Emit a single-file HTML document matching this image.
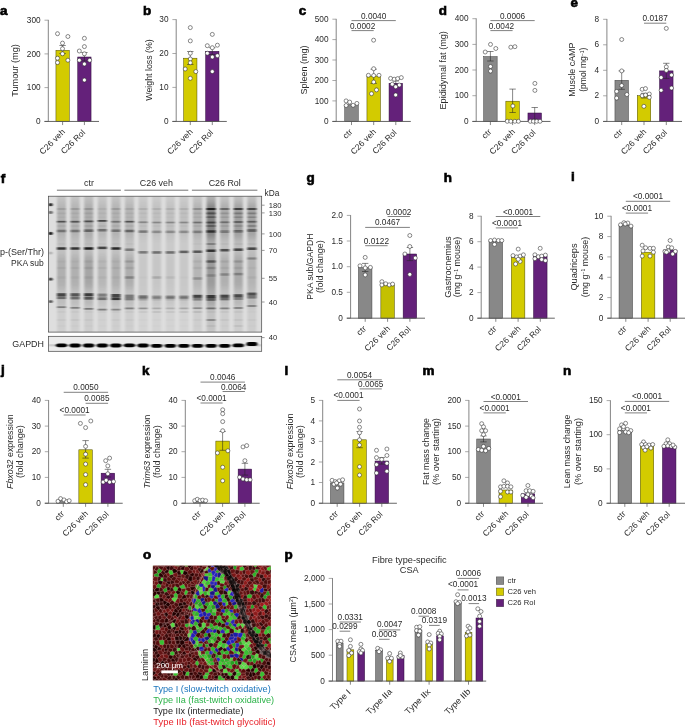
<!DOCTYPE html>
<html lang="en"><head><meta charset="utf-8"><title>Figure</title>
<style>html,body{margin:0;padding:0;background:#fff}svg{display:block}svg{font-family:"Liberation Sans",Arial,Helvetica,sans-serif;font-size:8.4px;fill:#2a2a2a}</style>
</head><body>
<svg width="685" height="728" viewBox="0 0 685 728">
<rect width="685" height="728" fill="#fff"/>
<text transform="translate(-0.10 14.60) scale(1.12 1)" font-weight="bold" fill="#000" font-size="12" stroke="#000" stroke-width="0.6">a</text>
<rect x="55.95" y="50.30" width="13.30" height="71.15" fill="#d3cb00" stroke="#4a4800" stroke-width="0.5"/>
<rect x="77.75" y="57.00" width="13.30" height="64.45" fill="#64217a" stroke="#2a0838" stroke-width="0.5"/>
<line x1="62.60" y1="45.50" x2="62.60" y2="53.50" stroke="#222" stroke-width="0.55"/>
<line x1="59.40" y1="45.50" x2="65.80" y2="45.50" stroke="#222" stroke-width="0.55"/>
<line x1="59.40" y1="53.50" x2="65.80" y2="53.50" stroke="#222" stroke-width="0.55"/>
<line x1="84.40" y1="52.50" x2="84.40" y2="60.90" stroke="#222" stroke-width="0.55"/>
<line x1="81.20" y1="52.50" x2="87.60" y2="52.50" stroke="#222" stroke-width="0.55"/>
<line x1="81.20" y1="60.90" x2="87.60" y2="60.90" stroke="#222" stroke-width="0.55"/>
<line x1="48.30" y1="19.85" x2="48.30" y2="121.45" stroke="#858585" stroke-width="1"/>
<line x1="44.50" y1="121.45" x2="99.00" y2="121.45" stroke="#555555" stroke-width="0.9"/>
<line x1="44.50" y1="20.20" x2="48.30" y2="20.20" stroke="#858585" stroke-width="0.7"/>
<text transform="translate(40.60 22.85) scale(0.985 1)" text-anchor="end">300</text>
<line x1="44.50" y1="53.90" x2="48.30" y2="53.90" stroke="#858585" stroke-width="0.7"/>
<text transform="translate(40.60 56.55) scale(0.985 1)" text-anchor="end">200</text>
<line x1="44.50" y1="87.60" x2="48.30" y2="87.60" stroke="#858585" stroke-width="0.7"/>
<text transform="translate(40.60 90.25) scale(0.985 1)" text-anchor="end">100</text>
<line x1="44.50" y1="121.45" x2="48.30" y2="121.45" stroke="#555555" stroke-width="0.7"/>
<text transform="translate(40.60 124.10) scale(0.985 1)" text-anchor="end">0</text>
<line x1="62.60" y1="121.45" x2="62.60" y2="125.05" stroke="#555555" stroke-width="0.7"/>
<text transform="translate(65.60 132.35) rotate(-45) scale(1.03 1)" text-anchor="end">C26 veh</text>
<line x1="84.40" y1="121.45" x2="84.40" y2="125.05" stroke="#555555" stroke-width="0.7"/>
<text transform="translate(85.70 133.15) rotate(-45)" text-anchor="end">C26 Rol</text>
<g fill="#fff" stroke="#2a2a2a" stroke-width="0.55">
<circle cx="57.5" cy="33.7" r="2"/>
<circle cx="67.9" cy="36.5" r="2"/>
<circle cx="62.5" cy="43.1" r="2"/>
<circle cx="62.5" cy="48.7" r="2"/>
<circle cx="62.5" cy="53.8" r="2"/>
<circle cx="57.5" cy="58.2" r="2"/>
<circle cx="67.9" cy="60.2" r="2"/>
<circle cx="57.5" cy="62.6" r="2"/>
<circle cx="84.4" cy="38.3" r="2"/>
<circle cx="84.4" cy="46.6" r="2"/>
<circle cx="79.3" cy="51.0" r="2"/>
<circle cx="84.4" cy="53.8" r="2"/>
<circle cx="79.3" cy="60.2" r="2"/>
<circle cx="89.7" cy="60.2" r="2"/>
<circle cx="84.4" cy="64.0" r="2"/>
<circle cx="84.4" cy="80.1" r="2"/>
</g>
<text transform="translate(17.50 70.50) rotate(-90)" text-anchor="middle" font-size="8.6" textLength="52.6" lengthAdjust="spacingAndGlyphs">Tumour (mg)</text>
<text transform="translate(142.90 14.80) scale(1.12 1)" font-weight="bold" fill="#000" font-size="12" stroke="#000" stroke-width="0.6">b</text>
<rect x="183.65" y="58.20" width="13.30" height="63.25" fill="#d3cb00" stroke="#4a4800" stroke-width="0.5"/>
<rect x="205.65" y="51.30" width="13.30" height="70.15" fill="#64217a" stroke="#2a0838" stroke-width="0.5"/>
<line x1="190.30" y1="51.50" x2="190.30" y2="64.50" stroke="#222" stroke-width="0.55"/>
<line x1="187.10" y1="51.50" x2="193.50" y2="51.50" stroke="#222" stroke-width="0.55"/>
<line x1="187.10" y1="64.50" x2="193.50" y2="64.50" stroke="#222" stroke-width="0.55"/>
<line x1="212.30" y1="47.70" x2="212.30" y2="54.50" stroke="#222" stroke-width="0.55"/>
<line x1="209.10" y1="47.70" x2="215.50" y2="47.70" stroke="#222" stroke-width="0.55"/>
<line x1="209.10" y1="54.50" x2="215.50" y2="54.50" stroke="#222" stroke-width="0.55"/>
<line x1="176.20" y1="19.25" x2="176.20" y2="121.45" stroke="#858585" stroke-width="1"/>
<line x1="172.40" y1="121.45" x2="226.80" y2="121.45" stroke="#555555" stroke-width="0.9"/>
<line x1="172.40" y1="19.60" x2="176.20" y2="19.60" stroke="#858585" stroke-width="0.7"/>
<text transform="translate(168.50 22.25) scale(0.985 1)" text-anchor="end">30</text>
<line x1="172.40" y1="53.50" x2="176.20" y2="53.50" stroke="#858585" stroke-width="0.7"/>
<text transform="translate(168.50 56.15) scale(0.985 1)" text-anchor="end">20</text>
<line x1="172.40" y1="87.40" x2="176.20" y2="87.40" stroke="#858585" stroke-width="0.7"/>
<text transform="translate(168.50 90.05) scale(0.985 1)" text-anchor="end">10</text>
<line x1="172.40" y1="121.45" x2="176.20" y2="121.45" stroke="#555555" stroke-width="0.7"/>
<text transform="translate(168.50 124.10) scale(0.985 1)" text-anchor="end">0</text>
<line x1="190.30" y1="121.45" x2="190.30" y2="125.05" stroke="#555555" stroke-width="0.7"/>
<text transform="translate(193.30 132.35) rotate(-45) scale(1.03 1)" text-anchor="end">C26 veh</text>
<line x1="212.30" y1="121.45" x2="212.30" y2="125.05" stroke="#555555" stroke-width="0.7"/>
<text transform="translate(213.60 133.15) rotate(-45)" text-anchor="end">C26 Rol</text>
<g fill="#fff" stroke="#2a2a2a" stroke-width="0.55">
<circle cx="190.3" cy="27.6" r="2"/>
<circle cx="190.3" cy="40.9" r="2"/>
<circle cx="190.3" cy="53.2" r="2"/>
<circle cx="190.3" cy="59.0" r="2"/>
<circle cx="190.3" cy="62.8" r="2"/>
<circle cx="185.2" cy="69.0" r="2"/>
<circle cx="195.8" cy="71.6" r="2"/>
<circle cx="190.3" cy="78.3" r="2"/>
<circle cx="212.3" cy="34.4" r="2"/>
<circle cx="207.3" cy="45.7" r="2"/>
<circle cx="217.4" cy="45.2" r="2"/>
<circle cx="212.3" cy="47.7" r="2"/>
<circle cx="207.3" cy="53.2" r="2"/>
<circle cx="217.4" cy="55.7" r="2"/>
<circle cx="212.3" cy="57.0" r="2"/>
<circle cx="212.3" cy="71.6" r="2"/>
</g>
<text transform="translate(152.40 70.00) rotate(-90)" text-anchor="middle" font-size="8.6" textLength="61.4" lengthAdjust="spacingAndGlyphs">Weight loss (%)</text>
<text transform="translate(298.70 14.60) scale(1.12 1)" font-weight="bold" fill="#000" font-size="12" stroke="#000" stroke-width="0.6">c</text>
<rect x="344.75" y="104.80" width="13.50" height="16.65" fill="#888888" stroke="#3c3c3c" stroke-width="0.5"/>
<rect x="366.95" y="76.00" width="13.50" height="45.45" fill="#d3cb00" stroke="#4a4800" stroke-width="0.5"/>
<rect x="389.05" y="83.30" width="13.50" height="38.15" fill="#64217a" stroke="#2a0838" stroke-width="0.5"/>
<line x1="373.70" y1="69.20" x2="373.70" y2="83.40" stroke="#222" stroke-width="0.55"/>
<line x1="370.50" y1="69.20" x2="376.90" y2="69.20" stroke="#222" stroke-width="0.55"/>
<line x1="370.50" y1="83.40" x2="376.90" y2="83.40" stroke="#222" stroke-width="0.55"/>
<line x1="395.80" y1="81.00" x2="395.80" y2="85.60" stroke="#222" stroke-width="0.55"/>
<line x1="392.60" y1="81.00" x2="399.00" y2="81.00" stroke="#222" stroke-width="0.55"/>
<line x1="392.60" y1="85.60" x2="399.00" y2="85.60" stroke="#222" stroke-width="0.55"/>
<line x1="336.20" y1="18.85" x2="336.20" y2="121.45" stroke="#858585" stroke-width="1"/>
<line x1="332.40" y1="121.45" x2="410.80" y2="121.45" stroke="#555555" stroke-width="0.9"/>
<line x1="332.40" y1="19.20" x2="336.20" y2="19.20" stroke="#858585" stroke-width="0.7"/>
<text transform="translate(328.50 21.85) scale(0.985 1)" text-anchor="end">500</text>
<line x1="332.40" y1="39.60" x2="336.20" y2="39.60" stroke="#858585" stroke-width="0.7"/>
<text transform="translate(328.50 42.25) scale(0.985 1)" text-anchor="end">400</text>
<line x1="332.40" y1="60.00" x2="336.20" y2="60.00" stroke="#858585" stroke-width="0.7"/>
<text transform="translate(328.50 62.65) scale(0.985 1)" text-anchor="end">300</text>
<line x1="332.40" y1="80.50" x2="336.20" y2="80.50" stroke="#858585" stroke-width="0.7"/>
<text transform="translate(328.50 83.15) scale(0.985 1)" text-anchor="end">200</text>
<line x1="332.40" y1="100.90" x2="336.20" y2="100.90" stroke="#858585" stroke-width="0.7"/>
<text transform="translate(328.50 103.55) scale(0.985 1)" text-anchor="end">100</text>
<line x1="332.40" y1="121.45" x2="336.20" y2="121.45" stroke="#555555" stroke-width="0.7"/>
<text transform="translate(328.50 124.10) scale(0.985 1)" text-anchor="end">0</text>
<line x1="351.50" y1="121.45" x2="351.50" y2="125.05" stroke="#555555" stroke-width="0.7"/>
<text transform="translate(353.10 132.35) rotate(-45) scale(1.06 1)" text-anchor="end">ctr</text>
<line x1="373.70" y1="121.45" x2="373.70" y2="125.05" stroke="#555555" stroke-width="0.7"/>
<text transform="translate(376.70 132.35) rotate(-45) scale(1.03 1)" text-anchor="end">C26 veh</text>
<line x1="395.80" y1="121.45" x2="395.80" y2="125.05" stroke="#555555" stroke-width="0.7"/>
<text transform="translate(397.10 133.15) rotate(-45)" text-anchor="end">C26 Rol</text>
<g fill="#fff" stroke="#2a2a2a" stroke-width="0.55">
<circle cx="346.1" cy="100.9" r="2"/>
<circle cx="349.7" cy="102.1" r="2"/>
<circle cx="356.9" cy="103.4" r="2"/>
<circle cx="346.1" cy="105.5" r="2"/>
<circle cx="353.1" cy="105.3" r="2"/>
<circle cx="373.6" cy="40.2" r="2"/>
<circle cx="373.7" cy="68.7" r="2"/>
<circle cx="368.4" cy="75.3" r="2"/>
<circle cx="373.7" cy="75.5" r="2"/>
<circle cx="379.0" cy="75.3" r="2"/>
<circle cx="373.7" cy="82.0" r="2"/>
<circle cx="376.5" cy="89.9" r="2"/>
<circle cx="371.5" cy="93.7" r="2"/>
<circle cx="390.6" cy="78.4" r="2"/>
<circle cx="394.2" cy="79.2" r="2"/>
<circle cx="397.7" cy="78.6" r="2"/>
<circle cx="401.3" cy="77.6" r="2"/>
<circle cx="392.3" cy="84.2" r="2"/>
<circle cx="399.3" cy="85.0" r="2"/>
<circle cx="395.7" cy="86.8" r="2"/>
<circle cx="395.7" cy="94.9" r="2"/>
</g>
<text transform="translate(306.50 70.00) rotate(-90)" text-anchor="middle" font-size="8.6" textLength="48.8" lengthAdjust="spacingAndGlyphs">Spleen (mg)</text>
<line x1="351.50" y1="20.60" x2="395.80" y2="20.60" stroke="#4a4a4a" stroke-width="0.7"/>
<text transform="translate(373.65 18.60) scale(0.985 1)" text-anchor="middle">0.0040</text>
<line x1="351.50" y1="30.60" x2="373.70" y2="30.60" stroke="#4a4a4a" stroke-width="0.7"/>
<text transform="translate(362.60 28.60) scale(0.985 1)" text-anchor="middle">0.0002</text>
<text transform="translate(438.70 14.80) scale(1.12 1)" font-weight="bold" fill="#000" font-size="12" stroke="#000" stroke-width="0.6">d</text>
<rect x="483.65" y="56.60" width="13.50" height="64.85" fill="#888888" stroke="#3c3c3c" stroke-width="0.5"/>
<rect x="505.85" y="101.20" width="13.50" height="20.25" fill="#d3cb00" stroke="#4a4800" stroke-width="0.5"/>
<rect x="527.95" y="113.00" width="13.50" height="8.45" fill="#64217a" stroke="#2a0838" stroke-width="0.5"/>
<line x1="490.40" y1="51.50" x2="490.40" y2="61.00" stroke="#222" stroke-width="0.55"/>
<line x1="487.20" y1="51.50" x2="493.60" y2="51.50" stroke="#222" stroke-width="0.55"/>
<line x1="487.20" y1="61.00" x2="493.60" y2="61.00" stroke="#222" stroke-width="0.55"/>
<line x1="512.60" y1="89.10" x2="512.60" y2="112.50" stroke="#222" stroke-width="0.55"/>
<line x1="509.40" y1="89.10" x2="515.80" y2="89.10" stroke="#222" stroke-width="0.55"/>
<line x1="509.40" y1="112.50" x2="515.80" y2="112.50" stroke="#222" stroke-width="0.55"/>
<line x1="534.70" y1="107.50" x2="534.70" y2="119.30" stroke="#222" stroke-width="0.55"/>
<line x1="531.50" y1="107.50" x2="537.90" y2="107.50" stroke="#222" stroke-width="0.55"/>
<line x1="531.50" y1="119.30" x2="537.90" y2="119.30" stroke="#222" stroke-width="0.55"/>
<line x1="476.20" y1="18.35" x2="476.20" y2="121.45" stroke="#858585" stroke-width="1"/>
<line x1="472.40" y1="121.45" x2="550.50" y2="121.45" stroke="#555555" stroke-width="0.9"/>
<line x1="472.40" y1="18.70" x2="476.20" y2="18.70" stroke="#858585" stroke-width="0.7"/>
<text transform="translate(468.50 21.35) scale(0.985 1)" text-anchor="end">400</text>
<line x1="472.40" y1="44.40" x2="476.20" y2="44.40" stroke="#858585" stroke-width="0.7"/>
<text transform="translate(468.50 47.05) scale(0.985 1)" text-anchor="end">300</text>
<line x1="472.40" y1="70.00" x2="476.20" y2="70.00" stroke="#858585" stroke-width="0.7"/>
<text transform="translate(468.50 72.65) scale(0.985 1)" text-anchor="end">200</text>
<line x1="472.40" y1="95.70" x2="476.20" y2="95.70" stroke="#858585" stroke-width="0.7"/>
<text transform="translate(468.50 98.35) scale(0.985 1)" text-anchor="end">100</text>
<line x1="472.40" y1="121.45" x2="476.20" y2="121.45" stroke="#555555" stroke-width="0.7"/>
<text transform="translate(468.50 124.10) scale(0.985 1)" text-anchor="end">0</text>
<line x1="490.40" y1="121.45" x2="490.40" y2="125.05" stroke="#555555" stroke-width="0.7"/>
<text transform="translate(492.00 132.35) rotate(-45) scale(1.06 1)" text-anchor="end">ctr</text>
<line x1="512.60" y1="121.45" x2="512.60" y2="125.05" stroke="#555555" stroke-width="0.7"/>
<text transform="translate(515.60 132.35) rotate(-45) scale(1.03 1)" text-anchor="end">C26 veh</text>
<line x1="534.70" y1="121.45" x2="534.70" y2="125.05" stroke="#555555" stroke-width="0.7"/>
<text transform="translate(536.00 133.15) rotate(-45)" text-anchor="end">C26 Rol</text>
<g fill="#fff" stroke="#2a2a2a" stroke-width="0.55">
<circle cx="490.5" cy="44.4" r="2"/>
<circle cx="495.8" cy="48.5" r="2"/>
<circle cx="485.2" cy="52.0" r="2"/>
<circle cx="490.5" cy="66.5" r="2"/>
<circle cx="490.5" cy="71.1" r="2"/>
<circle cx="510.8" cy="47.2" r="2"/>
<circle cx="514.9" cy="46.7" r="2"/>
<circle cx="512.9" cy="106.0" r="2"/>
<circle cx="507.3" cy="121.3" r="2"/>
<circle cx="510.8" cy="121.3" r="2"/>
<circle cx="514.9" cy="121.3" r="2"/>
<circle cx="518.4" cy="121.3" r="2"/>
<circle cx="534.9" cy="83.4" r="2"/>
<circle cx="534.9" cy="90.4" r="2"/>
<circle cx="530.4" cy="121.3" r="2"/>
<circle cx="533.4" cy="121.3" r="2"/>
<circle cx="536.7" cy="121.3" r="2"/>
<circle cx="540.0" cy="121.3" r="2"/>
</g>
<text transform="translate(446.40 70.30) rotate(-90)" text-anchor="middle" font-size="8.6" textLength="78.3" lengthAdjust="spacingAndGlyphs">Epididymal fat (mg)</text>
<line x1="490.40" y1="20.60" x2="534.70" y2="20.60" stroke="#4a4a4a" stroke-width="0.7"/>
<text transform="translate(512.55 18.60) scale(0.985 1)" text-anchor="middle">0.0006</text>
<line x1="490.40" y1="30.60" x2="512.60" y2="30.60" stroke="#4a4a4a" stroke-width="0.7"/>
<text transform="translate(501.50 28.60) scale(0.985 1)" text-anchor="middle">0.0042</text>
<text transform="translate(570.60 6.60) scale(1.12 1)" font-weight="bold" fill="#000" font-size="12" stroke="#000" stroke-width="0.6">e</text>
<rect x="614.95" y="80.30" width="13.50" height="41.15" fill="#888888" stroke="#3c3c3c" stroke-width="0.5"/>
<rect x="637.25" y="95.70" width="13.50" height="25.75" fill="#d3cb00" stroke="#4a4800" stroke-width="0.5"/>
<rect x="659.55" y="70.90" width="13.50" height="50.55" fill="#64217a" stroke="#2a0838" stroke-width="0.5"/>
<line x1="621.70" y1="70.90" x2="621.70" y2="89.30" stroke="#222" stroke-width="0.55"/>
<line x1="618.50" y1="70.90" x2="624.90" y2="70.90" stroke="#222" stroke-width="0.55"/>
<line x1="618.50" y1="89.30" x2="624.90" y2="89.30" stroke="#222" stroke-width="0.55"/>
<line x1="644.00" y1="93.30" x2="644.00" y2="98.00" stroke="#222" stroke-width="0.55"/>
<line x1="640.80" y1="93.30" x2="647.20" y2="93.30" stroke="#222" stroke-width="0.55"/>
<line x1="640.80" y1="98.00" x2="647.20" y2="98.00" stroke="#222" stroke-width="0.55"/>
<line x1="666.30" y1="63.30" x2="666.30" y2="78.40" stroke="#222" stroke-width="0.55"/>
<line x1="663.10" y1="63.30" x2="669.50" y2="63.30" stroke="#222" stroke-width="0.55"/>
<line x1="663.10" y1="78.40" x2="669.50" y2="78.40" stroke="#222" stroke-width="0.55"/>
<line x1="606.90" y1="18.95" x2="606.90" y2="121.45" stroke="#858585" stroke-width="1"/>
<line x1="603.10" y1="121.45" x2="682.00" y2="121.45" stroke="#555555" stroke-width="0.9"/>
<line x1="603.10" y1="19.30" x2="606.90" y2="19.30" stroke="#858585" stroke-width="0.7"/>
<text transform="translate(599.20 21.95) scale(0.985 1)" text-anchor="end">8</text>
<line x1="603.10" y1="44.80" x2="606.90" y2="44.80" stroke="#858585" stroke-width="0.7"/>
<text transform="translate(599.20 47.45) scale(0.985 1)" text-anchor="end">6</text>
<line x1="603.10" y1="70.30" x2="606.90" y2="70.30" stroke="#858585" stroke-width="0.7"/>
<text transform="translate(599.20 72.95) scale(0.985 1)" text-anchor="end">4</text>
<line x1="603.10" y1="95.80" x2="606.90" y2="95.80" stroke="#858585" stroke-width="0.7"/>
<text transform="translate(599.20 98.45) scale(0.985 1)" text-anchor="end">2</text>
<line x1="603.10" y1="121.45" x2="606.90" y2="121.45" stroke="#555555" stroke-width="0.7"/>
<text transform="translate(599.20 124.10) scale(0.985 1)" text-anchor="end">0</text>
<line x1="621.70" y1="121.45" x2="621.70" y2="125.05" stroke="#555555" stroke-width="0.7"/>
<text transform="translate(623.30 132.35) rotate(-45) scale(1.06 1)" text-anchor="end">ctr</text>
<line x1="644.00" y1="121.45" x2="644.00" y2="125.05" stroke="#555555" stroke-width="0.7"/>
<text transform="translate(647.00 132.35) rotate(-45) scale(1.03 1)" text-anchor="end">C26 veh</text>
<line x1="666.30" y1="121.45" x2="666.30" y2="125.05" stroke="#555555" stroke-width="0.7"/>
<text transform="translate(667.60 133.15) rotate(-45)" text-anchor="end">C26 Rol</text>
<g fill="#fff" stroke="#2a2a2a" stroke-width="0.55">
<circle cx="621.7" cy="39.5" r="2"/>
<circle cx="621.7" cy="70.9" r="2"/>
<circle cx="621.7" cy="85.5" r="2"/>
<circle cx="616.7" cy="91.4" r="2"/>
<circle cx="626.9" cy="94.5" r="2"/>
<circle cx="616.7" cy="98.1" r="2"/>
<circle cx="642.2" cy="89.3" r="2"/>
<circle cx="645.5" cy="88.6" r="2"/>
<circle cx="642.2" cy="95.7" r="2"/>
<circle cx="645.5" cy="95.0" r="2"/>
<circle cx="649.3" cy="94.0" r="2"/>
<circle cx="649.3" cy="97.4" r="2"/>
<circle cx="643.9" cy="106.3" r="2"/>
<circle cx="666.3" cy="28.4" r="2"/>
<circle cx="666.3" cy="66.9" r="2"/>
<circle cx="666.3" cy="70.4" r="2"/>
<circle cx="661.1" cy="77.5" r="2"/>
<circle cx="671.5" cy="75.1" r="2"/>
<circle cx="661.1" cy="90.3" r="2"/>
<circle cx="671.5" cy="88.1" r="2"/>
</g>
<text transform="translate(575.40 69.70) rotate(-90)" text-anchor="middle" font-size="8.6" textLength="54.2" lengthAdjust="spacingAndGlyphs">Muscle cAMP</text>
<text transform="translate(586.30 69.70) rotate(-90)" text-anchor="middle" font-size="8.6" textLength="44.3" lengthAdjust="spacingAndGlyphs">(pmol mg<tspan dy="-2.8" font-size="5">−1</tspan><tspan dy="2.8">)</tspan></text>
<line x1="644.00" y1="23.20" x2="666.30" y2="23.20" stroke="#4a4a4a" stroke-width="0.7"/>
<text transform="translate(655.15 21.20) scale(0.985 1)" text-anchor="middle">0.0187</text>
<text transform="translate(306.40 181.60) scale(1.12 1)" font-weight="bold" fill="#000" font-size="12" stroke="#000" stroke-width="0.6">g</text>
<rect x="358.45" y="267.60" width="13.50" height="50.60" fill="#888888" stroke="#3c3c3c" stroke-width="0.5"/>
<rect x="380.85" y="284.90" width="13.50" height="33.30" fill="#c4c000" stroke="#4a4800" stroke-width="0.5"/>
<rect x="403.15" y="254.00" width="13.50" height="64.20" fill="#64217a" stroke="#2a0838" stroke-width="0.5"/>
<line x1="365.20" y1="263.40" x2="365.20" y2="271.50" stroke="#222" stroke-width="0.55"/>
<line x1="362.00" y1="263.40" x2="368.40" y2="263.40" stroke="#222" stroke-width="0.55"/>
<line x1="362.00" y1="271.50" x2="368.40" y2="271.50" stroke="#222" stroke-width="0.55"/>
<line x1="409.90" y1="247.50" x2="409.90" y2="260.60" stroke="#222" stroke-width="0.55"/>
<line x1="406.70" y1="247.50" x2="413.10" y2="247.50" stroke="#222" stroke-width="0.55"/>
<line x1="406.70" y1="260.60" x2="413.10" y2="260.60" stroke="#222" stroke-width="0.55"/>
<line x1="350.60" y1="215.05" x2="350.60" y2="318.20" stroke="#858585" stroke-width="1"/>
<line x1="346.80" y1="318.20" x2="425.00" y2="318.20" stroke="#555555" stroke-width="0.9"/>
<line x1="346.80" y1="215.40" x2="350.60" y2="215.40" stroke="#858585" stroke-width="0.7"/>
<text transform="translate(342.90 218.05) scale(0.985 1)" text-anchor="end">2.0</text>
<line x1="346.80" y1="241.00" x2="350.60" y2="241.00" stroke="#858585" stroke-width="0.7"/>
<text transform="translate(342.90 243.65) scale(0.985 1)" text-anchor="end">1.5</text>
<line x1="346.80" y1="266.70" x2="350.60" y2="266.70" stroke="#858585" stroke-width="0.7"/>
<text transform="translate(342.90 269.35) scale(0.985 1)" text-anchor="end">1.0</text>
<line x1="346.80" y1="292.30" x2="350.60" y2="292.30" stroke="#858585" stroke-width="0.7"/>
<text transform="translate(342.90 294.95) scale(0.985 1)" text-anchor="end">0.5</text>
<line x1="346.80" y1="318.20" x2="350.60" y2="318.20" stroke="#555555" stroke-width="0.7"/>
<text transform="translate(342.90 320.85) scale(0.985 1)" text-anchor="end">0</text>
<line x1="365.20" y1="318.20" x2="365.20" y2="321.80" stroke="#555555" stroke-width="0.7"/>
<text transform="translate(366.80 329.10) rotate(-45) scale(1.06 1)" text-anchor="end">ctr</text>
<line x1="387.60" y1="318.20" x2="387.60" y2="321.80" stroke="#555555" stroke-width="0.7"/>
<text transform="translate(390.60 329.10) rotate(-45) scale(1.03 1)" text-anchor="end">C26 veh</text>
<line x1="409.90" y1="318.20" x2="409.90" y2="321.80" stroke="#555555" stroke-width="0.7"/>
<text transform="translate(411.20 329.90) rotate(-45)" text-anchor="end">C26 Rol</text>
<g fill="#fff" stroke="#2a2a2a" stroke-width="0.55">
<circle cx="365.2" cy="257.4" r="2"/>
<circle cx="360.0" cy="265.8" r="2"/>
<circle cx="365.2" cy="267.9" r="2"/>
<circle cx="370.4" cy="267.4" r="2"/>
<circle cx="365.2" cy="274.9" r="2"/>
<circle cx="381.9" cy="281.7" r="2"/>
<circle cx="381.9" cy="284.9" r="2"/>
<circle cx="385.8" cy="283.8" r="2"/>
<circle cx="389.2" cy="284.9" r="2"/>
<circle cx="392.6" cy="284.1" r="2"/>
<circle cx="409.8" cy="235.5" r="2"/>
<circle cx="409.8" cy="246.5" r="2"/>
<circle cx="404.9" cy="254.0" r="2"/>
<circle cx="415.3" cy="258.0" r="2"/>
<circle cx="409.8" cy="274.4" r="2"/>
</g>
<text transform="translate(313.10 266.60) rotate(-90)" text-anchor="middle" font-size="8.6" textLength="66.4" lengthAdjust="spacingAndGlyphs">PKA sub/GAPDH</text>
<text transform="translate(323.00 266.60) rotate(-90)" text-anchor="middle" font-size="8.6" textLength="52.8" lengthAdjust="spacingAndGlyphs">(fold change)</text>
<line x1="387.60" y1="216.50" x2="409.90" y2="216.50" stroke="#4a4a4a" stroke-width="0.7"/>
<text transform="translate(398.75 214.50) scale(0.985 1)" text-anchor="middle">0.0002</text>
<line x1="365.20" y1="227.40" x2="409.90" y2="227.40" stroke="#4a4a4a" stroke-width="0.7"/>
<text transform="translate(387.55 225.40) scale(0.985 1)" text-anchor="middle">0.0467</text>
<line x1="365.20" y1="245.70" x2="387.60" y2="245.70" stroke="#4a4a4a" stroke-width="0.7"/>
<text transform="translate(376.40 243.70) scale(0.985 1)" text-anchor="middle">0.0122</text>
<text transform="translate(443.70 181.60) scale(1.12 1)" font-weight="bold" fill="#000" font-size="12" stroke="#000" stroke-width="0.6">h</text>
<rect x="489.05" y="241.00" width="13.50" height="77.20" fill="#888888" stroke="#3c3c3c" stroke-width="0.5"/>
<rect x="511.35" y="257.70" width="13.50" height="60.50" fill="#d3cb00" stroke="#4a4800" stroke-width="0.5"/>
<rect x="533.55" y="256.70" width="13.50" height="61.50" fill="#64217a" stroke="#2a0838" stroke-width="0.5"/>
<line x1="481.20" y1="215.85" x2="481.20" y2="318.20" stroke="#858585" stroke-width="1"/>
<line x1="477.40" y1="318.20" x2="554.80" y2="318.20" stroke="#555555" stroke-width="0.9"/>
<line x1="477.40" y1="216.20" x2="481.20" y2="216.20" stroke="#858585" stroke-width="0.7"/>
<text transform="translate(473.50 218.85) scale(0.985 1)" text-anchor="end">8</text>
<line x1="477.40" y1="241.70" x2="481.20" y2="241.70" stroke="#858585" stroke-width="0.7"/>
<text transform="translate(473.50 244.35) scale(0.985 1)" text-anchor="end">6</text>
<line x1="477.40" y1="267.10" x2="481.20" y2="267.10" stroke="#858585" stroke-width="0.7"/>
<text transform="translate(473.50 269.75) scale(0.985 1)" text-anchor="end">4</text>
<line x1="477.40" y1="292.60" x2="481.20" y2="292.60" stroke="#858585" stroke-width="0.7"/>
<text transform="translate(473.50 295.25) scale(0.985 1)" text-anchor="end">2</text>
<line x1="477.40" y1="318.20" x2="481.20" y2="318.20" stroke="#555555" stroke-width="0.7"/>
<text transform="translate(473.50 320.85) scale(0.985 1)" text-anchor="end">0</text>
<line x1="495.80" y1="318.20" x2="495.80" y2="321.80" stroke="#555555" stroke-width="0.7"/>
<text transform="translate(497.40 329.10) rotate(-45) scale(1.06 1)" text-anchor="end">ctr</text>
<line x1="518.10" y1="318.20" x2="518.10" y2="321.80" stroke="#555555" stroke-width="0.7"/>
<text transform="translate(521.10 329.10) rotate(-45) scale(1.03 1)" text-anchor="end">C26 veh</text>
<line x1="540.30" y1="318.20" x2="540.30" y2="321.80" stroke="#555555" stroke-width="0.7"/>
<text transform="translate(541.60 329.90) rotate(-45)" text-anchor="end">C26 Rol</text>
<g fill="#fff" stroke="#2a2a2a" stroke-width="0.55">
<circle cx="490.6" cy="240.5" r="2"/>
<circle cx="494.5" cy="240.0" r="2"/>
<circle cx="498.4" cy="240.5" r="2"/>
<circle cx="501.8" cy="240.5" r="2"/>
<circle cx="494.5" cy="244.4" r="2"/>
<circle cx="518.2" cy="249.1" r="2"/>
<circle cx="513.0" cy="255.6" r="2"/>
<circle cx="516.7" cy="256.9" r="2"/>
<circle cx="520.1" cy="256.1" r="2"/>
<circle cx="523.4" cy="254.8" r="2"/>
<circle cx="515.6" cy="264.0" r="2"/>
<circle cx="520.1" cy="261.4" r="2"/>
<circle cx="518.2" cy="259.3" r="2"/>
<circle cx="540.2" cy="248.3" r="2"/>
<circle cx="534.9" cy="254.8" r="2"/>
<circle cx="538.3" cy="256.7" r="2"/>
<circle cx="541.7" cy="256.1" r="2"/>
<circle cx="545.4" cy="255.1" r="2"/>
<circle cx="534.9" cy="258.7" r="2"/>
<circle cx="541.7" cy="259.5" r="2"/>
<circle cx="545.4" cy="260.6" r="2"/>
</g>
<text transform="translate(450.50 267.10) rotate(-90)" text-anchor="middle" font-size="8.6" textLength="61.4" lengthAdjust="spacingAndGlyphs">Gastrocnemius</text>
<text transform="translate(460.40 267.10) rotate(-90)" text-anchor="middle" font-size="8.6" textLength="60.4" lengthAdjust="spacingAndGlyphs">(mg g<tspan dy="-2.8" font-size="5">−1</tspan><tspan dy="2.8"> mouse)</tspan></text>
<line x1="495.80" y1="216.50" x2="540.30" y2="216.50" stroke="#4a4a4a" stroke-width="0.7"/>
<text transform="translate(518.05 214.50) scale(0.985 1)" text-anchor="middle">&lt;0.0001</text>
<line x1="495.80" y1="227.90" x2="518.10" y2="227.90" stroke="#4a4a4a" stroke-width="0.7"/>
<text transform="translate(506.95 225.90) scale(0.985 1)" text-anchor="middle">&lt;0.0001</text>
<text transform="translate(571.00 181.20) scale(1.12 1)" font-weight="bold" fill="#000" font-size="12" stroke="#000" stroke-width="0.6">i</text>
<rect x="619.05" y="225.30" width="13.50" height="92.90" fill="#888888" stroke="#3c3c3c" stroke-width="0.5"/>
<rect x="641.35" y="252.20" width="13.50" height="66.00" fill="#d3cb00" stroke="#4a4800" stroke-width="0.5"/>
<rect x="663.45" y="250.10" width="13.50" height="68.10" fill="#64217a" stroke="#2a0838" stroke-width="0.5"/>
<line x1="611.10" y1="215.85" x2="611.10" y2="318.20" stroke="#858585" stroke-width="1"/>
<line x1="607.30" y1="318.20" x2="685.00" y2="318.20" stroke="#555555" stroke-width="0.9"/>
<line x1="607.30" y1="216.20" x2="611.10" y2="216.20" stroke="#858585" stroke-width="0.7"/>
<text transform="translate(603.40 218.85) scale(0.985 1)" text-anchor="end">10</text>
<line x1="607.30" y1="236.60" x2="611.10" y2="236.60" stroke="#858585" stroke-width="0.7"/>
<text transform="translate(603.40 239.25) scale(0.985 1)" text-anchor="end">8</text>
<line x1="607.30" y1="256.90" x2="611.10" y2="256.90" stroke="#858585" stroke-width="0.7"/>
<text transform="translate(603.40 259.55) scale(0.985 1)" text-anchor="end">6</text>
<line x1="607.30" y1="277.30" x2="611.10" y2="277.30" stroke="#858585" stroke-width="0.7"/>
<text transform="translate(603.40 279.95) scale(0.985 1)" text-anchor="end">4</text>
<line x1="607.30" y1="297.60" x2="611.10" y2="297.60" stroke="#858585" stroke-width="0.7"/>
<text transform="translate(603.40 300.25) scale(0.985 1)" text-anchor="end">2</text>
<line x1="607.30" y1="318.20" x2="611.10" y2="318.20" stroke="#555555" stroke-width="0.7"/>
<text transform="translate(603.40 320.85) scale(0.985 1)" text-anchor="end">0</text>
<line x1="625.80" y1="318.20" x2="625.80" y2="321.80" stroke="#555555" stroke-width="0.7"/>
<text transform="translate(627.40 329.10) rotate(-45) scale(1.06 1)" text-anchor="end">ctr</text>
<line x1="648.10" y1="318.20" x2="648.10" y2="321.80" stroke="#555555" stroke-width="0.7"/>
<text transform="translate(651.10 329.10) rotate(-45) scale(1.03 1)" text-anchor="end">C26 veh</text>
<line x1="670.20" y1="318.20" x2="670.20" y2="321.80" stroke="#555555" stroke-width="0.7"/>
<text transform="translate(671.50 329.90) rotate(-45)" text-anchor="end">C26 Rol</text>
<g fill="#fff" stroke="#2a2a2a" stroke-width="0.55">
<circle cx="620.5" cy="224.8" r="2"/>
<circle cx="623.9" cy="222.7" r="2"/>
<circle cx="627.8" cy="223.0" r="2"/>
<circle cx="631.0" cy="226.1" r="2"/>
<circle cx="625.2" cy="224.0" r="2"/>
<circle cx="642.2" cy="245.2" r="2"/>
<circle cx="645.6" cy="247.8" r="2"/>
<circle cx="650.0" cy="248.3" r="2"/>
<circle cx="653.4" cy="248.3" r="2"/>
<circle cx="643.0" cy="250.9" r="2"/>
<circle cx="653.4" cy="252.2" r="2"/>
<circle cx="642.2" cy="256.1" r="2"/>
<circle cx="650.0" cy="256.1" r="2"/>
<circle cx="670.1" cy="240.5" r="2"/>
<circle cx="668.3" cy="247.0" r="2"/>
<circle cx="671.7" cy="247.8" r="2"/>
<circle cx="664.9" cy="251.4" r="2"/>
<circle cx="668.3" cy="250.9" r="2"/>
<circle cx="675.3" cy="251.4" r="2"/>
<circle cx="672.7" cy="254.0" r="2"/>
<circle cx="666.5" cy="252.2" r="2"/>
</g>
<text transform="translate(576.80 267.00) rotate(-90)" text-anchor="middle" font-size="8.6" textLength="47.2" lengthAdjust="spacingAndGlyphs">Quadriceps</text>
<text transform="translate(587.80 267.00) rotate(-90)" text-anchor="middle" font-size="8.6" textLength="60.4" lengthAdjust="spacingAndGlyphs">(mg g<tspan dy="-2.8" font-size="5">−1</tspan><tspan dy="2.8"> mouse)</tspan></text>
<line x1="625.80" y1="201.30" x2="670.20" y2="201.30" stroke="#4a4a4a" stroke-width="0.7"/>
<text transform="translate(648.00 199.30) scale(0.985 1)" text-anchor="middle">&lt;0.0001</text>
<line x1="625.80" y1="213.10" x2="648.10" y2="213.10" stroke="#4a4a4a" stroke-width="0.7"/>
<text transform="translate(636.95 211.10) scale(0.985 1)" text-anchor="middle">&lt;0.0001</text>
<text transform="translate(1.00 374.40) scale(1.12 1)" font-weight="bold" fill="#000" font-size="12" stroke="#000" stroke-width="0.6">j</text>
<rect x="56.55" y="500.60" width="13.50" height="2.65" fill="#888888" stroke="#3c3c3c" stroke-width="0.15"/>
<rect x="78.85" y="449.80" width="13.50" height="53.45" fill="#d3cb00" stroke="#4a4800" stroke-width="0.5"/>
<rect x="101.15" y="473.20" width="13.50" height="30.05" fill="#64217a" stroke="#2a0838" stroke-width="0.5"/>
<line x1="85.60" y1="440.60" x2="85.60" y2="458.10" stroke="#222" stroke-width="0.55"/>
<line x1="82.40" y1="440.60" x2="88.80" y2="440.60" stroke="#222" stroke-width="0.55"/>
<line x1="82.40" y1="458.10" x2="88.80" y2="458.10" stroke="#222" stroke-width="0.55"/>
<line x1="107.90" y1="469.30" x2="107.90" y2="477.00" stroke="#222" stroke-width="0.55"/>
<line x1="104.70" y1="469.30" x2="111.10" y2="469.30" stroke="#222" stroke-width="0.55"/>
<line x1="104.70" y1="477.00" x2="111.10" y2="477.00" stroke="#222" stroke-width="0.55"/>
<line x1="48.60" y1="400.05" x2="48.60" y2="503.25" stroke="#858585" stroke-width="1"/>
<line x1="44.80" y1="503.25" x2="122.70" y2="503.25" stroke="#555555" stroke-width="0.9"/>
<line x1="44.80" y1="400.40" x2="48.60" y2="400.40" stroke="#858585" stroke-width="0.7"/>
<text transform="translate(40.90 403.05) scale(0.985 1)" text-anchor="end">40</text>
<line x1="44.80" y1="426.10" x2="48.60" y2="426.10" stroke="#858585" stroke-width="0.7"/>
<text transform="translate(40.90 428.75) scale(0.985 1)" text-anchor="end">30</text>
<line x1="44.80" y1="451.70" x2="48.60" y2="451.70" stroke="#858585" stroke-width="0.7"/>
<text transform="translate(40.90 454.35) scale(0.985 1)" text-anchor="end">20</text>
<line x1="44.80" y1="477.40" x2="48.60" y2="477.40" stroke="#858585" stroke-width="0.7"/>
<text transform="translate(40.90 480.05) scale(0.985 1)" text-anchor="end">10</text>
<line x1="44.80" y1="503.25" x2="48.60" y2="503.25" stroke="#555555" stroke-width="0.7"/>
<text transform="translate(40.90 505.90) scale(0.985 1)" text-anchor="end">0</text>
<line x1="63.30" y1="503.25" x2="63.30" y2="506.85" stroke="#555555" stroke-width="0.7"/>
<text transform="translate(64.90 514.15) rotate(-45) scale(1.06 1)" text-anchor="end">ctr</text>
<line x1="85.60" y1="503.25" x2="85.60" y2="506.85" stroke="#555555" stroke-width="0.7"/>
<text transform="translate(88.60 514.15) rotate(-45) scale(1.03 1)" text-anchor="end">C26 veh</text>
<line x1="107.90" y1="503.25" x2="107.90" y2="506.85" stroke="#555555" stroke-width="0.7"/>
<text transform="translate(109.20 514.95) rotate(-45)" text-anchor="end">C26 Rol</text>
<g fill="#fff" stroke="#2a2a2a" stroke-width="0.55">
<circle cx="58.0" cy="501.2" r="2"/>
<circle cx="60.6" cy="498.6" r="2"/>
<circle cx="64.0" cy="499.9" r="2"/>
<circle cx="66.6" cy="501.7" r="2"/>
<circle cx="69.2" cy="500.7" r="2"/>
<circle cx="80.4" cy="423.4" r="2"/>
<circle cx="90.8" cy="421.0" r="2"/>
<circle cx="85.6" cy="427.6" r="2"/>
<circle cx="85.6" cy="446.4" r="2"/>
<circle cx="85.6" cy="454.2" r="2"/>
<circle cx="85.6" cy="464.1" r="2"/>
<circle cx="85.6" cy="474.6" r="2"/>
<circle cx="85.6" cy="484.7" r="2"/>
<circle cx="109.6" cy="458.1" r="2"/>
<circle cx="105.7" cy="460.7" r="2"/>
<circle cx="107.8" cy="465.9" r="2"/>
<circle cx="107.8" cy="473.8" r="2"/>
<circle cx="103.1" cy="482.1" r="2"/>
<circle cx="106.2" cy="480.3" r="2"/>
<circle cx="109.6" cy="482.1" r="2"/>
<circle cx="113.5" cy="481.6" r="2"/>
</g>
<text transform="translate(12.70 451.60) rotate(-90)" text-anchor="middle" font-size="8.6" textLength="74.7" lengthAdjust="spacingAndGlyphs"><tspan font-style="italic">Fbxo32</tspan> expression</text>
<text transform="translate(23.10 451.60) rotate(-90)" text-anchor="middle" font-size="8.6" textLength="52.8" lengthAdjust="spacingAndGlyphs">(fold change)</text>
<line x1="63.70" y1="392.30" x2="108.10" y2="392.30" stroke="#4a4a4a" stroke-width="0.7"/>
<text transform="translate(85.90 390.30) scale(0.985 1)" text-anchor="middle">0.0050</text>
<line x1="85.60" y1="403.30" x2="108.10" y2="403.30" stroke="#4a4a4a" stroke-width="0.7"/>
<text transform="translate(96.85 401.30) scale(0.985 1)" text-anchor="middle">0.0085</text>
<line x1="63.70" y1="415.00" x2="85.60" y2="415.00" stroke="#4a4a4a" stroke-width="0.7"/>
<text transform="translate(74.65 413.00) scale(0.985 1)" text-anchor="middle">&lt;0.0001</text>
<text transform="translate(141.90 374.60) scale(1.12 1)" font-weight="bold" fill="#000" font-size="12" stroke="#000" stroke-width="0.6">k</text>
<rect x="193.25" y="500.60" width="13.50" height="2.65" fill="#888888" stroke="#3c3c3c" stroke-width="0.15"/>
<rect x="215.85" y="441.10" width="13.50" height="62.15" fill="#d3cb00" stroke="#4a4800" stroke-width="0.5"/>
<rect x="238.15" y="469.10" width="13.50" height="34.15" fill="#64217a" stroke="#2a0838" stroke-width="0.5"/>
<line x1="222.60" y1="431.50" x2="222.60" y2="450.30" stroke="#222" stroke-width="0.55"/>
<line x1="219.40" y1="431.50" x2="225.80" y2="431.50" stroke="#222" stroke-width="0.55"/>
<line x1="219.40" y1="450.30" x2="225.80" y2="450.30" stroke="#222" stroke-width="0.55"/>
<line x1="244.90" y1="463.30" x2="244.90" y2="475.10" stroke="#222" stroke-width="0.55"/>
<line x1="241.70" y1="463.30" x2="248.10" y2="463.30" stroke="#222" stroke-width="0.55"/>
<line x1="241.70" y1="475.10" x2="248.10" y2="475.10" stroke="#222" stroke-width="0.55"/>
<line x1="185.30" y1="400.05" x2="185.30" y2="503.25" stroke="#858585" stroke-width="1"/>
<line x1="181.50" y1="503.25" x2="259.70" y2="503.25" stroke="#555555" stroke-width="0.9"/>
<line x1="181.50" y1="400.40" x2="185.30" y2="400.40" stroke="#858585" stroke-width="0.7"/>
<text transform="translate(177.60 403.05) scale(0.985 1)" text-anchor="end">40</text>
<line x1="181.50" y1="426.10" x2="185.30" y2="426.10" stroke="#858585" stroke-width="0.7"/>
<text transform="translate(177.60 428.75) scale(0.985 1)" text-anchor="end">30</text>
<line x1="181.50" y1="451.70" x2="185.30" y2="451.70" stroke="#858585" stroke-width="0.7"/>
<text transform="translate(177.60 454.35) scale(0.985 1)" text-anchor="end">20</text>
<line x1="181.50" y1="477.40" x2="185.30" y2="477.40" stroke="#858585" stroke-width="0.7"/>
<text transform="translate(177.60 480.05) scale(0.985 1)" text-anchor="end">10</text>
<line x1="181.50" y1="503.25" x2="185.30" y2="503.25" stroke="#555555" stroke-width="0.7"/>
<text transform="translate(177.60 505.90) scale(0.985 1)" text-anchor="end">0</text>
<line x1="200.00" y1="503.25" x2="200.00" y2="506.85" stroke="#555555" stroke-width="0.7"/>
<text transform="translate(201.60 514.15) rotate(-45) scale(1.06 1)" text-anchor="end">ctr</text>
<line x1="222.60" y1="503.25" x2="222.60" y2="506.85" stroke="#555555" stroke-width="0.7"/>
<text transform="translate(225.60 514.15) rotate(-45) scale(1.03 1)" text-anchor="end">C26 veh</text>
<line x1="244.90" y1="503.25" x2="244.90" y2="506.85" stroke="#555555" stroke-width="0.7"/>
<text transform="translate(246.20 514.95) rotate(-45)" text-anchor="end">C26 Rol</text>
<g fill="#fff" stroke="#2a2a2a" stroke-width="0.55">
<circle cx="194.7" cy="500.7" r="2"/>
<circle cx="197.3" cy="499.3" r="2"/>
<circle cx="200.0" cy="500.7" r="2"/>
<circle cx="202.6" cy="500.1" r="2"/>
<circle cx="205.7" cy="500.7" r="2"/>
<circle cx="222.7" cy="409.8" r="2"/>
<circle cx="222.7" cy="413.7" r="2"/>
<circle cx="222.7" cy="421.6" r="2"/>
<circle cx="222.7" cy="430.7" r="2"/>
<circle cx="217.4" cy="452.9" r="2"/>
<circle cx="227.9" cy="450.8" r="2"/>
<circle cx="222.7" cy="467.2" r="2"/>
<circle cx="222.7" cy="480.8" r="2"/>
<circle cx="243.0" cy="446.9" r="2"/>
<circle cx="246.7" cy="445.6" r="2"/>
<circle cx="244.9" cy="460.7" r="2"/>
<circle cx="239.6" cy="477.2" r="2"/>
<circle cx="243.0" cy="479.0" r="2"/>
<circle cx="246.7" cy="479.8" r="2"/>
<circle cx="250.1" cy="479.8" r="2"/>
</g>
<text transform="translate(150.00 451.60) rotate(-90)" text-anchor="middle" font-size="8.6" textLength="73.7" lengthAdjust="spacingAndGlyphs"><tspan font-style="italic">Trim63</tspan> expression</text>
<text transform="translate(159.90 451.60) rotate(-90)" text-anchor="middle" font-size="8.6" textLength="52.8" lengthAdjust="spacingAndGlyphs">(fold change)</text>
<line x1="200.50" y1="382.10" x2="244.90" y2="382.10" stroke="#4a4a4a" stroke-width="0.7"/>
<text transform="translate(222.70 380.10) scale(0.985 1)" text-anchor="middle">0.0046</text>
<line x1="222.60" y1="391.50" x2="244.90" y2="391.50" stroke="#4a4a4a" stroke-width="0.7"/>
<text transform="translate(233.75 389.50) scale(0.985 1)" text-anchor="middle">0.0064</text>
<line x1="200.50" y1="403.00" x2="222.60" y2="403.00" stroke="#4a4a4a" stroke-width="0.7"/>
<text transform="translate(211.55 401.00) scale(0.985 1)" text-anchor="middle">&lt;0.0001</text>
<text transform="translate(284.50 374.60) scale(1.12 1)" font-weight="bold" fill="#000" font-size="12" stroke="#000" stroke-width="0.6">l</text>
<rect x="330.45" y="482.90" width="13.50" height="20.35" fill="#888888" stroke="#3c3c3c" stroke-width="0.5"/>
<rect x="352.85" y="439.80" width="13.50" height="63.45" fill="#d3cb00" stroke="#4a4800" stroke-width="0.5"/>
<rect x="375.05" y="461.00" width="13.50" height="42.25" fill="#64217a" stroke="#2a0838" stroke-width="0.5"/>
<line x1="359.60" y1="431.50" x2="359.60" y2="447.70" stroke="#222" stroke-width="0.55"/>
<line x1="356.40" y1="431.50" x2="362.80" y2="431.50" stroke="#222" stroke-width="0.55"/>
<line x1="356.40" y1="447.70" x2="362.80" y2="447.70" stroke="#222" stroke-width="0.55"/>
<line x1="381.80" y1="457.60" x2="381.80" y2="464.10" stroke="#222" stroke-width="0.55"/>
<line x1="378.60" y1="457.60" x2="385.00" y2="457.60" stroke="#222" stroke-width="0.55"/>
<line x1="378.60" y1="464.10" x2="385.00" y2="464.10" stroke="#222" stroke-width="0.55"/>
<line x1="322.70" y1="400.05" x2="322.70" y2="503.25" stroke="#858585" stroke-width="1"/>
<line x1="318.90" y1="503.25" x2="396.90" y2="503.25" stroke="#555555" stroke-width="0.9"/>
<line x1="318.90" y1="400.40" x2="322.70" y2="400.40" stroke="#858585" stroke-width="0.7"/>
<text transform="translate(315.00 403.05) scale(0.985 1)" text-anchor="end">5</text>
<line x1="318.90" y1="420.90" x2="322.70" y2="420.90" stroke="#858585" stroke-width="0.7"/>
<text transform="translate(315.00 423.55) scale(0.985 1)" text-anchor="end">4</text>
<line x1="318.90" y1="441.40" x2="322.70" y2="441.40" stroke="#858585" stroke-width="0.7"/>
<text transform="translate(315.00 444.05) scale(0.985 1)" text-anchor="end">3</text>
<line x1="318.90" y1="462.00" x2="322.70" y2="462.00" stroke="#858585" stroke-width="0.7"/>
<text transform="translate(315.00 464.65) scale(0.985 1)" text-anchor="end">2</text>
<line x1="318.90" y1="482.50" x2="322.70" y2="482.50" stroke="#858585" stroke-width="0.7"/>
<text transform="translate(315.00 485.15) scale(0.985 1)" text-anchor="end">1</text>
<line x1="318.90" y1="503.25" x2="322.70" y2="503.25" stroke="#555555" stroke-width="0.7"/>
<text transform="translate(315.00 505.90) scale(0.985 1)" text-anchor="end">0</text>
<line x1="337.20" y1="503.25" x2="337.20" y2="506.85" stroke="#555555" stroke-width="0.7"/>
<text transform="translate(338.80 514.15) rotate(-45) scale(1.06 1)" text-anchor="end">ctr</text>
<line x1="359.60" y1="503.25" x2="359.60" y2="506.85" stroke="#555555" stroke-width="0.7"/>
<text transform="translate(362.60 514.15) rotate(-45) scale(1.03 1)" text-anchor="end">C26 veh</text>
<line x1="381.80" y1="503.25" x2="381.80" y2="506.85" stroke="#555555" stroke-width="0.7"/>
<text transform="translate(383.10 514.95) rotate(-45)" text-anchor="end">C26 Rol</text>
<g fill="#fff" stroke="#2a2a2a" stroke-width="0.55">
<circle cx="332.1" cy="480.3" r="2"/>
<circle cx="335.3" cy="481.6" r="2"/>
<circle cx="339.2" cy="480.8" r="2"/>
<circle cx="342.6" cy="479.8" r="2"/>
<circle cx="334.0" cy="484.2" r="2"/>
<circle cx="340.5" cy="484.2" r="2"/>
<circle cx="337.3" cy="488.1" r="2"/>
<circle cx="336.6" cy="482.9" r="2"/>
<circle cx="359.5" cy="409.0" r="2"/>
<circle cx="359.5" cy="421.0" r="2"/>
<circle cx="359.5" cy="427.3" r="2"/>
<circle cx="359.5" cy="432.8" r="2"/>
<circle cx="359.5" cy="439.8" r="2"/>
<circle cx="359.5" cy="445.1" r="2"/>
<circle cx="359.5" cy="466.7" r="2"/>
<circle cx="359.5" cy="475.1" r="2"/>
<circle cx="376.5" cy="450.3" r="2"/>
<circle cx="386.9" cy="449.0" r="2"/>
<circle cx="376.5" cy="457.6" r="2"/>
<circle cx="386.9" cy="455.5" r="2"/>
<circle cx="381.7" cy="459.4" r="2"/>
<circle cx="376.5" cy="464.6" r="2"/>
<circle cx="386.9" cy="463.3" r="2"/>
<circle cx="376.5" cy="473.0" r="2"/>
<circle cx="386.9" cy="471.2" r="2"/>
</g>
<text transform="translate(292.60 451.60) rotate(-90)" text-anchor="middle" font-size="8.6" textLength="76.0" lengthAdjust="spacingAndGlyphs"><tspan font-style="italic">Fbxo30</tspan> expression</text>
<text transform="translate(303.00 451.60) rotate(-90)" text-anchor="middle" font-size="8.6" textLength="52.8" lengthAdjust="spacingAndGlyphs">(fold change)</text>
<line x1="337.30" y1="379.80" x2="381.80" y2="379.80" stroke="#4a4a4a" stroke-width="0.7"/>
<text transform="translate(359.55 377.80) scale(0.985 1)" text-anchor="middle">0.0054</text>
<line x1="359.60" y1="388.90" x2="381.80" y2="388.90" stroke="#4a4a4a" stroke-width="0.7"/>
<text transform="translate(370.70 386.90) scale(0.985 1)" text-anchor="middle">0.0065</text>
<line x1="337.30" y1="400.40" x2="359.60" y2="400.40" stroke="#4a4a4a" stroke-width="0.7"/>
<text transform="translate(348.45 398.40) scale(0.985 1)" text-anchor="middle">&lt;0.0001</text>
<text transform="translate(422.40 374.60) scale(1.12 1)" font-weight="bold" fill="#000" font-size="12" stroke="#000" stroke-width="0.6">m</text>
<rect x="476.75" y="439.00" width="13.50" height="64.25" fill="#888888" stroke="#3c3c3c" stroke-width="0.5"/>
<rect x="499.05" y="490.00" width="13.50" height="13.25" fill="#d3cb00" stroke="#4a4800" stroke-width="0.5"/>
<rect x="521.25" y="493.90" width="13.50" height="9.35" fill="#64217a" stroke="#2a0838" stroke-width="0.5"/>
<line x1="483.50" y1="435.90" x2="483.50" y2="441.90" stroke="#222" stroke-width="0.55"/>
<line x1="480.30" y1="435.90" x2="486.70" y2="435.90" stroke="#222" stroke-width="0.55"/>
<line x1="480.30" y1="441.90" x2="486.70" y2="441.90" stroke="#222" stroke-width="0.55"/>
<line x1="468.90" y1="400.05" x2="468.90" y2="503.25" stroke="#858585" stroke-width="1"/>
<line x1="465.10" y1="503.25" x2="543.00" y2="503.25" stroke="#555555" stroke-width="0.9"/>
<line x1="465.10" y1="400.40" x2="468.90" y2="400.40" stroke="#858585" stroke-width="0.7"/>
<text transform="translate(461.20 403.05) scale(0.985 1)" text-anchor="end">200</text>
<line x1="465.10" y1="426.10" x2="468.90" y2="426.10" stroke="#858585" stroke-width="0.7"/>
<text transform="translate(461.20 428.75) scale(0.985 1)" text-anchor="end">150</text>
<line x1="465.10" y1="451.70" x2="468.90" y2="451.70" stroke="#858585" stroke-width="0.7"/>
<text transform="translate(461.20 454.35) scale(0.985 1)" text-anchor="end">100</text>
<line x1="465.10" y1="477.40" x2="468.90" y2="477.40" stroke="#858585" stroke-width="0.7"/>
<text transform="translate(461.20 480.05) scale(0.985 1)" text-anchor="end">50</text>
<line x1="465.10" y1="503.25" x2="468.90" y2="503.25" stroke="#555555" stroke-width="0.7"/>
<text transform="translate(461.20 505.90) scale(0.985 1)" text-anchor="end">0</text>
<line x1="483.50" y1="503.25" x2="483.50" y2="506.85" stroke="#555555" stroke-width="0.7"/>
<text transform="translate(485.10 514.15) rotate(-45) scale(1.06 1)" text-anchor="end">ctr</text>
<line x1="505.80" y1="503.25" x2="505.80" y2="506.85" stroke="#555555" stroke-width="0.7"/>
<text transform="translate(508.80 514.15) rotate(-45) scale(1.03 1)" text-anchor="end">C26 veh</text>
<line x1="528.00" y1="503.25" x2="528.00" y2="506.85" stroke="#555555" stroke-width="0.7"/>
<text transform="translate(529.30 514.95) rotate(-45)" text-anchor="end">C26 Rol</text>
<g fill="#fff" stroke="#2a2a2a" stroke-width="0.55">
<circle cx="481.7" cy="423.7" r="2"/>
<circle cx="483.5" cy="426.8" r="2"/>
<circle cx="481.7" cy="430.7" r="2"/>
<circle cx="485.6" cy="430.7" r="2"/>
<circle cx="483.5" cy="434.6" r="2"/>
<circle cx="478.3" cy="449.5" r="2"/>
<circle cx="488.8" cy="448.4" r="2"/>
<circle cx="483.5" cy="446.4" r="2"/>
<circle cx="481.7" cy="450.3" r="2"/>
<circle cx="485.6" cy="450.8" r="2"/>
<circle cx="503.9" cy="480.8" r="2"/>
<circle cx="507.5" cy="482.9" r="2"/>
<circle cx="500.5" cy="486.8" r="2"/>
<circle cx="503.9" cy="486.3" r="2"/>
<circle cx="507.5" cy="486.3" r="2"/>
<circle cx="510.9" cy="486.8" r="2"/>
<circle cx="500.5" cy="491.3" r="2"/>
<circle cx="507.5" cy="492.0" r="2"/>
<circle cx="510.9" cy="492.0" r="2"/>
<circle cx="500.5" cy="496.7" r="2"/>
<circle cx="527.9" cy="485.5" r="2"/>
<circle cx="526.1" cy="490.7" r="2"/>
<circle cx="529.7" cy="490.7" r="2"/>
<circle cx="533.1" cy="491.3" r="2"/>
<circle cx="522.7" cy="495.4" r="2"/>
<circle cx="527.9" cy="494.6" r="2"/>
<circle cx="531.3" cy="496.0" r="2"/>
<circle cx="526.1" cy="497.3" r="2"/>
<circle cx="533.1" cy="497.8" r="2"/>
</g>
<text transform="translate(428.60 451.60) rotate(-90)" text-anchor="middle" font-size="8.6" textLength="66.9" lengthAdjust="spacingAndGlyphs">Fat mass change</text>
<text transform="translate(439.00 451.60) rotate(-90)" text-anchor="middle" font-size="8.6" textLength="66.9" lengthAdjust="spacingAndGlyphs">(% over starting)</text>
<line x1="483.50" y1="401.50" x2="528.00" y2="401.50" stroke="#4a4a4a" stroke-width="0.7"/>
<text transform="translate(505.75 399.50) scale(0.985 1)" text-anchor="middle">&lt;0.0001</text>
<line x1="483.50" y1="412.90" x2="505.80" y2="412.90" stroke="#4a4a4a" stroke-width="0.7"/>
<text transform="translate(494.65 410.90) scale(0.985 1)" text-anchor="middle">&lt;0.0001</text>
<text transform="translate(562.90 374.60) scale(1.12 1)" font-weight="bold" fill="#000" font-size="12" stroke="#000" stroke-width="0.6">n</text>
<rect x="618.05" y="430.60" width="13.50" height="72.65" fill="#888888" stroke="#3c3c3c" stroke-width="0.5"/>
<rect x="640.25" y="445.80" width="13.50" height="57.45" fill="#d3cb00" stroke="#4a4800" stroke-width="0.5"/>
<rect x="662.45" y="446.30" width="13.50" height="56.95" fill="#64217a" stroke="#2a0838" stroke-width="0.5"/>
<line x1="610.40" y1="400.25" x2="610.40" y2="503.25" stroke="#858585" stroke-width="1"/>
<line x1="606.60" y1="503.25" x2="685.00" y2="503.25" stroke="#555555" stroke-width="0.9"/>
<line x1="606.60" y1="400.60" x2="610.40" y2="400.60" stroke="#858585" stroke-width="0.7"/>
<text transform="translate(602.70 403.25) scale(0.985 1)" text-anchor="end">150</text>
<line x1="606.60" y1="434.70" x2="610.40" y2="434.70" stroke="#858585" stroke-width="0.7"/>
<text transform="translate(602.70 437.35) scale(0.985 1)" text-anchor="end">100</text>
<line x1="606.60" y1="468.90" x2="610.40" y2="468.90" stroke="#858585" stroke-width="0.7"/>
<text transform="translate(602.70 471.55) scale(0.985 1)" text-anchor="end">50</text>
<line x1="606.60" y1="503.25" x2="610.40" y2="503.25" stroke="#555555" stroke-width="0.7"/>
<text transform="translate(602.70 505.90) scale(0.985 1)" text-anchor="end">0</text>
<line x1="624.80" y1="503.25" x2="624.80" y2="506.85" stroke="#555555" stroke-width="0.7"/>
<text transform="translate(626.40 514.15) rotate(-45) scale(1.06 1)" text-anchor="end">ctr</text>
<line x1="647.00" y1="503.25" x2="647.00" y2="506.85" stroke="#555555" stroke-width="0.7"/>
<text transform="translate(650.00 514.15) rotate(-45) scale(1.03 1)" text-anchor="end">C26 veh</text>
<line x1="669.20" y1="503.25" x2="669.20" y2="506.85" stroke="#555555" stroke-width="0.7"/>
<text transform="translate(670.50 514.95) rotate(-45)" text-anchor="end">C26 Rol</text>
<g fill="#fff" stroke="#2a2a2a" stroke-width="0.55">
<circle cx="625.6" cy="423.3" r="2"/>
<circle cx="621.6" cy="424.9" r="2"/>
<circle cx="619.6" cy="428.8" r="2"/>
<circle cx="623.5" cy="428.8" r="2"/>
<circle cx="627.4" cy="429.3" r="2"/>
<circle cx="630.8" cy="430.6" r="2"/>
<circle cx="619.6" cy="432.5" r="2"/>
<circle cx="625.6" cy="431.9" r="2"/>
<circle cx="628.7" cy="432.7" r="2"/>
<circle cx="623.5" cy="426.7" r="2"/>
<circle cx="643.5" cy="441.9" r="2"/>
<circle cx="641.7" cy="444.5" r="2"/>
<circle cx="645.6" cy="444.5" r="2"/>
<circle cx="649.0" cy="445.0" r="2"/>
<circle cx="652.7" cy="444.5" r="2"/>
<circle cx="643.5" cy="447.6" r="2"/>
<circle cx="646.9" cy="446.8" r="2"/>
<circle cx="650.9" cy="448.1" r="2"/>
<circle cx="645.1" cy="450.2" r="2"/>
<circle cx="667.8" cy="439.8" r="2"/>
<circle cx="666.0" cy="443.7" r="2"/>
<circle cx="669.6" cy="443.7" r="2"/>
<circle cx="663.9" cy="446.3" r="2"/>
<circle cx="667.8" cy="445.8" r="2"/>
<circle cx="671.2" cy="446.3" r="2"/>
<circle cx="674.8" cy="447.1" r="2"/>
<circle cx="673.0" cy="445.0" r="2"/>
</g>
<text transform="translate(570.40 451.50) rotate(-90)" text-anchor="middle" font-size="8.6" textLength="73.6" lengthAdjust="spacingAndGlyphs">Lean mass change</text>
<text transform="translate(580.80 451.50) rotate(-90)" text-anchor="middle" font-size="8.6" textLength="66.9" lengthAdjust="spacingAndGlyphs">(% over starting)</text>
<line x1="624.80" y1="401.40" x2="669.20" y2="401.40" stroke="#4a4a4a" stroke-width="0.7"/>
<text transform="translate(647.00 399.40) scale(0.985 1)" text-anchor="middle">&lt;0.0001</text>
<line x1="624.80" y1="412.90" x2="647.00" y2="412.90" stroke="#4a4a4a" stroke-width="0.7"/>
<text transform="translate(635.90 410.90) scale(0.985 1)" text-anchor="middle">&lt;0.0001</text>
<text transform="translate(0.80 183.00) scale(1.12 1)" font-weight="bold" fill="#000" font-size="12" stroke="#000" stroke-width="0.6">f</text>
<defs>
<filter id="bl" x="-5%" y="-5%" width="110%" height="110%"><feGaussianBlur stdDeviation="1.25 0.78"/></filter>
<filter id="bl2" x="-5%" y="-5%" width="110%" height="110%"><feGaussianBlur stdDeviation="1.1 3"/></filter>
<clipPath id="cb"><rect x="48.50" y="196.20" width="213.20" height="135.90"/></clipPath>
<clipPath id="cg"><rect x="48.50" y="336.30" width="213.20" height="15.00"/></clipPath>
</defs>
<rect x="48.50" y="196.20" width="213.20" height="135.90" fill="#dedede"/>
<g clip-path="url(#cb)">
<g filter="url(#bl2)" fill="#000">
<rect x="57.0" y="193.2" width="9.0" height="112.0" opacity="0.13"/>
<rect x="57.0" y="301.2" width="9.0" height="34.0" opacity="0.07"/>
<rect x="57.0" y="256.0" width="9.0" height="32.0" opacity="0.09"/>
<rect x="57.0" y="204.0" width="9.0" height="34.0" opacity="0.08"/>
<rect x="70.6" y="193.2" width="9.0" height="112.0" opacity="0.13"/>
<rect x="70.6" y="301.2" width="9.0" height="34.0" opacity="0.07"/>
<rect x="70.6" y="256.0" width="9.0" height="32.0" opacity="0.09"/>
<rect x="70.6" y="204.0" width="9.0" height="34.0" opacity="0.08"/>
<rect x="84.2" y="193.2" width="9.0" height="112.0" opacity="0.15"/>
<rect x="84.2" y="301.2" width="9.0" height="34.0" opacity="0.08"/>
<rect x="84.2" y="256.0" width="9.0" height="32.0" opacity="0.12"/>
<rect x="84.2" y="204.0" width="9.0" height="34.0" opacity="0.09"/>
<rect x="97.8" y="193.2" width="9.0" height="112.0" opacity="0.11"/>
<rect x="97.8" y="301.2" width="9.0" height="34.0" opacity="0.06"/>
<rect x="97.8" y="256.0" width="9.0" height="32.0" opacity="0.08"/>
<rect x="97.8" y="204.0" width="9.0" height="34.0" opacity="0.07"/>
<rect x="111.4" y="193.2" width="9.0" height="112.0" opacity="0.13"/>
<rect x="111.4" y="301.2" width="9.0" height="34.0" opacity="0.07"/>
<rect x="111.4" y="256.0" width="9.0" height="32.0" opacity="0.09"/>
<rect x="111.4" y="204.0" width="9.0" height="34.0" opacity="0.08"/>
<rect x="125.0" y="193.2" width="9.0" height="112.0" opacity="0.12"/>
<rect x="125.0" y="301.2" width="9.0" height="34.0" opacity="0.07"/>
<rect x="125.0" y="256.0" width="9.0" height="32.0" opacity="0.11"/>
<rect x="125.0" y="204.0" width="9.0" height="34.0" opacity="0.08"/>
<rect x="138.6" y="193.2" width="9.0" height="112.0" opacity="0.09"/>
<rect x="138.6" y="301.2" width="9.0" height="34.0" opacity="0.05"/>
<rect x="138.6" y="256.0" width="9.0" height="32.0" opacity="0.01"/>
<rect x="138.6" y="204.0" width="9.0" height="34.0" opacity="0.05"/>
<rect x="152.2" y="193.2" width="9.0" height="112.0" opacity="0.09"/>
<rect x="152.2" y="301.2" width="9.0" height="34.0" opacity="0.05"/>
<rect x="152.2" y="256.0" width="9.0" height="32.0" opacity="0.02"/>
<rect x="152.2" y="204.0" width="9.0" height="34.0" opacity="0.05"/>
<rect x="165.8" y="193.2" width="9.0" height="112.0" opacity="0.09"/>
<rect x="165.8" y="301.2" width="9.0" height="34.0" opacity="0.05"/>
<rect x="165.8" y="256.0" width="9.0" height="32.0" opacity="0.02"/>
<rect x="165.8" y="204.0" width="9.0" height="34.0" opacity="0.05"/>
<rect x="179.4" y="193.2" width="9.0" height="112.0" opacity="0.09"/>
<rect x="179.4" y="301.2" width="9.0" height="34.0" opacity="0.05"/>
<rect x="179.4" y="256.0" width="9.0" height="32.0" opacity="0.01"/>
<rect x="179.4" y="204.0" width="9.0" height="34.0" opacity="0.05"/>
<rect x="193.0" y="193.2" width="9.0" height="112.0" opacity="0.12"/>
<rect x="193.0" y="301.2" width="9.0" height="34.0" opacity="0.07"/>
<rect x="193.0" y="256.0" width="9.0" height="32.0" opacity="0.07"/>
<rect x="193.0" y="204.0" width="9.0" height="34.0" opacity="0.09"/>
<rect x="206.6" y="193.2" width="9.0" height="112.0" opacity="0.22"/>
<rect x="206.6" y="301.2" width="9.0" height="34.0" opacity="0.12"/>
<rect x="206.6" y="256.0" width="9.0" height="32.0" opacity="0.11"/>
<rect x="206.6" y="204.0" width="9.0" height="34.0" opacity="0.25"/>
<rect x="220.2" y="193.2" width="9.0" height="112.0" opacity="0.13"/>
<rect x="220.2" y="301.2" width="9.0" height="34.0" opacity="0.07"/>
<rect x="220.2" y="256.0" width="9.0" height="32.0" opacity="0.09"/>
<rect x="220.2" y="204.0" width="9.0" height="34.0" opacity="0.12"/>
<rect x="233.8" y="193.2" width="9.0" height="112.0" opacity="0.15"/>
<rect x="233.8" y="301.2" width="9.0" height="34.0" opacity="0.08"/>
<rect x="233.8" y="256.0" width="9.0" height="32.0" opacity="0.10"/>
<rect x="233.8" y="204.0" width="9.0" height="34.0" opacity="0.16"/>
<rect x="247.4" y="193.2" width="9.0" height="112.0" opacity="0.14"/>
<rect x="247.4" y="301.2" width="9.0" height="34.0" opacity="0.08"/>
<rect x="247.4" y="256.0" width="9.0" height="32.0" opacity="0.06"/>
<rect x="247.4" y="204.0" width="9.0" height="34.0" opacity="0.15"/>
</g>
<g filter="url(#bl)" fill="#111">
<rect x="57.0" y="208.15" width="9.0" height="1.7" opacity="0.14"/>
<rect x="70.6" y="208.15" width="9.0" height="1.7" opacity="0.16"/>
<rect x="84.2" y="208.15" width="9.0" height="1.7" opacity="0.18"/>
<rect x="97.8" y="208.15" width="9.0" height="1.7" opacity="0.07"/>
<rect x="111.4" y="208.15" width="9.0" height="1.7" opacity="0.16"/>
<rect x="125.0" y="208.15" width="9.0" height="1.7" opacity="0.10"/>
<rect x="138.6" y="208.15" width="9.0" height="1.7" opacity="0.11"/>
<rect x="152.2" y="208.15" width="9.0" height="1.7" opacity="0.11"/>
<rect x="165.8" y="208.15" width="9.0" height="1.7" opacity="0.11"/>
<rect x="179.4" y="208.15" width="9.0" height="1.7" opacity="0.11"/>
<rect x="193.0" y="208.15" width="9.0" height="1.7" opacity="0.25"/>
<rect x="206.6" y="208.15" width="9.0" height="1.7" opacity="1.00"/>
<rect x="220.2" y="208.15" width="9.0" height="1.7" opacity="0.55"/>
<rect x="233.8" y="208.15" width="9.0" height="1.7" opacity="0.80"/>
<rect x="247.4" y="208.15" width="9.0" height="1.7" opacity="0.75"/>
<rect x="57.0" y="212.50" width="9.0" height="1.8" opacity="0.06"/>
<rect x="70.6" y="212.50" width="9.0" height="1.8" opacity="0.06"/>
<rect x="84.2" y="212.50" width="9.0" height="1.8" opacity="0.08"/>
<rect x="97.8" y="212.50" width="9.0" height="1.8" opacity="0.04"/>
<rect x="111.4" y="212.50" width="9.0" height="1.8" opacity="0.06"/>
<rect x="125.0" y="212.50" width="9.0" height="1.8" opacity="0.05"/>
<rect x="138.6" y="212.50" width="9.0" height="1.8" opacity="0.04"/>
<rect x="152.2" y="212.50" width="9.0" height="1.8" opacity="0.04"/>
<rect x="165.8" y="212.50" width="9.0" height="1.8" opacity="0.04"/>
<rect x="179.4" y="212.50" width="9.0" height="1.8" opacity="0.04"/>
<rect x="193.0" y="212.50" width="9.0" height="1.8" opacity="0.08"/>
<rect x="206.6" y="212.50" width="9.0" height="1.8" opacity="0.50"/>
<rect x="220.2" y="212.50" width="9.0" height="1.8" opacity="0.15"/>
<rect x="233.8" y="212.50" width="9.0" height="1.8" opacity="0.25"/>
<rect x="247.4" y="212.50" width="9.0" height="1.8" opacity="0.25"/>
<rect x="57.0" y="216.40" width="9.0" height="1.6" opacity="0.03"/>
<rect x="70.6" y="216.40" width="9.0" height="1.6" opacity="0.03"/>
<rect x="84.2" y="216.40" width="9.0" height="1.6" opacity="0.04"/>
<rect x="97.8" y="216.40" width="9.0" height="1.6" opacity="0.02"/>
<rect x="111.4" y="216.40" width="9.0" height="1.6" opacity="0.03"/>
<rect x="125.0" y="216.40" width="9.0" height="1.6" opacity="0.03"/>
<rect x="138.6" y="216.40" width="9.0" height="1.6" opacity="0.02"/>
<rect x="152.2" y="216.40" width="9.0" height="1.6" opacity="0.02"/>
<rect x="165.8" y="216.40" width="9.0" height="1.6" opacity="0.02"/>
<rect x="179.4" y="216.40" width="9.0" height="1.6" opacity="0.02"/>
<rect x="193.0" y="216.40" width="9.0" height="1.6" opacity="0.06"/>
<rect x="206.6" y="216.40" width="9.0" height="1.6" opacity="0.40"/>
<rect x="220.2" y="216.40" width="9.0" height="1.6" opacity="0.10"/>
<rect x="233.8" y="216.40" width="9.0" height="1.6" opacity="0.18"/>
<rect x="247.4" y="216.40" width="9.0" height="1.6" opacity="0.20"/>
<rect x="57.0" y="220.85" width="9.0" height="1.7" opacity="0.62"/>
<rect x="70.6" y="220.85" width="9.0" height="1.7" opacity="0.60"/>
<rect x="84.2" y="220.55" width="9.0" height="1.7" opacity="0.62"/>
<rect x="97.8" y="220.05" width="9.0" height="1.7" opacity="0.72"/>
<rect x="111.4" y="220.85" width="9.0" height="1.7" opacity="0.42"/>
<rect x="125.0" y="220.85" width="9.0" height="1.7" opacity="0.62"/>
<rect x="138.6" y="221.45" width="9.0" height="1.7" opacity="0.35"/>
<rect x="152.2" y="221.65" width="9.0" height="1.7" opacity="0.30"/>
<rect x="165.8" y="221.65" width="9.0" height="1.7" opacity="0.30"/>
<rect x="179.4" y="221.65" width="9.0" height="1.7" opacity="0.30"/>
<rect x="193.0" y="221.65" width="9.0" height="1.7" opacity="0.38"/>
<rect x="206.6" y="221.65" width="9.0" height="1.7" opacity="0.60"/>
<rect x="220.2" y="221.45" width="9.0" height="1.7" opacity="0.42"/>
<rect x="233.8" y="221.15" width="9.0" height="1.7" opacity="0.45"/>
<rect x="247.4" y="220.85" width="9.0" height="1.7" opacity="0.50"/>
<rect x="57.0" y="225.20" width="9.0" height="1.6" opacity="0.06"/>
<rect x="70.6" y="225.20" width="9.0" height="1.6" opacity="0.06"/>
<rect x="84.2" y="225.20" width="9.0" height="1.6" opacity="0.08"/>
<rect x="97.8" y="225.20" width="9.0" height="1.6" opacity="0.06"/>
<rect x="111.4" y="225.20" width="9.0" height="1.6" opacity="0.06"/>
<rect x="125.0" y="225.20" width="9.0" height="1.6" opacity="0.06"/>
<rect x="138.6" y="225.20" width="9.0" height="1.6" opacity="0.03"/>
<rect x="152.2" y="225.20" width="9.0" height="1.6" opacity="0.03"/>
<rect x="165.8" y="225.20" width="9.0" height="1.6" opacity="0.03"/>
<rect x="179.4" y="225.20" width="9.0" height="1.6" opacity="0.03"/>
<rect x="193.0" y="225.20" width="9.0" height="1.6" opacity="0.07"/>
<rect x="206.6" y="225.20" width="9.0" height="1.6" opacity="0.45"/>
<rect x="220.2" y="225.20" width="9.0" height="1.6" opacity="0.10"/>
<rect x="233.8" y="225.20" width="9.0" height="1.6" opacity="0.16"/>
<rect x="247.4" y="225.20" width="9.0" height="1.6" opacity="0.25"/>
<rect x="57.0" y="229.75" width="9.0" height="2.5" opacity="0.42"/>
<rect x="70.6" y="229.75" width="9.0" height="2.5" opacity="0.42"/>
<rect x="84.2" y="229.45" width="9.0" height="2.5" opacity="0.50"/>
<rect x="97.8" y="228.95" width="9.0" height="2.5" opacity="0.45"/>
<rect x="111.4" y="229.45" width="9.0" height="2.5" opacity="0.38"/>
<rect x="125.0" y="229.75" width="9.0" height="2.5" opacity="0.50"/>
<rect x="138.6" y="230.35" width="9.0" height="2.5" opacity="0.38"/>
<rect x="152.2" y="230.65" width="9.0" height="2.5" opacity="0.33"/>
<rect x="165.8" y="230.65" width="9.0" height="2.5" opacity="0.33"/>
<rect x="179.4" y="230.65" width="9.0" height="2.5" opacity="0.33"/>
<rect x="193.0" y="230.65" width="9.0" height="2.5" opacity="0.36"/>
<rect x="206.6" y="230.25" width="9.0" height="2.5" opacity="0.75"/>
<rect x="220.2" y="230.35" width="9.0" height="2.5" opacity="0.36"/>
<rect x="233.8" y="230.05" width="9.0" height="2.5" opacity="0.42"/>
<rect x="247.4" y="229.25" width="9.0" height="2.5" opacity="0.50"/>
<rect x="57.0" y="247.25" width="9.0" height="2.5" opacity="0.80"/>
<rect x="70.6" y="247.25" width="9.0" height="2.5" opacity="0.80"/>
<rect x="84.2" y="247.25" width="9.0" height="2.5" opacity="0.92"/>
<rect x="97.8" y="246.65" width="9.0" height="2.5" opacity="0.72"/>
<rect x="111.4" y="247.25" width="9.0" height="2.5" opacity="0.85"/>
<rect x="125.0" y="248.45" width="9.0" height="2.5" opacity="0.38"/>
<rect x="138.6" y="251.05" width="9.0" height="2.5" opacity="0.45"/>
<rect x="152.2" y="251.15" width="9.0" height="2.5" opacity="0.50"/>
<rect x="165.8" y="251.15" width="9.0" height="2.5" opacity="0.50"/>
<rect x="179.4" y="250.65" width="9.0" height="2.5" opacity="0.58"/>
<rect x="193.0" y="250.45" width="9.0" height="2.5" opacity="0.62"/>
<rect x="206.6" y="249.45" width="9.0" height="2.5" opacity="0.80"/>
<rect x="220.2" y="248.95" width="9.0" height="2.5" opacity="0.66"/>
<rect x="233.8" y="248.45" width="9.0" height="2.5" opacity="0.70"/>
<rect x="247.4" y="247.45" width="9.0" height="2.5" opacity="0.70"/>
<rect x="57.0" y="243.25" width="9.0" height="1.5" opacity="0.03"/>
<rect x="70.6" y="243.25" width="9.0" height="1.5" opacity="0.03"/>
<rect x="84.2" y="243.25" width="9.0" height="1.5" opacity="0.03"/>
<rect x="97.8" y="243.25" width="9.0" height="1.5" opacity="0.03"/>
<rect x="111.4" y="243.25" width="9.0" height="1.5" opacity="0.03"/>
<rect x="125.0" y="243.25" width="9.0" height="1.5" opacity="0.03"/>
<rect x="193.0" y="243.25" width="9.0" height="1.5" opacity="0.04"/>
<rect x="206.6" y="243.25" width="9.0" height="1.5" opacity="0.35"/>
<rect x="220.2" y="243.25" width="9.0" height="1.5" opacity="0.05"/>
<rect x="233.8" y="243.25" width="9.0" height="1.5" opacity="0.06"/>
<rect x="247.4" y="243.25" width="9.0" height="1.5" opacity="0.06"/>
<rect x="57.0" y="260.40" width="9.0" height="2.2" opacity="0.03"/>
<rect x="70.6" y="260.40" width="9.0" height="2.2" opacity="0.03"/>
<rect x="84.2" y="260.40" width="9.0" height="2.2" opacity="0.06"/>
<rect x="97.8" y="260.40" width="9.0" height="2.2" opacity="0.04"/>
<rect x="111.4" y="260.40" width="9.0" height="2.2" opacity="0.04"/>
<rect x="125.0" y="260.40" width="9.0" height="2.2" opacity="0.14"/>
<rect x="193.0" y="260.40" width="9.0" height="2.2" opacity="0.06"/>
<rect x="206.6" y="260.40" width="9.0" height="2.2" opacity="0.55"/>
<rect x="220.2" y="260.40" width="9.0" height="2.2" opacity="0.08"/>
<rect x="233.8" y="260.40" width="9.0" height="2.2" opacity="0.16"/>
<rect x="247.4" y="257.40" width="9.0" height="2.2" opacity="0.30"/>
<rect x="57.0" y="266.80" width="9.0" height="2.4" opacity="0.05"/>
<rect x="70.6" y="266.80" width="9.0" height="2.4" opacity="0.05"/>
<rect x="84.2" y="266.80" width="9.0" height="2.4" opacity="0.08"/>
<rect x="97.8" y="266.80" width="9.0" height="2.4" opacity="0.05"/>
<rect x="111.4" y="266.80" width="9.0" height="2.4" opacity="0.05"/>
<rect x="125.0" y="266.80" width="9.0" height="2.4" opacity="0.08"/>
<rect x="193.0" y="266.80" width="9.0" height="2.4" opacity="0.06"/>
<rect x="206.6" y="266.80" width="9.0" height="2.4" opacity="0.18"/>
<rect x="220.2" y="266.80" width="9.0" height="2.4" opacity="0.06"/>
<rect x="233.8" y="266.80" width="9.0" height="2.4" opacity="0.08"/>
<rect x="247.4" y="266.80" width="9.0" height="2.4" opacity="0.03"/>
<rect x="57.0" y="276.25" width="9.0" height="2.5" opacity="0.04"/>
<rect x="70.6" y="276.25" width="9.0" height="2.5" opacity="0.04"/>
<rect x="84.2" y="276.25" width="9.0" height="2.5" opacity="0.06"/>
<rect x="97.8" y="276.25" width="9.0" height="2.5" opacity="0.04"/>
<rect x="111.4" y="276.25" width="9.0" height="2.5" opacity="0.04"/>
<rect x="125.0" y="276.25" width="9.0" height="2.5" opacity="0.26"/>
<rect x="138.6" y="276.25" width="9.0" height="2.5" opacity="0.02"/>
<rect x="152.2" y="276.25" width="9.0" height="2.5" opacity="0.15"/>
<rect x="165.8" y="276.25" width="9.0" height="2.5" opacity="0.07"/>
<rect x="179.4" y="276.25" width="9.0" height="2.5" opacity="0.02"/>
<rect x="193.0" y="277.25" width="9.0" height="2.5" opacity="0.22"/>
<rect x="206.6" y="274.25" width="9.0" height="2.5" opacity="0.18"/>
<rect x="220.2" y="273.25" width="9.0" height="2.5" opacity="0.26"/>
<rect x="233.8" y="272.85" width="9.0" height="2.5" opacity="0.26"/>
<rect x="247.4" y="276.25" width="9.0" height="2.5" opacity="0.05"/>
<rect x="57.0" y="293.20" width="9.0" height="3.0" opacity="0.70"/>
<rect x="70.6" y="293.20" width="9.0" height="3.0" opacity="0.62"/>
<rect x="84.2" y="293.20" width="9.0" height="3.0" opacity="0.75"/>
<rect x="97.8" y="293.60" width="9.0" height="3.0" opacity="0.42"/>
<rect x="111.4" y="294.00" width="9.0" height="3.0" opacity="0.70"/>
<rect x="125.0" y="294.60" width="9.0" height="3.0" opacity="0.38"/>
<rect x="138.6" y="295.40" width="9.0" height="3.0" opacity="0.50"/>
<rect x="152.2" y="295.60" width="9.0" height="3.0" opacity="0.36"/>
<rect x="165.8" y="295.60" width="9.0" height="3.0" opacity="0.42"/>
<rect x="179.4" y="295.60" width="9.0" height="3.0" opacity="0.42"/>
<rect x="193.0" y="294.80" width="9.0" height="3.0" opacity="0.72"/>
<rect x="206.6" y="295.00" width="9.0" height="3.0" opacity="0.75"/>
<rect x="220.2" y="294.70" width="9.0" height="3.0" opacity="0.70"/>
<rect x="233.8" y="294.20" width="9.0" height="3.0" opacity="0.68"/>
<rect x="247.4" y="292.60" width="9.0" height="3.0" opacity="0.66"/>
<rect x="57.0" y="296.30" width="9.0" height="2.8" opacity="0.50"/>
<rect x="70.6" y="296.60" width="9.0" height="2.8" opacity="0.50"/>
<rect x="84.2" y="296.80" width="9.0" height="2.8" opacity="0.62"/>
<rect x="97.8" y="297.30" width="9.0" height="2.8" opacity="0.50"/>
<rect x="111.4" y="297.30" width="9.0" height="2.8" opacity="0.78"/>
<rect x="125.0" y="297.50" width="9.0" height="2.8" opacity="0.42"/>
<rect x="138.6" y="297.70" width="9.0" height="2.8" opacity="0.20"/>
<rect x="152.2" y="297.70" width="9.0" height="2.8" opacity="0.12"/>
<rect x="165.8" y="297.70" width="9.0" height="2.8" opacity="0.12"/>
<rect x="179.4" y="297.70" width="9.0" height="2.8" opacity="0.12"/>
<rect x="193.0" y="297.70" width="9.0" height="2.8" opacity="0.40"/>
<rect x="206.6" y="297.90" width="9.0" height="2.8" opacity="0.55"/>
<rect x="220.2" y="297.50" width="9.0" height="2.8" opacity="0.50"/>
<rect x="233.8" y="297.10" width="9.0" height="2.8" opacity="0.40"/>
<rect x="247.4" y="295.70" width="9.0" height="2.8" opacity="0.45"/>
<rect x="57.0" y="306.35" width="9.0" height="1.7" opacity="0.42"/>
<rect x="70.6" y="306.95" width="9.0" height="1.7" opacity="0.42"/>
<rect x="84.2" y="307.95" width="9.0" height="1.7" opacity="0.45"/>
<rect x="97.8" y="308.75" width="9.0" height="1.7" opacity="0.45"/>
<rect x="111.4" y="308.75" width="9.0" height="1.7" opacity="0.40"/>
<rect x="125.0" y="307.55" width="9.0" height="1.7" opacity="0.42"/>
<rect x="138.6" y="307.55" width="9.0" height="1.7" opacity="0.30"/>
<rect x="152.2" y="307.55" width="9.0" height="1.7" opacity="0.18"/>
<rect x="165.8" y="307.55" width="9.0" height="1.7" opacity="0.16"/>
<rect x="179.4" y="307.55" width="9.0" height="1.7" opacity="0.20"/>
<rect x="193.0" y="307.35" width="9.0" height="1.7" opacity="0.32"/>
<rect x="206.6" y="307.55" width="9.0" height="1.7" opacity="0.48"/>
<rect x="220.2" y="307.55" width="9.0" height="1.7" opacity="0.42"/>
<rect x="233.8" y="307.15" width="9.0" height="1.7" opacity="0.38"/>
<rect x="247.4" y="305.15" width="9.0" height="1.7" opacity="0.38"/>
<rect x="57.0" y="311.10" width="9.0" height="1.8" opacity="0.03"/>
<rect x="70.6" y="311.10" width="9.0" height="1.8" opacity="0.03"/>
<rect x="84.2" y="311.10" width="9.0" height="1.8" opacity="0.03"/>
<rect x="97.8" y="311.10" width="9.0" height="1.8" opacity="0.03"/>
<rect x="111.4" y="311.10" width="9.0" height="1.8" opacity="0.03"/>
<rect x="125.0" y="311.10" width="9.0" height="1.8" opacity="0.04"/>
<rect x="138.6" y="311.10" width="9.0" height="1.8" opacity="0.06"/>
<rect x="152.2" y="311.10" width="9.0" height="1.8" opacity="0.09"/>
<rect x="165.8" y="311.10" width="9.0" height="1.8" opacity="0.07"/>
<rect x="179.4" y="311.10" width="9.0" height="1.8" opacity="0.09"/>
<rect x="193.0" y="311.10" width="9.0" height="1.8" opacity="0.10"/>
<rect x="206.6" y="311.10" width="9.0" height="1.8" opacity="0.05"/>
<rect x="220.2" y="311.10" width="9.0" height="1.8" opacity="0.05"/>
<rect x="233.8" y="311.10" width="9.0" height="1.8" opacity="0.05"/>
<rect x="247.4" y="311.10" width="9.0" height="1.8" opacity="0.02"/>
<rect x="57.0" y="319.10" width="9.0" height="1.8" opacity="0.04"/>
<rect x="70.6" y="319.10" width="9.0" height="1.8" opacity="0.05"/>
<rect x="84.2" y="319.10" width="9.0" height="1.8" opacity="0.04"/>
<rect x="97.8" y="319.10" width="9.0" height="1.8" opacity="0.02"/>
<rect x="111.4" y="319.10" width="9.0" height="1.8" opacity="0.03"/>
<rect x="125.0" y="319.10" width="9.0" height="1.8" opacity="0.03"/>
<rect x="138.6" y="319.10" width="9.0" height="1.8" opacity="0.02"/>
<rect x="152.2" y="319.10" width="9.0" height="1.8" opacity="0.02"/>
<rect x="165.8" y="319.10" width="9.0" height="1.8" opacity="0.02"/>
<rect x="179.4" y="319.10" width="9.0" height="1.8" opacity="0.02"/>
<rect x="193.0" y="319.10" width="9.0" height="1.8" opacity="0.03"/>
<rect x="206.6" y="319.10" width="9.0" height="1.8" opacity="0.32"/>
<rect x="220.2" y="319.10" width="9.0" height="1.8" opacity="0.05"/>
<rect x="233.8" y="319.10" width="9.0" height="1.8" opacity="0.06"/>
<rect x="247.4" y="319.10" width="9.0" height="1.8" opacity="0.03"/>
<rect x="57.0" y="325.10" width="9.0" height="1.8" opacity="0.02"/>
<rect x="70.6" y="325.10" width="9.0" height="1.8" opacity="0.02"/>
<rect x="84.2" y="325.10" width="9.0" height="1.8" opacity="0.02"/>
<rect x="97.8" y="325.10" width="9.0" height="1.8" opacity="0.01"/>
<rect x="111.4" y="325.10" width="9.0" height="1.8" opacity="0.01"/>
<rect x="125.0" y="325.10" width="9.0" height="1.8" opacity="0.01"/>
<rect x="138.6" y="325.10" width="9.0" height="1.8" opacity="0.01"/>
<rect x="152.2" y="325.10" width="9.0" height="1.8" opacity="0.01"/>
<rect x="165.8" y="325.10" width="9.0" height="1.8" opacity="0.01"/>
<rect x="179.4" y="325.10" width="9.0" height="1.8" opacity="0.01"/>
<rect x="193.0" y="325.10" width="9.0" height="1.8" opacity="0.01"/>
<rect x="206.6" y="325.10" width="9.0" height="1.8" opacity="0.06"/>
<rect x="220.2" y="325.10" width="9.0" height="1.8" opacity="0.02"/>
<rect x="233.8" y="325.10" width="9.0" height="1.8" opacity="0.07"/>
<rect x="247.4" y="325.10" width="9.0" height="1.8" opacity="0.01"/>
<ellipse cx="50.6" cy="204.7" rx="2.0" ry="1.6" opacity="0.95"/>
<ellipse cx="50.6" cy="212.4" rx="2.0" ry="1.6" opacity="0.60"/>
<ellipse cx="50.6" cy="233.4" rx="2.0" ry="1.6" opacity="1.00"/>
<ellipse cx="50.6" cy="253.0" rx="2.0" ry="1.6" opacity="0.20"/>
<ellipse cx="50.6" cy="279.2" rx="2.0" ry="1.6" opacity="0.80"/>
<ellipse cx="50.6" cy="301.5" rx="2.0" ry="1.6" opacity="0.70"/>
</g>
</g>
<rect x="48.50" y="196.20" width="213.20" height="135.90" fill="none" stroke="#444" stroke-width="0.7"/>
<rect x="48.50" y="336.30" width="213.20" height="15.00" fill="#ececec"/>
<g clip-path="url(#cg)"><g filter="url(#bl)" fill="#000">
<rect x="48.5" y="344.2" width="213.2" height="2.2" opacity="0.14"/>
<rect x="55.9" y="343.40" width="11.2" height="3.8" rx="2.6" ry="1.9"/>
<rect x="69.5" y="343.60" width="11.2" height="3.8" rx="2.6" ry="1.9"/>
<rect x="83.1" y="343.60" width="11.2" height="3.8" rx="2.6" ry="1.9"/>
<rect x="96.7" y="343.60" width="11.2" height="3.8" rx="2.6" ry="1.9"/>
<rect x="110.3" y="343.60" width="11.2" height="3.8" rx="2.6" ry="1.9"/>
<rect x="123.9" y="343.40" width="11.2" height="3.8" rx="2.6" ry="1.9"/>
<rect x="137.5" y="343.60" width="11.2" height="3.8" rx="2.6" ry="1.9"/>
<rect x="151.1" y="343.90" width="11.2" height="3.8" rx="2.6" ry="1.9"/>
<rect x="164.7" y="343.90" width="11.2" height="3.8" rx="2.6" ry="1.9"/>
<rect x="178.3" y="343.90" width="11.2" height="3.8" rx="2.6" ry="1.9"/>
<rect x="191.9" y="343.90" width="11.2" height="3.8" rx="2.6" ry="1.9"/>
<rect x="205.5" y="343.90" width="11.2" height="3.8" rx="2.6" ry="1.9"/>
<rect x="219.1" y="343.90" width="11.2" height="3.8" rx="2.6" ry="1.9"/>
<rect x="232.7" y="343.50" width="11.2" height="3.8" rx="2.6" ry="1.9"/>
<rect x="246.3" y="342.10" width="11.2" height="3.8" rx="2.6" ry="1.9"/>
</g></g>
<rect x="48.50" y="336.30" width="213.20" height="15.00" fill="none" stroke="#444" stroke-width="0.7"/>
<text transform="translate(88.90 185.90) scale(1.06 1)" text-anchor="middle">ctr</text>
<line x1="56.90" y1="190.20" x2="120.90" y2="190.20" stroke="#444" stroke-width="0.75"/>
<text transform="translate(156.40 185.90) scale(1.06 1)" text-anchor="middle">C26 veh</text>
<line x1="124.40" y1="190.20" x2="188.30" y2="190.20" stroke="#444" stroke-width="0.75"/>
<text transform="translate(224.70 185.90) scale(1.06 1)" text-anchor="middle">C26 Rol</text>
<line x1="191.90" y1="190.20" x2="257.40" y2="190.20" stroke="#444" stroke-width="0.75"/>
<text transform="translate(43.90 254.60)" text-anchor="end" textLength="44.0" lengthAdjust="spacingAndGlyphs">p-(Ser/Thr)</text>
<text transform="translate(43.70 265.60)" text-anchor="end" textLength="32.6" lengthAdjust="spacingAndGlyphs">PKA sub</text>
<text transform="translate(43.90 346.60) scale(1.06 1)" text-anchor="end">GAPDH</text>
<text transform="translate(264.60 195.70)" font-size="8.3">kDa</text>
<line x1="262.00" y1="205.20" x2="264.60" y2="205.20" stroke="#555" stroke-width="0.6"/>
<text transform="translate(268.80 207.90)" font-size="7.6">180</text>
<line x1="262.00" y1="212.90" x2="264.60" y2="212.90" stroke="#555" stroke-width="0.6"/>
<text transform="translate(268.80 215.60)" font-size="7.6">130</text>
<line x1="262.00" y1="233.90" x2="264.60" y2="233.90" stroke="#555" stroke-width="0.6"/>
<text transform="translate(268.80 236.60)" font-size="7.6">100</text>
<line x1="262.00" y1="250.40" x2="264.60" y2="250.40" stroke="#555" stroke-width="0.6"/>
<text transform="translate(268.80 253.10)" font-size="7.6">70</text>
<line x1="262.00" y1="278.30" x2="264.60" y2="278.30" stroke="#555" stroke-width="0.6"/>
<text transform="translate(268.80 281.00)" font-size="7.6">55</text>
<line x1="262.00" y1="302.00" x2="264.60" y2="302.00" stroke="#555" stroke-width="0.6"/>
<text transform="translate(268.80 304.70)" font-size="7.6">40</text>
<line x1="262.00" y1="337.60" x2="264.60" y2="337.60" stroke="#555" stroke-width="0.6"/>
<text transform="translate(268.80 340.30)" font-size="7.6">40</text>
<text transform="translate(143.00 559.20) scale(1.12 1)" font-weight="bold" fill="#000" font-size="12" stroke="#000" stroke-width="0.6">o</text>
<defs><clipPath id="cm"><rect x="0" y="0" width="118.2" height="115.1"/></clipPath>
<filter id="mb" x="-2%" y="-2%" width="104%" height="104%"><feGaussianBlur stdDeviation="0.45"/></filter></defs>
<g transform="translate(152.7 565.4)"><g clip-path="url(#cm)">
<rect width="118.2" height="115.1" fill="#5a1212"/>
<g filter="url(#mb)" stroke="#f2caca" stroke-opacity="0.55" stroke-width="0.34" stroke-linejoin="round">
<path fill="#3fd032" d="M1.1 0.4L1.0 0.0L0.0 0.0L0.0 1.7ZM32.3 1.4L35.1 1.4L35.4 0.0L31.5 0.0L31.6 0.3ZM100.7 0.6L102.7 2.1L104.5 0.5L104.5 0.0L100.9 0.0ZM117.9 0.7L114.2 2.4L114.1 4.9L116.7 5.5L118.2 4.2L118.2 1.0ZM27.0 5.2L28.5 9.2L30.0 8.8L31.4 4.9L28.3 4.3ZM55.5 11.2L55.7 11.0L55.4 7.9L51.7 7.9L51.6 10.7ZM10.3 12.1L8.6 12.0L7.3 15.1L10.3 16.1L10.5 16.0L10.6 12.4ZM71.0 12.7L66.7 12.2L66.2 12.4L66.3 15.4L66.8 16.0L71.6 14.9ZM60.7 25.4L60.7 23.5L57.9 21.8L55.9 22.9L55.5 25.5L57.1 26.5ZM104.2 21.8L101.1 22.2L100.5 22.8L100.3 24.5L101.5 26.1L103.1 25.3L104.4 22.2ZM58.4 35.2L55.9 37.0L56.4 39.6L58.1 40.4L60.9 39.3L60.2 36.6ZM72.7 40.7L73.3 41.1L75.6 39.2L75.3 36.5L74.9 36.4L72.8 37.3ZM76.4 44.9L74.0 48.1L74.4 49.7L76.2 50.8L77.6 50.6L78.2 47.0ZM45.5 50.7L44.5 53.6L46.4 54.6L48.0 53.3L47.9 51.8L45.9 50.5ZM77.6 50.6L76.2 50.8L76.0 52.6L78.0 56.1L80.4 53.9L79.2 51.0ZM40.4 59.3L37.4 57.5L35.9 57.9L35.8 58.0L36.2 60.7L38.6 62.6L40.7 60.1ZM86.2 57.4L83.8 58.7L83.6 61.3L85.4 61.7L87.8 59.6L87.8 58.3ZM46.3 63.3L47.1 62.1L45.0 59.3L42.5 60.7L43.7 63.8ZM57.4 63.1L57.5 62.7L56.6 60.6L53.1 61.3L53.0 61.3L55.5 63.4L57.1 63.3ZM74.3 63.6L72.1 66.1L72.1 67.8L73.1 68.5L76.8 67.2L76.8 63.9ZM85.0 64.9L82.3 63.4L81.1 64.2L81.3 67.0L85.2 67.5ZM69.3 72.1L70.3 68.2L67.8 67.5L66.0 69.0L65.5 70.8L68.1 72.7ZM70.0 77.8L69.1 76.1L68.2 75.4L66.8 75.9L64.7 78.4L65.0 79.1L68.6 80.6ZM65.1 83.5L68.7 81.0L68.6 80.6L65.0 79.1L63.7 82.6ZM27.1 82.6L25.0 82.5L24.2 83.0L24.1 85.0L25.1 85.9L28.0 85.0ZM80.5 82.1L78.0 84.1L77.7 84.7L81.1 86.8L82.1 85.2L82.2 82.4ZM54.3 89.4L52.5 88.7L50.8 92.4L52.3 94.5L55.5 92.6ZM52.3 94.5L52.2 95.7L53.5 96.6L56.9 95.2L56.7 93.1L55.5 92.6ZM104.0 94.9L105.6 95.5L107.3 94.6L108.0 93.0L105.6 91.8L102.8 92.9ZM67.1 95.3L65.6 96.4L65.9 99.6L69.0 100.1L69.8 99.4L70.1 97.3ZM56.0 107.6L59.6 105.7L59.7 103.7L56.7 102.3L55.4 103.9L55.7 107.2Z"/>
<path fill="#701616" d="M1.1 0.4L3.1 1.7L5.3 1.2L5.0 0.0L1.0 0.0ZM18.8 0.2L21.2 2.1L22.6 0.5L22.7 0.0L18.8 0.0ZM39.5 0.4L40.6 1.4L43.6 1.4L43.9 0.0L39.4 0.0ZM43.6 1.4L44.6 3.2L46.7 2.3L46.5 0.0L43.9 0.0ZM21.2 2.1L21.3 2.8L24.1 4.5L25.8 0.8L22.6 0.5ZM41.7 8.5L42.9 7.8L43.1 4.4L40.9 4.2L39.4 5.2L40.0 7.1ZM46.8 6.8L44.5 3.3L43.1 4.4L42.9 7.8L46.0 8.0L46.8 7.4ZM15.1 11.7L16.2 11.4L17.5 9.5L15.9 7.0L13.0 8.2ZM20.3 8.9L21.3 10.9L23.6 12.4L24.0 12.1L25.3 9.6L24.2 6.9L20.6 8.2ZM51.7 7.9L51.1 7.0L47.6 7.7L49.6 11.8L50.4 12.0L51.6 10.7ZM30.8 15.3L31.1 12.8L28.7 12.3L28.4 12.6L27.7 15.7L28.5 16.0ZM35.4 14.7L35.3 14.3L32.1 12.3L31.1 12.8L30.8 15.3L33.0 16.9ZM5.1 16.0L4.7 15.7L1.9 15.8L1.4 18.8L3.7 20.1L5.9 18.1ZM13.9 17.2L13.8 16.8L10.5 16.0L10.3 16.1L8.8 19.4L12.5 20.0ZM44.1 19.1L44.9 15.2L43.5 14.0L39.5 15.6L43.4 19.6ZM18.9 22.0L19.0 18.9L17.9 18.4L16.2 19.0L15.7 21.4L17.7 22.4ZM32.9 22.8L32.9 22.8L28.9 23.3L28.7 25.8L31.6 27.4L33.1 24.4ZM14.7 25.4L14.1 26.3L17.2 29.5L18.0 28.7L18.7 26.3L17.1 24.8ZM23.1 26.1L21.3 25.1L18.7 26.3L18.0 28.7L21.1 29.0L23.2 27.2ZM14.9 36.6L16.5 37.5L19.5 34.7L19.1 32.9L17.8 32.1L15.8 33.7ZM26.6 33.3L24.9 32.6L22.2 36.8L25.9 38.3L27.2 37.2ZM34.7 34.7L36.7 37.2L39.2 36.2L39.5 33.6L36.7 32.6L34.9 32.9ZM0.0 36.6L0.0 39.5L2.6 39.4L2.8 37.6ZM8.6 48.1L11.2 48.2L13.7 46.9L12.7 44.0L11.8 43.7L10.6 44.0ZM17.5 44.4L15.3 42.3L12.7 44.0L13.7 46.9L14.8 47.6L17.5 45.3ZM21.6 43.7L19.4 42.9L17.5 44.4L17.5 45.3L19.9 46.9L20.8 46.3ZM29.1 46.2L31.7 46.7L32.6 45.4L32.5 43.5L31.2 42.6L29.3 43.4ZM7.9 49.5L8.3 48.2L5.8 45.6L3.1 47.4L4.0 50.2L5.3 50.9ZM14.8 47.6L15.5 49.2L19.3 50.0L19.9 46.9L17.5 45.3ZM25.5 53.5L25.3 52.4L22.9 49.9L20.4 50.6L21.5 53.5L23.9 53.9ZM27.1 54.6L27.2 54.7L31.5 54.7L32.8 53.3L31.8 50.1L29.8 50.1ZM24.8 58.0L27.1 55.6L27.2 54.7L27.1 54.6L25.5 53.5L23.9 53.9L22.3 57.7ZM35.9 57.9L37.4 57.5L38.7 54.8L36.2 52.9L34.6 53.7ZM11.7 65.1L12.1 62.3L10.4 61.1L7.4 63.1L7.1 64.3L9.0 65.5ZM26.7 61.8L25.9 61.4L23.6 61.8L22.4 65.2L22.4 65.3L25.8 65.4L27.0 63.9ZM34.8 64.3L34.3 62.2L32.3 60.8L31.2 62.0L31.2 64.9L32.6 65.8ZM89.9 62.9L91.3 64.4L94.5 63.0L94.5 62.0L92.3 59.6ZM6.5 64.5L3.0 64.5L2.7 64.7L1.9 67.7L3.7 69.3L6.1 68.7ZM36.7 64.6L34.8 64.3L32.6 65.8L32.7 66.8L34.8 68.7L36.7 67.1ZM91.2 67.5L92.4 68.0L94.8 67.9L96.3 64.3L96.2 64.1L94.5 63.0L91.3 64.4ZM18.4 71.7L17.9 72.0L18.5 75.1L19.0 75.6L22.5 74.7L22.1 72.1ZM31.8 76.2L31.9 78.0L35.7 78.5L35.9 75.2ZM10.4 82.5L10.2 79.6L7.3 79.0L5.8 80.4L5.8 80.6L9.0 83.5ZM104.2 78.1L100.9 77.0L99.6 78.2L100.8 81.5L103.0 80.9ZM35.6 88.8L37.0 87.1L37.4 85.9L35.8 85.0L31.8 85.2L31.6 85.4L33.9 88.5ZM7.8 89.5L6.5 91.7L9.6 94.0L11.2 91.9L10.3 88.9ZM10.3 88.9L11.2 91.9L14.4 93.4L15.5 92.7L15.9 90.3L13.9 88.6L10.4 88.8ZM39.6 92.9L38.8 92.7L36.9 96.1L38.3 97.8L38.7 97.9L41.1 95.2ZM18.6 96.0L15.7 98.1L18.4 100.2L19.7 99.0L19.2 96.4ZM23.2 99.4L24.3 100.2L28.1 99.1L28.2 97.6L25.5 95.8L23.5 96.8L23.1 99.1ZM49.9 99.1L50.5 96.9L49.4 96.4L45.8 96.5L46.2 98.5L49.3 99.5ZM52.2 100.5L55.0 99.5L53.5 96.6L52.2 95.7L50.5 96.9L49.9 99.1ZM102.1 98.4L103.6 99.3L105.7 98.4L105.6 95.5L104.0 94.9ZM24.3 100.2L23.2 99.4L20.8 103.0L24.4 104.8L25.8 103.7L26.0 102.9ZM56.7 99.9L56.5 100.2L56.7 102.3L59.7 103.7L61.1 103.1L61.1 99.7ZM25.8 103.7L29.1 106.1L29.6 106.2L30.8 105.2L30.9 104.3L29.5 101.4L29.0 101.2L26.0 102.9ZM5.5 109.9L5.3 108.7L3.3 107.6L0.6 110.2L0.7 110.4L3.9 111.5ZM0.7 110.4L0.6 110.2L0.0 109.6L0.0 112.1ZM88.2 109.3L85.3 111.3L85.7 113.0L88.8 113.5L89.3 113.0L89.0 110.7ZM89.3 113.0L91.4 113.1L93.4 112.1L93.9 110.9L93.0 109.7L89.0 110.7ZM112.1 109.3L109.3 111.6L111.7 114.5L114.2 112.5L114.2 109.9ZM37.2 113.6L36.7 113.3L32.1 114.1L32.3 115.1L36.7 115.1ZM47.7 115.1L51.6 115.1L51.7 113.7L50.8 112.9L47.9 114.0ZM75.2 114.3L73.1 112.1L71.8 113.0L71.7 115.1L74.9 115.1ZM91.9 115.1L94.7 115.1L94.6 114.4L93.4 112.1L91.4 113.1ZM103.2 114.2L101.9 114.3L100.8 115.1L103.3 115.1Z"/>
<path fill="#3a0909" d="M5.8 1.5L7.5 0.6L7.7 0.0L5.0 0.0L5.3 1.2ZM17.2 1.0L16.7 4.8L19.4 4.9L21.3 2.8L21.2 2.1L18.8 0.2ZM39.4 5.2L40.9 4.2L40.6 1.4L39.5 0.4L36.7 3.2L36.7 4.2ZM44.6 3.2L44.5 3.3L46.8 6.8L49.3 2.9L49.3 2.7L46.7 2.3ZM77.6 4.6L80.7 3.7L80.8 0.3L78.2 0.8L76.3 3.3L76.4 3.6ZM102.9 3.6L102.7 2.1L100.7 0.6L99.7 0.8L99.0 4.3L101.8 5.1ZM11.7 6.1L9.5 5.0L9.4 5.1L8.0 7.4L10.8 9.8L12.7 8.1ZM16.2 11.4L18.4 13.5L21.3 10.9L20.3 8.9L17.5 9.5ZM35.1 8.3L32.4 10.1L32.1 12.3L35.3 14.3L36.7 10.4L36.2 9.3ZM101.2 11.8L99.5 8.9L97.6 8.5L95.9 9.9L95.9 12.1L96.6 12.7L101.0 12.4ZM5.1 16.0L7.3 15.1L8.6 12.0L6.2 10.9L5.2 11.7L4.7 15.7ZM10.5 16.0L13.8 16.8L14.5 15.7L14.2 12.6L10.6 12.4ZM47.7 12.4L45.6 10.6L43.2 12.0L43.5 14.0L44.9 15.2L46.3 14.8ZM85.3 13.0L83.2 10.9L81.8 11.9L81.7 15.5L83.8 16.4L85.7 14.1ZM101.5 15.1L101.0 12.4L96.6 12.7L97.3 15.4L99.8 16.8L101.4 15.2ZM19.0 18.9L22.0 17.8L21.8 15.8L18.6 14.5L17.6 15.6L17.9 18.4ZM88.4 14.5L85.7 14.1L83.8 16.4L84.4 17.9L87.2 18.9ZM109.4 20.4L109.7 22.3L110.8 22.9L113.9 23.0L114.6 19.0L111.3 18.5ZM17.1 24.8L18.7 26.3L21.3 25.1L20.5 22.7L18.9 22.0L17.7 22.4ZM113.9 23.0L110.8 22.9L111.1 25.9L114.2 26.2L115.3 25.4L115.1 24.4ZM11.9 27.0L10.6 25.2L7.2 26.4L7.5 28.5L10.8 28.9L11.4 28.6ZM13.4 30.8L17.0 30.0L17.2 29.5L14.1 26.3L11.9 27.0L11.4 28.6ZM106.4 26.3L103.1 25.3L101.5 26.1L101.5 28.8L102.2 29.1L104.2 28.5ZM0.0 35.1L0.0 36.6L2.8 37.6L3.5 36.7L3.0 33.2L1.9 32.7ZM94.7 35.9L94.4 33.3L90.1 33.6L90.4 36.0L91.3 36.4ZM110.2 32.2L108.3 32.7L109.0 36.9L111.1 37.5L112.6 35.9L112.5 34.0ZM10.3 36.3L7.1 36.5L6.7 37.1L7.0 40.3L7.1 40.4L10.8 39.6ZM27.7 43.1L26.6 41.0L25.8 40.5L23.2 42.0L23.0 42.9L25.5 45.6ZM36.2 47.3L39.4 47.6L40.5 45.5L39.7 44.0L39.5 43.9L36.8 44.8L36.1 47.3ZM26.9 47.7L27.2 48.4L29.8 50.1L31.8 50.1L31.8 50.1L31.7 46.7L29.1 46.2ZM99.6 51.5L101.6 50.0L99.9 47.3L99.4 47.3L98.4 47.6L97.2 50.2ZM111.1 54.0L112.0 52.6L111.6 50.3L109.1 49.7L106.7 50.5L108.5 53.6L109.4 54.3ZM116.7 55.0L118.2 53.5L118.2 51.5L116.2 50.2L114.0 52.9ZM3.1 54.1L3.1 56.2L7.1 57.3L7.1 57.3L7.1 54.6L5.2 52.6ZM32.2 58.5L32.4 58.6L35.8 58.0L35.9 57.9L34.6 53.7L32.8 53.3L31.5 54.7ZM100.8 62.2L103.3 61.2L103.5 57.9L102.8 57.5L98.8 57.7L99.4 61.3ZM15.8 64.2L13.7 66.7L13.9 67.7L15.2 68.6L19.0 67.4L17.7 64.2ZM32.6 65.8L31.2 64.9L29.3 65.3L28.7 67.8L30.8 69.1L32.7 66.8ZM11.5 70.2L13.8 73.6L16.1 71.5L15.2 68.6L13.9 67.7L12.1 69.1ZM115.1 73.0L117.6 72.1L118.1 71.1L117.6 68.7L117.3 68.3L115.5 67.5L113.0 69.6L113.0 70.3ZM1.5 75.0L3.2 75.7L5.7 74.7L5.5 73.3L3.8 71.2L0.8 72.4ZM30.9 70.4L29.7 71.5L29.5 74.5L31.2 75.3L34.1 71.6ZM112.2 75.6L114.7 74.4L115.1 73.0L113.0 70.3L110.5 72.2L109.9 74.5L110.1 74.6ZM0.2 78.8L1.7 79.7L2.6 79.1L3.2 75.7L1.5 75.0L0.0 75.6L0.0 77.6ZM19.0 75.6L18.5 75.1L15.0 75.4L15.4 78.7L17.1 79.2L18.6 78.5ZM15.2 84.0L17.1 82.5L17.1 79.2L15.4 78.7L13.9 79.2L13.7 82.9ZM24.2 83.0L21.7 81.7L19.7 83.4L20.0 85.8L21.5 86.9L24.1 85.0ZM38.7 83.2L36.6 80.2L35.3 81.3L35.8 85.0L37.4 85.9L38.0 85.5ZM4.5 85.0L1.7 86.6L1.4 88.4L3.2 89.9L5.8 87.9L4.9 85.2ZM17.4 89.5L17.7 86.7L15.2 85.2L13.9 88.6L15.9 90.3ZM25.9 88.1L25.1 85.9L24.1 85.0L21.5 86.9L21.8 89.0L22.9 89.6ZM36.0 91.5L38.5 92.3L39.2 89.7L37.0 87.1L35.6 88.8ZM42.0 91.7L45.1 94.5L47.0 92.2L46.6 90.6L45.8 89.9L42.7 89.9ZM25.5 95.8L26.5 92.9L24.0 91.5L21.7 93.6L22.9 96.4L23.5 96.8ZM3.9 97.9L2.0 96.3L0.0 96.6L0.0 99.5L2.2 99.8L3.8 98.6ZM46.2 98.5L44.8 100.7L44.7 102.1L46.8 103.3L48.1 103.2L49.3 99.5ZM48.1 103.2L50.6 104.6L51.7 103.8L52.2 100.5L49.9 99.1L49.3 99.5ZM103.6 99.3L104.1 102.4L104.6 102.7L106.8 102.1L108.9 99.0L105.7 98.4ZM111.3 100.2L111.3 101.0L112.9 103.5L114.7 103.2L115.5 99.9L113.5 98.9ZM114.7 103.2L116.8 104.3L118.2 103.5L118.2 100.3L117.9 100.1L115.5 99.9ZM24.4 104.8L24.2 106.1L25.3 108.5L29.1 106.1L25.8 103.7ZM40.1 107.2L42.5 105.8L42.8 102.9L40.3 102.0L39.3 102.5L39.6 106.9ZM5.3 108.7L5.5 109.9L7.4 111.1L10.2 108.4L10.1 107.5L7.5 106.3ZM14.3 109.5L15.4 110.8L17.9 110.1L16.9 105.9L14.8 105.6L14.2 106.0ZM16.9 105.9L17.9 110.1L18.9 110.4L20.4 109.8L20.8 107.2L19.3 104.3ZM93.9 110.9L95.9 110.5L97.3 106.8L93.2 106.2L92.4 107.8L93.0 109.7ZM15.4 110.8L14.0 113.5L14.1 113.9L16.9 115.0L19.0 112.5L18.9 110.4L17.9 110.1ZM23.3 111.6L23.2 110.7L20.4 109.8L18.9 110.4L19.0 112.5L21.0 115.1L21.3 115.1ZM23.2 110.7L23.3 111.6L25.3 114.3L28.1 113.1L27.3 110.7L25.1 109.5ZM93.4 112.1L94.6 114.4L98.2 112.7L98.2 112.0L95.9 110.5L93.9 110.9ZM108.7 111.6L107.0 110.0L104.4 110.4L104.2 113.6L106.7 115.1L106.8 115.1ZM2.3 114.6L2.3 115.1L6.4 115.1L6.4 114.1L3.8 112.7ZM31.6 113.7L29.2 113.9L28.8 115.1L32.3 115.1L32.1 114.1ZM43.4 112.9L43.9 115.1L47.7 115.1L47.9 114.0L46.6 112.6ZM56.0 114.1L56.1 115.1L60.9 115.1L60.8 114.0L58.4 113.1Z"/>
<path fill="#4a0d0d" d="M7.5 0.6L11.3 1.3L11.7 1.0L11.8 0.0L7.7 0.0ZM11.7 1.0L13.3 1.8L15.6 0.6L15.5 0.0L11.8 0.0ZM15.6 0.6L17.2 1.0L18.8 0.2L18.8 0.0L15.5 0.0ZM46.7 2.3L49.3 2.7L50.0 0.9L49.8 0.0L46.5 0.0ZM1.1 4.8L1.6 4.6L3.1 1.7L1.1 0.4L0.0 1.7L0.0 4.3ZM1.6 4.6L4.3 5.8L6.2 2.9L5.8 1.5L5.3 1.2L3.1 1.7ZM6.2 2.9L9.4 5.1L9.5 5.0L11.3 1.3L7.5 0.6L5.8 1.5ZM26.7 0.4L25.8 0.8L24.1 4.5L24.8 5.5L27.0 5.2L28.3 4.3L28.0 2.1ZM1.1 4.8L0.4 8.6L1.0 9.2L4.9 7.5L4.3 5.8L1.6 4.6ZM12.7 8.1L10.8 9.8L10.3 12.1L10.6 12.4L14.2 12.6L15.1 11.7L13.0 8.2ZM25.3 9.6L24.0 12.1L28.4 12.6L28.7 12.3L28.4 9.4ZM42.9 7.8L41.7 8.5L41.4 10.4L43.2 12.0L45.6 10.6L46.0 8.0ZM21.8 15.8L23.6 13.4L23.6 12.4L21.3 10.9L18.4 13.5L18.6 14.5ZM33.0 16.9L30.8 15.3L28.5 16.0L30.3 19.0L31.3 19.1L32.9 17.2ZM34.9 19.2L37.8 17.4L37.9 16.0L35.4 14.7L33.0 16.9L32.9 17.2ZM46.3 14.8L44.9 15.2L44.1 19.1L45.8 19.4L49.2 17.8L48.9 16.7ZM16.2 19.0L13.9 17.2L12.5 20.0L13.4 21.8L13.9 22.0L15.7 21.4ZM25.9 18.2L22.1 17.8L22.4 20.9L25.4 22.5L26.9 21.7L27.1 20.8ZM43.3 19.8L38.1 18.6L37.9 21.4L42.8 21.3ZM6.5 25.8L7.2 26.4L10.6 25.2L10.4 23.8L8.2 21.7L6.8 22.6ZM43.1 27.6L45.3 25.0L45.2 24.7L43.0 22.3L40.0 25.2ZM55.5 25.5L55.9 22.9L55.2 22.1L52.7 21.9L52.2 25.9L54.0 26.0ZM70.4 21.4L67.3 21.2L66.9 21.9L67.4 24.6L70.8 24.9L71.2 24.6L71.2 24.4ZM77.8 21.2L75.5 22.8L75.7 24.9L78.9 25.5L79.5 22.6ZM1.9 32.6L1.3 31.3L0.0 30.0L0.0 32.9ZM7.5 28.5L6.3 29.9L6.5 32.4L6.5 32.5L9.3 32.4L10.8 28.9ZM21.1 29.0L18.0 28.7L17.2 29.5L17.0 30.0L17.8 32.1L19.1 32.9L21.4 31.8ZM3.5 36.7L6.7 37.1L7.1 36.5L6.5 32.5L6.5 32.4L3.0 33.2ZM30.3 33.9L28.7 32.8L26.6 33.3L27.2 37.2L29.8 37.8L30.9 36.3ZM54.1 32.6L52.5 32.3L51.9 32.8L51.5 35.2L53.2 36.8L55.7 36.8ZM19.5 34.7L16.5 37.5L17.5 39.4L18.5 39.7L21.1 38.9L22.2 36.8ZM21.1 38.9L23.2 42.0L25.8 40.5L25.9 38.3L22.2 36.8L22.2 36.8ZM36.7 37.2L35.8 39.5L36.2 40.3L38.2 40.8L41.5 38.8L41.4 38.5L39.2 36.2ZM75.6 39.2L77.6 40.8L79.5 39.7L79.1 37.5L77.2 35.7L75.3 36.5ZM10.6 44.0L11.8 43.7L11.1 39.7L10.8 39.6L7.1 40.4L7.5 42.9ZM19.4 42.9L18.5 39.7L17.5 39.4L15.5 41.5L15.3 42.3L17.5 44.4ZM32.5 43.5L34.9 42.6L36.2 40.3L35.8 39.5L34.1 39.0L30.9 40.2L31.2 42.6ZM42.2 39.3L41.5 38.8L38.2 40.8L39.5 43.9L39.7 44.0L42.1 42.2ZM5.8 45.6L8.3 48.2L8.6 48.1L10.6 44.0L7.5 42.9L5.8 45.1ZM32.6 45.4L36.1 47.3L36.8 44.8L34.9 42.6L32.5 43.5ZM51.4 43.1L47.6 43.2L49.7 47.1L52.2 45.9L53.0 44.0ZM0.9 51.4L4.0 50.2L3.1 47.4L2.6 47.2L0.0 48.0L0.0 50.9ZM31.8 50.1L35.6 48.9L36.2 47.3L36.1 47.3L32.6 45.4L31.7 46.7ZM37.0 51.0L40.8 50.6L39.4 47.6L36.2 47.3L35.6 48.9ZM67.5 47.1L66.9 49.8L68.4 50.9L69.9 50.0L70.8 47.4L68.3 46.4ZM1.6 53.2L0.9 51.4L0.0 50.9L0.0 54.7ZM4.0 50.2L0.9 51.4L1.6 53.2L3.1 54.1L5.2 52.6L5.3 50.9ZM5.2 52.6L7.1 54.6L9.5 52.8L8.9 50.9L7.9 49.5L5.3 50.9ZM21.5 53.5L20.4 50.6L19.5 50.3L17.3 54.0L19.4 56.2ZM25.3 52.4L25.5 53.5L27.1 54.6L29.8 50.1L27.2 48.4ZM57.9 54.6L60.6 54.1L60.8 50.4L58.7 49.2L56.2 51.7L56.5 52.9ZM63.5 50.1L60.8 50.4L60.6 54.1L62.1 54.9L64.5 53.3L64.5 50.7ZM0.0 54.7L0.0 56.6L1.6 57.4L3.1 56.2L3.1 54.1L1.6 53.2ZM7.1 57.3L10.3 57.9L11.6 57.2L12.1 53.9L9.5 52.8L7.1 54.6ZM17.3 54.0L16.0 53.9L15.0 57.3L17.6 59.1L17.6 59.1L19.6 57.2L19.4 56.2ZM28.8 58.6L32.2 58.5L31.5 54.7L27.2 54.7L27.1 55.6ZM0.0 56.6L0.0 60.2L1.7 59.2L1.6 57.4ZM1.7 59.2L3.1 60.4L6.1 59.5L7.1 57.3L3.1 56.2L1.6 57.4ZM38.5 63.7L38.6 62.6L36.2 60.7L34.3 62.2L34.8 64.3L36.7 64.6ZM55.5 63.4L53.0 61.3L51.0 62.8L51.0 63.5L52.9 66.5ZM19.0 67.4L19.6 67.8L21.5 67.7L22.4 65.3L22.4 65.2L19.1 62.7L17.7 64.2ZM19.0 67.4L15.2 68.6L16.1 71.5L17.9 72.0L18.4 71.7L19.6 67.8ZM26.0 67.7L22.4 68.7L22.8 70.8L26.1 71.2L26.9 70.3L27.0 68.6ZM28.7 67.8L27.0 68.6L26.9 70.3L29.7 71.5L30.9 70.4L30.8 69.1ZM32.7 66.8L30.8 69.1L30.9 70.4L34.1 71.6L35.2 71.4L34.8 68.7ZM73.1 68.5L73.6 71.2L76.0 72.9L77.0 71.6L78.0 68.1L76.8 67.2ZM95.8 72.4L96.8 70.4L96.9 69.4L94.8 67.9L92.4 68.0L93.5 72.4ZM9.7 74.5L11.3 75.2L13.7 73.9L13.8 73.6L11.5 70.2L9.7 70.9ZM65.5 70.8L63.8 71.6L64.0 74.2L66.8 75.9L68.2 75.4L68.1 72.7ZM96.4 75.0L96.7 74.1L95.8 72.4L93.5 72.4L93.0 72.7L91.7 74.8L93.4 77.4ZM36.1 75.0L35.9 75.2L35.7 78.5L36.7 79.9L39.4 78.6L39.1 76.5ZM61.9 77.0L61.9 77.4L64.7 78.4L66.8 75.9L64.0 74.2ZM13.7 82.9L13.9 79.2L11.4 78.5L10.2 79.6L10.4 82.5L11.7 83.0ZM23.0 78.2L21.3 79.8L21.7 81.7L24.2 83.0L25.0 82.5L25.3 79.0ZM36.7 79.9L35.7 78.5L31.9 78.0L31.8 78.2L33.3 81.6L35.3 81.3L36.6 80.2ZM17.7 86.7L20.0 85.8L19.7 83.4L17.1 82.5L15.2 84.0L15.2 85.1L15.2 85.2ZM35.3 81.3L33.3 81.6L31.7 83.5L31.8 85.2L35.8 85.0ZM42.2 83.2L40.6 82.3L38.7 83.2L38.0 85.5L41.6 86.5L42.5 85.8ZM55.1 81.9L52.8 81.7L51.3 82.5L51.1 85.2L52.2 86.6L54.5 85.2ZM1.4 88.4L1.7 86.6L0.0 85.5L0.0 89.3ZM13.9 88.6L15.2 85.2L15.2 85.1L11.6 86.0L10.3 87.7L10.4 88.8ZM29.9 86.5L28.0 85.0L25.1 85.9L25.9 88.1L27.8 88.8L29.4 87.8ZM38.0 85.5L37.4 85.9L37.0 87.1L39.2 89.7L41.6 88.4L41.6 86.5ZM86.9 86.7L87.4 88.6L90.5 88.8L91.2 88.6L91.4 86.7L88.9 84.8ZM2.9 93.0L3.7 92.4L3.2 89.9L1.4 88.4L0.0 89.3L0.0 92.3ZM22.9 89.6L21.8 89.0L20.2 90.2L20.0 92.8L21.7 93.6L24.0 91.5ZM27.8 88.8L25.9 88.1L22.9 89.6L24.0 91.5L26.5 92.9L27.1 92.6ZM32.0 92.3L31.8 90.9L29.4 87.8L27.8 88.8L27.1 92.6L29.7 93.2ZM111.7 94.3L113.0 92.1L112.5 90.1L109.7 89.3L108.2 92.9L111.5 94.4ZM14.0 95.0L14.4 93.4L11.2 91.9L9.6 94.0L9.4 95.4L11.3 96.1ZM18.6 96.0L18.3 94.0L15.5 92.7L14.4 93.4L14.0 95.0L15.6 98.1L15.7 98.1ZM113.9 96.6L115.1 95.9L116.3 92.9L113.0 92.1L111.7 94.3ZM117.1 92.5L116.3 92.9L115.1 95.9L117.7 96.7L118.2 96.2L118.2 92.9ZM8.6 99.2L7.8 96.6L6.6 96.4L3.9 97.9L3.8 98.6L5.1 100.5ZM15.6 98.1L14.0 95.0L11.3 96.1L12.2 100.0L13.4 100.4ZM19.7 99.0L23.1 99.1L23.5 96.8L22.9 96.4L19.2 96.4ZM28.2 97.6L28.1 99.1L29.0 101.2L29.5 101.4L31.9 99.8L31.3 97.2L30.0 96.8ZM36.9 96.1L34.5 96.0L34.5 99.7L37.0 99.3L38.3 97.8ZM109.0 97.9L109.0 99.0L111.3 100.2L113.5 98.9L113.9 96.6L111.7 94.3L111.5 94.4ZM2.0 102.3L2.2 99.8L0.0 99.5L0.0 103.0ZM5.1 100.5L3.8 98.6L2.2 99.8L2.0 102.3L5.0 103.3L5.2 103.3ZM11.5 104.4L13.5 100.7L13.4 100.4L12.2 100.0L9.6 100.4L8.7 102.7ZM34.4 102.0L34.0 100.5L31.9 99.8L29.5 101.4L30.9 104.3ZM12.0 105.8L14.2 106.0L14.8 105.6L14.8 102.2L13.5 100.7L11.5 104.4ZM20.8 103.0L19.6 103.4L19.3 104.3L20.8 107.2L24.2 106.1L24.4 104.8ZM36.6 107.1L39.6 106.9L39.3 102.5L37.5 102.6L36.1 103.2L35.7 106.2ZM65.9 105.4L69.4 107.3L70.2 107.0L70.8 103.8L69.9 103.1L66.4 104.1ZM105.6 105.5L108.1 106.5L109.0 106.1L109.0 104.1L106.8 102.1L104.6 102.7ZM40.6 108.9L42.7 110.6L45.1 108.4L45.0 107.4L42.5 105.8L40.1 107.2ZM64.3 106.4L64.0 106.3L60.7 107.3L60.1 109.6L61.6 110.7L64.9 109.8ZM65.7 110.4L67.7 110.2L69.4 107.3L65.9 105.4L64.3 106.4L64.9 109.8ZM103.3 109.7L104.4 110.4L107.0 110.0L108.1 106.5L105.6 105.5L102.8 107.7ZM115.9 107.1L115.8 106.7L112.6 105.3L110.9 106.6L112.1 109.3L114.2 109.9L115.5 109.1ZM115.9 107.1L115.5 109.1L117.5 110.1L118.2 109.9L118.2 107.1ZM6.4 114.1L7.8 112.1L7.4 111.1L5.5 109.9L3.9 111.5L3.8 112.7ZM7.8 112.1L9.5 112.8L11.1 112.2L11.1 109.3L10.2 108.4L7.4 111.1ZM11.1 109.3L11.1 112.2L14.0 113.5L15.4 110.8L14.3 109.5ZM30.1 109.0L27.3 110.7L28.1 113.1L29.2 113.9L31.6 113.7L32.0 110.4ZM32.0 110.4L31.6 113.7L32.1 114.1L36.7 113.3L35.9 110.3L32.6 110.0ZM36.7 113.3L37.2 113.6L38.6 113.7L39.2 110.0L36.3 109.6L35.9 110.3ZM42.7 112.3L42.7 110.6L40.6 108.9L39.2 110.0L38.6 113.7L39.4 114.0ZM101.9 114.3L100.8 111.1L99.7 111.1L98.2 112.0L98.2 112.7L98.9 115.1L100.8 115.1ZM9.5 112.8L7.8 112.1L6.4 114.1L6.4 115.1L9.6 115.1ZM16.9 115.0L14.1 113.9L13.5 115.1L16.9 115.1ZM29.2 113.9L28.1 113.1L25.3 114.3L25.1 115.1L28.8 115.1ZM39.4 114.0L38.6 113.7L37.2 113.6L36.7 115.1L39.7 115.1ZM43.4 112.9L42.7 112.3L39.4 114.0L39.7 115.1L43.9 115.1ZM56.0 114.1L55.0 113.0L51.7 113.7L51.6 115.1L56.1 115.1ZM84.7 113.9L81.6 113.3L80.0 114.9L80.1 115.1L84.8 115.1ZM85.7 113.0L84.7 113.9L84.8 115.1L88.7 115.1L88.8 113.5ZM117.9 113.2L115.9 113.7L115.8 115.1L118.2 115.1L118.2 113.3Z"/>
<path fill="#28a024" d="M22.6 0.5L25.8 0.8L26.7 0.4L26.8 0.0L22.7 0.0ZM80.8 0.3L80.7 3.7L82.7 4.7L83.3 4.3L84.4 0.8L82.5 0.0L81.0 0.0ZM4.3 5.8L4.9 7.5L6.1 8.4L8.0 7.4L9.4 5.1L6.2 2.9ZM66.9 6.3L64.8 4.2L62.6 6.1L63.0 7.1L65.0 7.8L66.9 6.8ZM102.1 6.6L104.0 7.8L105.4 7.7L106.3 4.2L102.9 3.6L101.8 5.1ZM6.2 10.9L6.1 8.4L4.9 7.5L1.0 9.2L1.4 11.2L5.2 11.7ZM8.2 21.7L8.5 19.6L5.9 18.1L3.7 20.1L3.8 22.3L6.8 22.6ZM70.4 21.4L71.2 24.4L74.3 22.3L73.2 20.2L71.7 19.5ZM14.1 26.3L14.7 25.4L13.9 22.0L13.4 21.8L10.4 23.8L10.6 25.2L11.9 27.0ZM117.6 29.8L116.4 26.2L115.3 25.4L114.2 26.2L112.5 29.3L114.6 30.7ZM75.5 29.5L75.3 31.0L77.6 34.6L80.1 33.0L80.2 30.8L76.9 29.3ZM114.6 30.7L112.5 29.3L111.3 29.4L110.2 32.2L112.5 34.0L114.0 32.8ZM65.5 37.0L65.0 33.6L62.1 33.4L62.2 35.7L65.0 37.4ZM41.4 38.5L41.5 38.8L42.2 39.3L45.0 39.4L46.0 37.5L43.4 35.0ZM48.0 36.2L46.0 37.5L45.0 39.4L46.9 41.9L50.0 39.4L48.7 36.6ZM55.9 37.0L55.7 36.8L53.2 36.8L51.5 39.3L54.6 41.3L56.4 39.6ZM36.8 44.8L39.5 43.9L38.2 40.8L36.2 40.3L34.9 42.6ZM60.9 39.3L58.1 40.4L58.9 43.4L60.0 44.2L63.1 43.1L62.5 39.8ZM99.1 43.6L101.8 42.4L101.2 40.1L99.4 38.8L98.5 39.5L97.4 43.0ZM55.9 44.5L56.7 47.1L58.6 48.3L59.7 46.9L60.0 44.2L58.9 43.4ZM74.0 48.1L76.4 44.9L76.5 44.0L76.5 44.0L74.1 42.8L71.9 44.2L72.2 47.2ZM81.7 48.4L80.7 47.2L78.2 47.0L77.6 50.6L79.2 51.0L81.3 49.2ZM64.5 53.3L62.1 54.9L62.3 56.4L65.0 58.3L67.0 56.2L67.2 55.1ZM75.5 60.2L77.9 62.3L79.5 59.5L79.5 59.0L77.8 56.8L76.6 57.0ZM61.9 63.6L60.9 61.1L60.9 61.1L57.5 62.7L57.4 63.1L60.4 65.3ZM72.4 61.1L70.0 62.4L69.9 63.4L72.1 66.1L74.3 63.6ZM102.8 66.6L104.7 62.8L104.4 62.2L103.3 61.2L100.8 62.2L100.3 64.3ZM117.9 60.8L116.9 63.9L118.2 64.3L118.2 60.5ZM47.5 67.4L47.7 66.3L46.3 63.3L43.7 63.8L43.2 64.7L44.6 67.5ZM55.2 70.8L54.9 67.9L53.0 67.1L51.0 68.8L51.3 72.2L51.4 72.2ZM62.3 71.4L60.3 74.2L61.9 77.0L64.0 74.2L63.8 71.6ZM116.8 76.9L118.2 75.0L118.2 73.2L117.6 72.1L115.1 73.0L114.7 74.4ZM88.3 75.0L86.1 76.9L85.9 77.3L86.9 79.8L90.3 79.5ZM52.8 81.7L55.1 81.9L56.1 81.4L55.8 78.6L52.2 78.6ZM83.0 77.8L81.9 77.1L78.7 78.4L78.6 78.6L80.5 82.1L82.2 82.4L82.9 82.1ZM111.5 81.1L112.4 81.6L114.5 81.0L115.0 78.9L112.6 77.8L111.5 79.0ZM60.5 87.9L63.1 88.8L64.1 88.5L64.6 87.2L62.0 84.6L60.1 86.1ZM96.2 89.0L97.5 89.4L98.6 88.9L100.2 86.3L98.3 84.5L95.9 85.6ZM56.7 93.1L58.8 92.0L58.9 89.3L56.3 88.5L54.3 89.4L55.5 92.6ZM63.1 88.8L62.5 92.4L63.4 92.9L66.1 92.0L66.1 89.9L64.1 88.5ZM102.0 90.2L98.6 88.9L97.5 89.4L98.5 93.0L99.9 93.9L102.2 92.7ZM56.9 95.2L58.1 96.7L60.7 96.2L60.8 93.1L58.8 92.0L56.7 93.1ZM99.9 93.9L98.5 93.0L95.0 94.2L95.0 95.9L97.5 96.9L99.8 96.1ZM102.2 92.7L99.9 93.9L99.8 96.1L101.2 98.3L102.1 98.4L104.0 94.9L102.8 92.9ZM107.3 94.6L109.0 97.9L111.5 94.4L108.2 92.9L108.0 93.0ZM81.7 98.7L81.9 96.0L79.8 95.1L77.2 95.5L77.5 99.4L79.1 100.1ZM85.7 99.7L85.0 95.7L84.0 94.4L81.9 96.0L81.7 98.7L84.4 100.0ZM76.4 99.8L73.5 98.4L72.1 99.6L73.6 103.1L74.5 102.3ZM111.7 114.5L109.3 111.6L108.7 111.6L106.8 115.1L111.7 115.1Z"/>
<path fill="#2c0606" d="M26.7 0.4L28.0 2.1L31.6 0.3L31.5 0.0L26.8 0.0ZM35.1 1.4L36.7 3.2L39.5 0.4L39.4 0.0L35.4 0.0ZM28.0 2.1L28.3 4.3L31.4 4.9L31.4 4.9L32.3 1.4L31.6 0.3ZM11.7 6.1L12.7 8.1L13.0 8.2L15.9 7.0L16.4 4.9L14.3 3.9ZM24.2 6.9L25.3 9.6L28.4 9.4L28.5 9.2L27.0 5.2L24.8 5.5ZM51.1 7.0L51.4 5.5L51.1 4.6L49.3 2.9L46.8 6.8L46.8 7.4L47.6 7.7ZM8.0 7.4L6.1 8.4L6.2 10.9L8.6 12.0L10.3 12.1L10.8 9.8ZM36.7 10.4L39.8 11.2L41.4 10.4L41.7 8.5L40.0 7.1L36.2 9.3ZM17.6 15.6L14.5 15.7L13.8 16.8L13.9 17.2L16.2 19.0L17.9 18.4ZM15.7 21.4L13.9 22.0L14.7 25.4L17.1 24.8L17.7 22.4ZM28.7 25.8L28.9 23.3L26.9 21.7L25.4 22.5L24.3 25.0L27.9 26.4ZM40.0 25.2L43.0 22.3L42.8 21.3L37.9 21.4L37.2 22.1L38.4 25.4ZM1.3 31.3L4.2 28.6L3.6 26.3L2.0 25.4L0.0 27.7L0.0 30.0ZM17.8 32.1L17.0 30.0L13.4 30.8L13.1 32.4L15.8 33.7ZM33.1 29.7L31.9 29.0L29.9 30.1L28.7 32.8L30.3 33.9L34.2 32.4ZM11.3 34.1L9.3 32.4L6.5 32.5L7.1 36.5L10.3 36.3L11.4 34.8ZM3.4 40.6L2.6 39.4L0.0 39.5L0.0 43.3L1.2 43.3L2.6 42.5ZM7.5 42.9L7.1 40.4L7.0 40.3L3.4 40.6L2.6 42.5L5.8 45.1ZM11.8 43.7L12.7 44.0L15.3 42.3L15.5 41.5L12.6 39.4L11.1 39.7ZM2.6 47.2L1.2 43.3L0.0 43.3L0.0 48.0ZM25.5 45.6L23.0 42.9L21.6 43.7L20.8 46.3L24.1 47.7L25.6 46.9ZM26.9 47.7L29.1 46.2L29.3 43.4L27.7 43.1L25.5 45.6L25.6 46.9ZM12.1 57.4L15.0 57.3L16.0 53.9L13.8 52.4L12.1 53.9L11.6 57.2ZM6.1 59.5L7.4 63.1L10.4 61.1L10.3 57.9L7.1 57.3L7.1 57.3ZM10.3 57.9L10.4 61.1L12.1 62.3L14.4 61.6L14.5 61.3L12.1 57.4L11.6 57.2ZM17.6 59.1L15.0 57.3L12.1 57.4L14.5 61.3ZM21.8 57.9L22.3 61.0L23.6 61.8L25.9 61.4L24.8 58.0L22.3 57.7ZM31.2 62.0L27.5 61.3L26.7 61.8L27.0 63.9L29.3 65.3L31.2 64.9ZM0.0 63.6L0.0 68.5L0.2 68.6L1.9 67.7L2.7 64.7ZM27.0 63.9L25.8 65.4L26.0 67.7L27.0 68.6L28.7 67.8L29.3 65.3ZM0.2 68.6L0.0 68.5L0.0 69.5ZM0.8 72.4L3.8 71.2L3.7 69.3L1.9 67.7L0.2 68.6L0.0 69.5L0.0 71.7ZM13.7 73.9L15.0 75.4L18.5 75.1L17.9 72.0L16.1 71.5L13.8 73.6ZM23.0 75.1L23.0 78.2L25.3 79.0L27.2 78.3L27.3 75.1L26.5 74.7ZM5.8 80.6L5.8 80.4L2.6 79.1L1.7 79.7L1.0 81.8L4.3 84.3ZM25.3 79.0L25.0 82.5L27.1 82.6L29.0 81.0L29.0 79.9L27.2 78.3ZM31.8 78.2L29.0 79.9L29.0 81.0L31.7 83.5L33.3 81.6ZM9.0 83.5L5.8 80.6L4.3 84.3L4.5 85.0L4.9 85.2L8.4 84.7ZM15.2 85.1L15.2 84.0L13.7 82.9L11.7 83.0L11.6 86.0ZM31.6 85.4L29.9 86.5L29.4 87.8L31.8 90.9L33.9 88.5ZM3.2 89.9L3.7 92.4L5.0 92.7L6.5 91.7L7.8 89.5L5.8 87.9ZM18.3 94.0L20.0 92.8L20.2 90.2L17.4 89.5L15.9 90.3L15.5 92.7ZM5.0 92.7L3.7 92.4L2.9 93.0L2.0 96.3L3.9 97.9L6.6 96.4ZM22.9 96.4L21.7 93.6L20.0 92.8L18.3 94.0L18.6 96.0L19.2 96.4ZM45.1 94.5L42.0 91.7L39.6 92.9L41.1 95.2L43.4 95.9L44.8 95.3ZM97.3 106.8L98.0 106.3L97.8 104.3L96.0 102.7L92.7 104.4L93.2 106.2ZM100.0 102.3L97.8 104.3L98.0 106.3L98.8 106.7L101.3 106.6L102.2 103.3ZM36.3 109.6L39.2 110.0L40.6 108.9L40.1 107.2L39.6 106.9L36.6 107.1ZM69.4 107.3L67.7 110.2L68.9 111.3L71.8 110.1L71.1 107.5L70.2 107.0ZM71.1 107.5L71.8 110.1L73.3 111.2L75.3 109.6L75.1 107.4ZM101.3 106.6L98.8 106.7L99.7 111.1L100.8 111.1L103.3 109.7L102.8 107.7ZM2.3 114.6L3.8 112.7L3.9 111.5L0.7 110.4L0.0 112.1L0.0 113.0ZM45.1 108.4L42.7 110.6L42.7 112.3L43.4 112.9L46.6 112.6L47.5 109.9ZM2.3 114.6L0.0 113.0L0.0 115.1L2.3 115.1ZM19.0 112.5L16.9 115.0L16.9 115.1L21.0 115.1ZM91.4 113.1L89.3 113.0L88.8 113.5L88.7 115.1L91.9 115.1ZM111.7 114.5L111.7 115.1L115.8 115.1L115.9 113.7L114.2 112.5Z"/>
<path fill="#581010" d="M54.6 1.1L54.7 0.0L49.8 0.0L50.0 0.9ZM11.7 1.0L11.3 1.3L9.5 5.0L11.7 6.1L14.3 3.9L13.3 1.8ZM49.3 2.9L51.1 4.6L54.7 1.4L54.6 1.1L50.0 0.9L49.3 2.7ZM0.4 8.6L1.1 4.8L0.0 4.3L0.0 8.6ZM40.0 7.1L39.4 5.2L36.7 4.2L34.7 6.3L35.1 8.3L36.2 9.3ZM47.6 7.7L46.8 7.4L46.0 8.0L45.6 10.6L47.7 12.4L49.6 11.8ZM14.2 12.6L14.5 15.7L17.6 15.6L18.6 14.5L18.4 13.5L16.2 11.4L15.1 11.7ZM39.5 15.6L43.5 14.0L43.2 12.0L41.4 10.4L39.8 11.2L39.3 15.5ZM27.1 16.0L23.6 13.4L21.8 15.8L22.0 17.8L22.1 17.8L25.9 18.2ZM27.7 15.7L27.1 16.0L25.9 18.2L27.1 20.8L30.3 19.0L28.5 16.0ZM38.1 18.6L43.3 19.8L43.4 19.6L39.5 15.6L39.3 15.5L37.9 16.0L37.8 17.4ZM20.5 22.7L22.4 20.9L22.1 17.8L22.0 17.8L19.0 18.9L18.9 22.0ZM38.4 25.4L37.2 22.1L35.1 21.9L32.9 22.8L33.1 24.4L35.5 26.2L38.0 26.0ZM36.7 32.6L37.9 28.7L33.9 29.2L33.1 29.7L34.2 32.4L34.9 32.9ZM23.0 42.9L23.2 42.0L21.1 38.9L18.5 39.7L19.4 42.9L21.6 43.7ZM2.6 42.5L1.2 43.3L2.6 47.2L3.1 47.4L5.8 45.6L5.8 45.1ZM8.9 50.9L12.0 50.6L11.2 48.2L8.6 48.1L8.3 48.2L7.9 49.5ZM13.8 52.3L13.8 52.4L16.0 53.9L17.3 54.0L19.5 50.3L19.3 50.0L15.5 49.2ZM26.7 61.8L27.5 61.3L28.8 58.6L27.1 55.6L24.8 58.0L25.9 61.4ZM32.3 60.8L32.4 58.6L32.2 58.5L28.8 58.6L27.5 61.3L31.2 62.0ZM12.1 62.3L11.7 65.1L13.7 66.7L15.8 64.2L14.4 61.6ZM9.2 67.2L9.0 65.5L7.1 64.3L6.5 64.5L6.1 68.7L7.8 69.8ZM22.4 68.7L21.5 67.7L19.6 67.8L18.4 71.7L22.1 72.1L22.8 70.8ZM1.5 75.0L0.8 72.4L0.0 71.7L0.0 75.6ZM5.5 73.3L5.7 74.7L6.5 75.2L9.7 74.5L9.7 70.9L7.9 70.1ZM96.7 74.1L99.3 74.0L100.1 72.2L96.8 70.4L95.8 72.4ZM7.3 79.0L6.5 75.2L5.7 74.7L3.2 75.7L2.6 79.1L5.8 80.4ZM11.4 78.5L13.9 79.2L15.4 78.7L15.0 75.4L13.7 73.9L11.3 75.2ZM22.5 74.7L19.0 75.6L18.6 78.5L21.3 79.8L23.0 78.2L23.0 75.1ZM17.1 79.2L17.1 82.5L19.7 83.4L21.7 81.7L21.3 79.8L18.6 78.5ZM40.8 79.2L39.4 78.6L36.7 79.9L36.6 80.2L38.7 83.2L40.6 82.3ZM10.3 87.7L11.6 86.0L11.7 83.0L10.4 82.5L9.0 83.5L8.4 84.7ZM100.2 86.3L102.6 86.0L102.8 85.5L100.7 81.8L98.6 82.8L98.3 84.5ZM103.5 88.0L102.6 86.0L100.2 86.3L98.6 88.9L102.0 90.2ZM39.2 89.7L38.5 92.3L38.8 92.7L39.6 92.9L42.0 91.7L42.7 89.9L41.6 88.4ZM105.6 91.8L108.0 93.0L108.2 92.9L109.7 89.3L109.6 89.1L107.3 88.1L105.6 88.7ZM34.5 96.0L36.9 96.1L38.8 92.7L38.5 92.3L36.0 91.5L33.4 93.0L34.0 95.7ZM50.5 96.9L52.2 95.7L52.3 94.5L50.8 92.4L47.4 92.4L49.4 96.4ZM97.0 100.0L97.5 96.9L95.0 95.9L93.7 97.8L93.9 99.2L95.9 100.4ZM105.7 98.4L108.9 99.0L109.0 99.0L109.0 97.9L107.3 94.6L105.6 95.5ZM9.6 100.4L8.6 99.2L5.1 100.5L5.2 103.3L6.9 103.9L8.7 102.7ZM14.8 102.2L18.8 102.4L18.4 100.2L15.7 98.1L15.6 98.1L13.4 100.4L13.5 100.7ZM29.0 101.2L28.1 99.1L24.3 100.2L26.0 102.9ZM52.2 100.5L51.7 103.8L55.4 103.9L56.7 102.3L56.5 100.2L55.0 99.5ZM6.9 103.9L7.5 106.3L10.1 107.5L12.0 105.8L11.5 104.4L8.7 102.7ZM14.8 105.6L16.9 105.9L19.3 104.3L19.6 103.4L18.8 102.4L14.8 102.2ZM92.4 107.8L93.2 106.2L92.7 104.4L91.1 103.1L89.0 104.2L87.6 106.9L88.2 107.8ZM109.0 106.1L110.9 106.6L112.6 105.3L112.9 103.5L111.3 101.0L109.0 104.1ZM10.1 107.5L10.2 108.4L11.1 109.3L14.3 109.5L14.2 106.0L12.0 105.8ZM50.7 105.4L49.4 107.4L49.1 109.5L50.5 110.4L52.0 109.7L52.7 107.3ZM56.4 109.1L58.9 109.8L60.1 109.6L60.7 107.3L59.6 105.7L56.0 107.6ZM61.6 110.7L60.1 109.6L58.9 109.8L58.4 113.1L60.8 114.0L61.4 113.1ZM104.2 113.6L104.4 110.4L103.3 109.7L100.8 111.1L101.9 114.3L103.2 114.2ZM114.2 109.9L114.2 112.5L115.9 113.7L117.9 113.2L117.5 110.1L115.5 109.1ZM117.5 110.1L117.9 113.2L118.2 113.3L118.2 109.9ZM14.1 113.9L14.0 113.5L11.1 112.2L9.5 112.8L9.6 115.1L13.5 115.1ZM65.4 114.2L65.2 113.6L61.4 113.1L60.8 114.0L60.9 115.1L64.9 115.1ZM75.2 114.3L74.9 115.1L80.1 115.1L80.0 114.9L77.6 113.1Z"/>
<path fill="#2a0808" d="M56.0 2.7L56.9 2.9L58.5 1.5L58.4 0.0L54.7 0.0L54.6 1.1L54.7 1.4ZM71.2 24.6L70.8 24.9L70.4 28.7L72.1 29.3L75.1 29.2L74.7 26.3ZM56.5 31.5L56.6 30.3L54.4 29.2L52.2 30.5L52.5 32.3L54.1 32.6ZM73.2 33.4L75.3 31.0L75.5 29.5L75.1 29.2L72.1 29.3L71.7 33.2ZM75.3 36.5L77.2 35.7L77.6 34.6L75.3 31.0L73.2 33.4L74.9 36.4ZM84.4 52.3L84.3 53.9L85.0 54.4L88.1 53.3L88.6 50.6L86.4 49.5ZM57.0 57.8L57.4 57.6L57.9 54.6L56.5 52.9L54.5 54.4L53.9 57.6ZM47.1 62.1L49.2 61.6L49.2 57.7L46.4 57.4L45.6 57.8L45.0 59.3ZM63.6 66.9L66.0 69.0L67.8 67.5L67.6 65.6L65.2 63.8L64.0 64.4ZM89.6 62.8L87.8 63.7L87.6 67.4L90.4 67.9L91.2 67.5L91.3 64.4L89.9 62.9ZM57.0 67.3L54.9 67.9L55.2 70.8L56.9 72.9L58.7 70.6L57.4 67.4ZM70.0 77.8L72.9 78.1L73.4 77.9L74.1 76.0L71.9 74.3L69.1 76.1ZM58.3 77.4L56.0 78.1L55.8 78.6L56.1 81.4L58.0 82.1L60.2 81.0L60.8 78.4ZM45.3 85.9L46.6 84.9L46.5 81.9L45.3 80.8L42.2 83.2L42.5 85.8ZM65.9 85.6L67.5 85.8L69.9 84.2L70.3 82.9L68.7 81.0L65.1 83.5ZM70.3 82.9L69.9 84.2L71.4 86.6L74.8 85.2L73.2 82.9L72.1 82.6ZM85.3 82.5L85.6 85.6L86.9 86.7L88.9 84.8L88.6 83.4L85.7 82.2ZM93.3 92.6L95.0 94.2L98.5 93.0L97.5 89.4L96.2 89.0L93.4 90.1ZM85.7 92.1L84.3 92.9L84.0 94.4L85.0 95.7L89.3 96.3L89.5 96.0L86.2 92.4ZM85.7 99.7L86.2 99.9L88.5 99.0L89.3 96.3L85.0 95.7ZM69.0 100.1L69.9 103.1L70.8 103.8L73.6 103.1L73.6 103.1L72.1 99.6L69.8 99.4Z"/>
<path fill="#2c2cb8" d="M58.5 1.5L61.8 1.5L61.5 0.0L58.4 0.0ZM62.6 6.1L64.8 4.2L64.9 1.7L61.9 1.6L60.9 5.0ZM55.6 7.6L58.6 6.8L59.1 5.6L56.9 2.9L56.0 2.7L54.7 5.1ZM59.0 15.5L57.3 16.1L57.3 18.5L58.1 19.8L61.5 19.4L61.6 16.4ZM49.8 25.5L50.9 26.4L52.2 25.9L52.7 21.9L51.0 19.9L49.6 21.6ZM56.6 30.3L56.5 31.5L58.7 33.7L60.9 32.5L61.5 29.9L57.3 29.3ZM63.9 30.4L65.6 32.8L68.1 31.8L68.5 29.6L67.1 28.5ZM65.6 32.8L65.0 33.6L65.5 37.0L69.5 36.5L69.8 33.9L68.1 31.8ZM79.1 37.5L82.6 35.9L82.3 34.6L80.1 33.0L77.6 34.6L77.2 35.7ZM44.9 44.4L42.1 42.2L39.7 44.0L40.5 45.5L43.6 46.2L44.4 45.9ZM53.9 48.0L53.7 50.7L56.2 51.7L58.7 49.2L58.6 48.3L56.7 47.1ZM80.4 53.9L78.0 56.1L77.8 56.8L79.5 59.0L81.8 58.0L82.3 54.4ZM72.2 57.8L72.7 60.3L75.5 60.2L76.6 57.0L73.7 56.3ZM60.4 65.3L57.4 63.1L57.1 63.3L57.0 67.3L57.4 67.4L60.1 66.7ZM69.9 63.4L67.6 65.6L67.8 67.5L70.3 68.2L72.1 67.8L72.1 66.1ZM40.6 72.6L37.8 71.6L36.2 72.0L36.1 75.0L39.1 76.5L40.9 74.1ZM46.2 76.4L48.6 75.6L48.6 73.0L46.6 72.1L45.7 72.4L45.1 75.0ZM86.9 79.8L85.9 77.3L83.0 77.8L82.9 82.1L85.3 82.5L85.7 82.2ZM56.3 88.5L58.9 89.3L60.5 87.9L60.1 86.1L58.5 84.8L56.6 86.0ZM67.8 93.8L66.1 92.0L63.4 92.9L64.8 96.1L65.6 96.4L67.1 95.3Z"/>
<path fill="#0e0808" d="M61.8 1.5L61.9 1.6L64.9 1.7L66.1 0.8L66.1 0.0L61.5 0.0ZM82.7 20.3L79.5 18.4L77.6 19.5L77.8 21.2L79.5 22.6L82.5 22.2ZM80.1 33.0L82.3 34.6L84.4 32.5L84.4 30.3L81.3 30.0L80.2 30.8ZM86.5 34.1L84.4 32.5L82.3 34.6L82.6 35.9L84.0 37.2L85.9 36.0ZM90.4 36.0L88.9 37.3L88.6 39.8L89.2 40.5L92.8 40.5L91.3 36.4ZM88.8 50.6L88.6 50.6L88.1 53.3L90.1 54.9L92.5 53.5L91.9 51.1ZM93.9 57.5L96.1 59.0L98.8 57.7L97.9 55.0L96.0 54.1L94.4 54.5ZM103.1 73.7L103.0 72.5L101.5 71.2L100.1 72.2L99.3 74.0L100.9 75.8Z"/>
<path fill="#171010" d="M66.1 0.8L66.2 0.9L70.5 1.0L70.7 0.0L66.1 0.0ZM77.9 8.6L78.2 8.2L77.6 4.6L76.4 3.6L74.1 4.6L74.4 8.3ZM82.8 22.4L86.1 21.8L87.3 19.0L87.2 18.9L84.4 17.9L82.7 20.3L82.5 22.2ZM90.1 33.6L90.0 33.4L88.5 33.0L86.5 34.1L85.9 36.0L88.9 37.3L90.4 36.0ZM94.5 63.0L96.2 64.1L98.3 61.6L95.9 60.1L94.5 62.0ZM105.3 77.8L104.2 78.1L103.0 80.9L105.3 83.0L107.5 80.8L107.3 79.5Z"/>
<path fill="#0a0505" d="M70.5 1.0L71.2 2.2L74.6 0.2L74.7 0.0L70.7 0.0ZM72.3 10.3L74.2 11.4L75.4 11.4L77.9 8.7L77.9 8.6L74.4 8.3L72.3 9.7ZM77.6 13.7L79.0 11.4L77.9 8.7L75.4 11.4ZM79.5 22.6L78.9 25.5L79.1 25.9L81.2 26.8L83.6 25.3L82.8 22.4L82.5 22.2ZM103.0 72.5L106.0 71.0L105.9 68.4L103.0 67.7L101.5 68.9L101.5 71.2ZM105.9 75.5L103.1 73.7L100.9 75.8L100.9 77.0L104.2 78.1L105.3 77.8Z"/>
<path fill="#641212" d="M76.3 3.3L78.2 0.8L77.9 0.0L74.7 0.0L74.6 0.2ZM109.7 0.6L112.8 0.6L113.2 0.0L109.4 0.0ZM112.8 0.6L114.2 2.4L117.9 0.7L117.7 0.0L113.2 0.0ZM91.4 4.3L92.9 5.4L96.1 4.5L95.8 1.2L94.4 0.9L91.3 2.8ZM114.1 4.9L114.2 2.4L112.8 0.6L109.7 0.6L109.5 0.9L112.8 5.8ZM82.7 4.7L80.7 3.7L77.6 4.6L78.2 8.2L82.4 7.7ZM99.5 8.9L102.1 6.6L101.8 5.1L99.0 4.3L97.0 5.0L97.6 8.5ZM92.3 8.8L90.1 8.7L88.1 9.9L88.1 10.1L89.4 12.4L91.8 11.5ZM118.0 8.5L118.2 9.6L118.2 8.5ZM105.2 14.6L106.3 12.3L102.8 11.1L101.2 11.8L101.0 12.4L101.5 15.1ZM118.2 12.9L118.2 12.6L114.5 11.5L113.2 13.1L113.4 13.9L114.7 15.2L117.9 14.5ZM99.8 16.8L99.7 17.7L100.5 18.8L105.0 19.6L105.3 19.2L101.4 15.2ZM109.1 15.5L106.6 17.2L106.2 18.8L109.4 20.4L111.3 18.5L110.7 16.3ZM92.5 21.1L95.7 22.8L97.0 21.4L97.0 19.8L94.8 18.2L92.1 19.8ZM85.7 26.5L85.6 29.4L87.0 30.1L90.6 28.9L90.1 26.2L87.5 25.4ZM90.1 26.2L90.6 28.9L91.5 29.8L94.1 29.9L93.2 25.4L91.5 25.2ZM112.5 29.3L114.2 26.2L111.1 25.9L109.5 27.6L111.3 29.4ZM116.4 39.4L116.2 39.3L114.0 40.5L113.8 43.5L115.2 44.1L117.4 42.7ZM93.0 48.2L96.8 46.4L95.7 43.7L93.9 43.0L93.6 43.4L92.2 46.8ZM117.4 42.7L115.2 44.1L116.0 45.7L117.8 46.8L118.2 46.7L118.2 42.9ZM96.9 50.4L96.0 54.1L97.9 55.0L100.1 53.6L99.6 51.5L97.2 50.2ZM106.7 50.5L105.4 50.1L104.3 51.0L104.1 51.6L105.1 54.7L108.5 53.6ZM112.9 57.5L114.3 57.4L116.4 56.3L116.7 55.0L114.0 52.9L112.0 52.6L111.1 54.0ZM103.3 61.2L104.4 62.2L107.6 60.2L106.0 57.4L104.9 57.1L103.5 57.9Z"/>
<path fill="#8c1a1a" d="M78.2 0.8L80.8 0.3L81.0 0.0L77.9 0.0ZM100.7 0.6L100.9 0.0L98.1 0.0L99.7 0.8ZM104.5 0.5L107.7 2.8L109.5 0.9L109.7 0.6L109.4 0.0L104.5 0.0ZM87.2 1.9L85.4 0.4L84.4 0.8L83.3 4.3L87.0 5.0ZM112.8 5.8L109.5 0.9L107.7 2.8L107.6 3.4L109.2 5.5L112.7 5.9ZM97.6 8.5L97.0 5.0L96.1 4.5L92.9 5.4L92.7 8.5L95.9 9.9ZM107.8 8.8L109.2 5.5L107.6 3.4L106.3 4.2L105.4 7.7L107.3 9.0ZM118.0 8.5L117.8 8.4L114.6 9.9L114.5 11.5L118.2 12.6L118.2 9.6ZM89.4 12.4L88.1 10.1L85.3 13.0L85.7 14.1L88.4 14.5L89.1 14.2ZM108.7 13.2L106.7 12.1L106.3 12.3L105.2 14.6L106.6 17.2L109.1 15.5ZM117.9 14.5L118.2 14.9L118.2 12.9ZM91.2 15.5L90.7 19.0L92.1 19.8L94.8 18.2L94.8 16.7L93.0 14.9ZM91.5 29.8L90.6 28.9L87.0 30.1L88.5 33.0L90.0 33.4ZM116.6 34.1L118.2 32.7L118.2 30.9L117.9 30.0L117.6 29.8L114.6 30.7L114.0 32.8ZM101.3 35.0L101.4 34.7L99.0 31.8L97.6 32.8L97.7 36.4L99.1 37.3ZM98.5 39.5L94.1 40.2L93.5 40.8L93.9 43.0L95.7 43.7L97.4 43.0ZM103.2 43.6L105.3 42.7L105.9 41.5L103.6 38.8L101.2 40.1L101.8 42.4ZM99.9 47.3L103.1 45.5L103.2 43.6L101.8 42.4L99.1 43.6L99.4 47.3ZM108.1 45.6L109.2 46.3L111.6 46.1L112.5 44.1L109.9 42.3L107.9 44.6ZM104.3 51.0L105.4 50.1L105.3 47.8L103.1 45.5L99.9 47.3L101.6 50.0ZM100.1 53.6L101.4 53.8L104.1 51.6L104.3 51.0L101.6 50.0L99.6 51.5ZM108.5 53.6L105.1 54.7L104.9 57.1L106.0 57.4L108.1 56.7L109.4 54.3ZM116.4 56.3L118.2 58.0L118.2 53.5L116.7 55.0ZM107.6 60.2L104.4 62.2L104.7 62.8L107.8 64.5L107.9 64.4L109.2 60.9ZM108.5 67.9L107.5 67.4L105.9 68.4L106.0 71.0L106.2 71.2L109.5 71.3Z"/>
<path fill="#9a1c1c" d="M84.4 0.8L85.4 0.4L85.5 0.0L82.5 0.0ZM85.4 0.4L87.2 1.9L90.1 1.0L90.2 0.0L85.5 0.0ZM114.6 9.9L112.5 7.9L110.6 9.4L111.0 12.1L113.2 13.1L114.5 11.5ZM94.8 16.7L97.3 15.4L96.6 12.7L95.9 12.1L93.8 13.2L93.0 14.9ZM89.0 19.4L89.1 22.1L91.4 23.0L92.5 21.1L92.1 19.8L90.7 19.0ZM106.2 18.8L105.3 19.2L105.0 19.6L104.2 21.8L104.4 22.2L107.1 24.6L109.7 22.3L109.4 20.4ZM116.1 19.0L118.2 21.7L118.2 17.7ZM95.6 24.4L96.8 25.7L100.3 24.5L100.5 22.8L97.0 21.4L95.7 22.8ZM104.4 22.2L103.1 25.3L106.4 26.3L107.0 26.0L107.1 24.6ZM95.1 36.2L97.7 36.4L97.6 32.8L94.7 32.7L94.4 33.3L94.7 35.9ZM116.6 34.1L116.4 35.5L118.2 36.2L118.2 32.7ZM109.7 41.5L111.5 39.0L111.1 37.5L109.0 36.9L107.0 37.7L107.1 40.5ZM112.6 35.9L111.1 37.5L111.5 39.0L114.0 40.5L116.2 39.3L115.3 36.6ZM103.2 43.6L103.1 45.5L105.3 47.8L108.1 45.6L107.9 44.6L105.3 42.7ZM112.8 48.7L111.6 46.1L109.2 46.3L109.1 49.7L111.6 50.3ZM118.1 71.1L117.6 72.1L118.2 73.2L118.2 71.1ZM111.5 79.0L112.6 77.8L112.2 75.6L110.1 74.6L109.1 78.3ZM116.6 83.3L118.2 81.3L118.2 78.4L117.0 77.8L115.0 78.9L114.5 81.0Z"/>
<path fill="#300808" d="M90.1 1.0L91.3 2.8L94.4 0.9L93.7 0.0L90.2 0.0ZM95.8 1.2L96.1 4.5L97.0 5.0L99.0 4.3L99.7 0.8L98.1 0.0L96.9 0.0ZM116.7 5.5L117.8 8.4L118.0 8.5L118.2 8.5L118.2 4.2ZM108.7 13.2L111.0 12.1L110.6 9.4L107.8 8.8L107.3 9.0L106.7 12.1ZM113.4 13.9L113.2 13.1L111.0 12.1L108.7 13.2L109.1 15.5L110.7 16.3ZM91.5 25.2L93.2 25.4L95.6 24.4L95.7 22.8L92.5 21.1L91.4 23.0ZM101.5 26.1L100.3 24.5L96.8 25.7L97.1 28.5L99.3 29.7L101.5 28.8ZM94.4 33.3L94.7 32.7L94.2 29.9L94.1 29.9L91.5 29.8L90.0 33.4L90.1 33.6ZM111.3 29.4L109.5 27.6L108.4 27.4L107.0 30.6L107.1 32.3L108.3 32.7L110.2 32.2ZM117.9 30.0L118.2 30.9L118.2 29.8ZM92.8 40.5L93.5 40.8L94.1 40.2L95.1 36.2L94.7 35.9L91.3 36.4ZM101.2 40.1L103.6 38.8L104.3 37.7L101.3 35.0L99.1 37.3L99.4 38.8ZM113.4 48.7L116.0 45.7L115.2 44.1L113.8 43.5L112.5 44.1L111.6 46.1L112.8 48.7ZM114.0 52.9L116.2 50.2L116.0 49.8L113.4 48.7L112.8 48.7L111.6 50.3L112.0 52.6ZM98.8 57.7L98.8 57.7L102.8 57.5L101.4 53.8L100.1 53.6L97.9 55.0ZM111.2 59.5L108.1 56.7L106.0 57.4L107.6 60.2L109.2 60.9L111.1 59.9ZM109.2 60.9L107.9 64.4L112.2 64.4L113.3 63.8L113.2 62.7L111.1 59.9ZM117.3 68.3L117.6 68.7L118.2 68.7L118.2 67.3ZM117.6 68.7L118.1 71.1L118.2 71.1L118.2 68.7Z"/>
<path fill="#4a0e0e" d="M95.8 1.2L96.9 0.0L93.7 0.0L94.4 0.9ZM117.9 0.7L118.2 1.0L118.2 0.0L117.7 0.0ZM102.7 2.1L102.9 3.6L106.3 4.2L107.6 3.4L107.7 2.8L104.5 0.5ZM87.0 5.0L83.3 4.3L82.7 4.7L82.4 7.7L83.6 9.2L86.3 8.5L87.2 5.3ZM92.7 8.5L92.9 5.4L91.4 4.3L89.2 5.3L90.1 8.7L92.3 8.8ZM95.9 12.1L95.9 9.9L92.7 8.5L92.3 8.8L91.8 11.5L93.8 13.2ZM89.1 14.2L88.4 14.5L87.2 18.9L87.3 19.0L89.0 19.4L90.7 19.0L91.2 15.5ZM106.6 17.2L105.2 14.6L101.5 15.1L101.4 15.2L105.3 19.2L106.2 18.8ZM111.3 18.5L114.6 19.0L114.8 18.9L114.7 15.2L113.4 13.9L110.7 16.3ZM115.1 24.4L115.3 25.4L116.4 26.2L118.2 25.5L118.2 21.7ZM108.4 27.4L107.0 26.0L106.4 26.3L104.2 28.5L107.0 30.6ZM108.3 32.7L107.1 32.3L105.2 33.1L105.8 37.2L107.0 37.7L109.0 36.9ZM117.8 46.8L116.0 49.8L116.2 50.2L118.2 51.5L118.2 46.7ZM109.9 74.5L110.5 72.2L109.5 71.3L106.2 71.2L107.2 74.5ZM116.6 83.3L116.5 83.8L117.8 84.9L118.2 84.8L118.2 81.3Z"/>
<path fill="#200505" d="M13.3 1.8L14.3 3.9L16.4 4.9L16.7 4.8L17.2 1.0L15.6 0.6ZM19.4 4.9L20.6 8.2L24.2 6.9L24.8 5.5L24.1 4.5L21.3 2.8ZM34.7 6.3L31.4 4.9L31.4 4.9L30.0 8.8L32.4 10.1L35.1 8.3ZM0.0 13.6L0.0 14.2L0.0 13.6ZM39.3 15.5L39.8 11.2L36.7 10.4L35.3 14.3L35.4 14.7L37.9 16.0ZM8.8 19.4L10.3 16.1L7.3 15.1L5.1 16.0L5.9 18.1L8.5 19.6ZM0.0 21.8L0.0 22.9L0.1 22.9ZM2.0 25.4L1.8 24.1L0.1 22.9L0.0 22.9L0.0 27.7ZM3.8 22.3L1.8 24.1L2.0 25.4L3.6 26.3L6.5 25.8L6.8 22.6ZM6.5 25.8L3.6 26.3L4.2 28.6L6.3 29.9L7.5 28.5L7.2 26.4ZM24.3 25.0L23.1 26.1L23.2 27.2L25.0 29.4L27.4 28.4L27.9 26.4ZM38.3 28.4L40.6 29.6L42.9 28.4L43.1 27.6L40.0 25.2L38.4 25.4L38.0 26.0ZM6.7 37.1L3.5 36.7L2.8 37.6L2.6 39.4L3.4 40.6L7.0 40.3ZM12.6 39.4L14.9 36.6L11.4 34.8L10.3 36.3L10.8 39.6L11.1 39.7ZM15.5 41.5L17.5 39.4L16.5 37.5L14.9 36.6L14.9 36.6L12.6 39.4ZM27.2 37.2L25.9 38.3L25.8 40.5L26.6 41.0L30.5 39.8L29.8 37.8ZM29.8 37.8L30.5 39.8L30.9 40.2L34.1 39.0L32.8 36.4L30.9 36.3ZM31.2 42.6L30.9 40.2L30.5 39.8L26.6 41.0L27.7 43.1L29.3 43.4ZM14.8 47.6L13.7 46.9L11.2 48.2L12.0 50.6L13.8 52.3L15.5 49.2ZM20.8 46.3L19.9 46.9L19.3 50.0L19.5 50.3L20.4 50.6L22.9 49.9L24.1 47.7ZM24.1 47.7L22.9 49.9L25.3 52.4L27.2 48.4L26.9 47.7L25.6 46.9ZM31.8 50.1L32.8 53.3L34.6 53.7L36.2 52.9L37.0 51.0L35.6 48.9L31.8 50.1ZM23.9 53.9L21.5 53.5L19.4 56.2L19.6 57.2L21.8 57.9L22.3 57.7ZM0.0 60.2L0.0 63.6L2.7 64.7L3.0 64.5L3.1 60.4L1.7 59.2ZM14.4 61.6L15.8 64.2L17.7 64.2L19.1 62.7L19.2 62.4L17.6 59.1L17.6 59.1L14.5 61.3ZM22.3 61.0L19.2 62.4L19.1 62.7L22.4 65.2L23.6 61.8ZM22.4 65.3L21.5 67.7L22.4 68.7L26.0 67.7L25.8 65.4ZM6.1 68.7L3.7 69.3L3.8 71.2L5.5 73.3L7.9 70.1L7.8 69.8ZM26.1 71.2L22.8 70.8L22.1 72.1L22.5 74.7L23.0 75.1L26.5 74.7ZM26.9 70.3L26.1 71.2L26.5 74.7L27.3 75.1L29.5 74.5L29.7 71.5ZM36.2 72.0L35.2 71.4L34.1 71.6L31.2 75.3L31.8 76.2L35.9 75.2L36.1 75.0ZM29.5 74.5L27.3 75.1L27.2 78.3L29.0 79.9L31.8 78.2L31.9 78.0L31.8 76.2L31.2 75.3ZM0.5 82.1L1.0 81.8L1.7 79.7L0.2 78.8L0.0 78.8L0.0 81.9ZM0.5 82.1L0.0 81.9L0.0 83.0ZM1.7 86.6L4.5 85.0L4.3 84.3L1.0 81.8L0.5 82.1L0.0 83.0L0.0 85.5ZM100.8 81.5L100.7 81.8L102.8 85.5L105.1 83.9L105.3 83.0L103.0 80.9ZM107.3 88.1L107.2 85.4L105.1 83.9L102.8 85.5L102.6 86.0L103.5 88.0L105.6 88.7ZM2.0 96.3L2.9 93.0L0.0 92.3L0.0 96.6ZM11.3 96.1L9.4 95.4L7.8 96.6L8.6 99.2L9.6 100.4L12.2 100.0ZM113.5 98.9L115.5 99.9L117.9 100.1L117.7 96.7L115.1 95.9L113.9 96.6ZM117.7 96.7L117.9 100.1L118.2 100.3L118.2 96.2ZM37.0 99.3L34.5 99.7L34.0 100.5L34.4 102.0L36.1 103.2L37.5 102.6ZM101.2 98.3L99.6 100.1L100.0 102.3L102.2 103.3L104.1 102.4L103.6 99.3L102.1 98.4ZM109.0 99.0L108.9 99.0L106.8 102.1L109.0 104.1L111.3 101.0L111.3 100.2ZM59.6 105.7L60.7 107.3L64.0 106.3L62.0 103.3L61.1 103.1L59.7 103.7ZM0.0 105.6L0.0 109.6L0.6 110.2L3.3 107.6L2.7 106.2L0.1 105.5ZM33.7 106.6L30.8 105.2L29.6 106.2L30.1 109.0L32.0 110.4L32.6 110.0ZM45.9 106.3L45.0 107.4L45.1 108.4L47.5 109.9L49.1 109.5L49.4 107.4ZM81.9 105.3L79.5 107.7L79.5 109.6L81.8 110.7L83.3 109.8L84.0 107.3ZM95.9 110.5L98.2 112.0L99.7 111.1L98.8 106.7L98.0 106.3L97.3 106.8ZM47.5 109.9L46.6 112.6L47.9 114.0L50.8 112.9L50.5 110.4L49.1 109.5ZM61.6 110.7L61.4 113.1L65.2 113.6L65.7 110.4L64.9 109.8ZM69.4 112.5L71.8 113.0L73.1 112.1L73.3 111.2L71.8 110.1L68.9 111.3ZM77.4 110.8L75.3 109.6L73.3 111.2L73.1 112.1L75.2 114.3L77.6 113.1ZM79.5 109.6L77.4 110.8L77.6 113.1L80.0 114.9L81.6 113.3L81.8 110.7ZM25.3 114.3L23.3 111.6L21.3 115.1L25.1 115.1ZM94.6 114.4L94.7 115.1L98.9 115.1L98.2 112.7Z"/>
<path fill="#641313" d="M36.7 4.2L36.7 3.2L35.1 1.4L32.3 1.4L31.4 4.9L34.7 6.3ZM43.6 1.4L40.6 1.4L40.9 4.2L43.1 4.4L44.5 3.3L44.6 3.2ZM0.0 13.6L1.4 11.2L1.0 9.2L0.4 8.6L0.0 8.6L0.0 13.6ZM28.7 12.3L31.1 12.8L32.1 12.3L32.4 10.1L30.0 8.8L28.5 9.2L28.4 9.4ZM5.2 11.7L1.4 11.2L0.0 13.6L0.0 14.2L0.0 14.4L1.9 15.8L4.7 15.7ZM28.4 12.6L24.0 12.1L23.6 12.4L23.6 13.4L27.1 16.0L27.7 15.7ZM74.2 11.4L72.3 10.3L71.0 12.7L71.6 14.9L72.4 15.8L74.7 15.6ZM0.0 14.4L0.0 19.9L1.4 18.8L1.9 15.8ZM1.4 18.8L0.0 19.9L0.0 21.8L0.1 22.9L1.8 24.1L3.8 22.3L3.7 20.1ZM10.4 23.8L13.4 21.8L12.5 20.0L8.8 19.4L8.5 19.6L8.2 21.7ZM35.1 21.9L34.9 19.2L32.9 17.2L31.3 19.1L32.9 22.8L32.9 22.8ZM37.9 21.4L38.1 18.6L37.8 17.4L34.9 19.2L35.1 21.9L37.2 22.1ZM27.4 28.4L29.9 30.1L31.9 29.0L31.6 27.4L28.7 25.8L27.9 26.4ZM35.5 26.2L33.9 29.2L37.9 28.7L38.3 28.4L38.0 26.0ZM10.8 28.9L9.3 32.4L11.3 34.1L13.1 32.4L13.4 30.8L11.4 28.6ZM28.7 32.8L29.9 30.1L27.4 28.4L25.0 29.4L24.8 32.5L24.9 32.6L26.6 33.3ZM37.9 28.7L36.7 32.6L39.5 33.6L40.6 32.9L40.6 29.6L38.3 28.4ZM0.0 32.9L0.0 35.1L1.9 32.7L1.9 32.6ZM14.9 36.6L15.8 33.7L13.1 32.4L11.3 34.1L11.4 34.8L14.9 36.6ZM34.2 32.4L30.3 33.9L30.9 36.3L32.8 36.4L34.7 34.7L34.9 32.9ZM32.8 36.4L34.1 39.0L35.8 39.5L36.7 37.2L34.7 34.7ZM9.5 52.8L12.1 53.9L13.8 52.4L13.8 52.3L12.0 50.6L8.9 50.9ZM12.1 69.1L13.9 67.7L13.7 66.7L11.7 65.1L9.0 65.5L9.2 67.2ZM7.9 70.1L9.7 70.9L11.5 70.2L12.1 69.1L9.2 67.2L7.8 69.8ZM0.2 78.8L0.0 77.6L0.0 78.8ZM100.9 75.8L99.3 74.0L96.7 74.1L96.4 75.0L98.7 78.2L99.6 78.2L100.9 77.0ZM99.6 78.2L98.7 78.2L96.4 79.7L96.4 81.0L98.6 82.8L100.7 81.8L100.8 81.5ZM31.8 85.2L31.7 83.5L29.0 81.0L27.1 82.6L28.0 85.0L29.9 86.5L31.6 85.4ZM10.3 87.7L8.4 84.7L4.9 85.2L5.8 87.9L7.8 89.5L10.3 88.9L10.4 88.8ZM41.6 86.5L41.6 88.4L42.7 89.9L45.8 89.9L45.3 85.9L42.5 85.8ZM33.4 93.0L36.0 91.5L35.6 88.8L33.9 88.5L31.8 90.9L32.0 92.3ZM9.4 95.4L9.6 94.0L6.5 91.7L5.0 92.7L6.6 96.4L7.8 96.6ZM29.7 93.2L27.1 92.6L26.5 92.9L25.5 95.8L28.2 97.6L30.0 96.8ZM31.3 97.2L34.0 95.7L33.4 93.0L32.0 92.3L29.7 93.2L30.0 96.8ZM45.8 96.5L49.4 96.4L47.4 92.4L47.0 92.2L45.1 94.5L44.8 95.3ZM31.9 99.8L34.0 100.5L34.5 99.7L34.5 96.0L34.0 95.7L31.3 97.2ZM41.1 95.2L38.7 97.9L40.3 99.4L42.4 98.4L43.4 95.9ZM99.8 96.1L97.5 96.9L97.0 100.0L99.6 100.1L101.2 98.3ZM18.4 100.2L18.8 102.4L19.6 103.4L20.8 103.0L23.2 99.4L23.1 99.1L19.7 99.0ZM38.3 97.8L37.0 99.3L37.5 102.6L39.3 102.5L40.3 102.0L40.3 99.4L38.7 97.9ZM42.4 98.4L40.3 99.4L40.3 102.0L42.8 102.9L44.7 102.1L44.8 100.7ZM0.1 105.5L0.0 104.3L0.0 105.6ZM2.7 106.2L5.0 103.3L2.0 102.3L0.0 103.0L0.0 104.3L0.1 105.5ZM5.2 103.3L5.0 103.3L2.7 106.2L3.3 107.6L5.3 108.7L7.5 106.3L6.9 103.9ZM35.7 106.2L36.1 103.2L34.4 102.0L30.9 104.3L30.8 105.2L33.7 106.6ZM44.7 102.1L42.8 102.9L42.5 105.8L45.0 107.4L45.9 106.3L46.8 103.3ZM45.9 106.3L49.4 107.4L50.7 105.4L50.6 104.6L48.1 103.2L46.8 103.3ZM55.7 107.2L55.4 103.9L51.7 103.8L50.6 104.6L50.7 105.4L52.7 107.3ZM86.8 106.8L87.6 106.9L89.0 104.2L86.7 102.1L85.5 103.6ZM115.8 106.7L116.8 104.3L114.7 103.2L112.9 103.5L112.6 105.3ZM116.8 104.3L115.8 106.7L115.9 107.1L118.2 107.1L118.2 103.5ZM29.6 106.2L29.1 106.1L25.3 108.5L25.1 109.5L27.3 110.7L30.1 109.0ZM93.0 109.7L92.4 107.8L88.2 107.8L88.2 109.3L89.0 110.7ZM55.2 110.7L55.0 113.0L56.0 114.1L58.4 113.1L58.9 109.8L56.4 109.1ZM68.4 115.0L65.4 114.2L64.9 115.1L68.4 115.1Z"/>
<path fill="#55d845" d="M54.7 5.1L56.0 2.7L54.7 1.4L51.1 4.6L51.4 5.5ZM48.9 16.7L49.2 17.8L51.1 19.3L52.3 18.6L54.0 15.5L51.1 13.7ZM72.4 15.8L71.6 14.9L66.8 16.0L67.5 17.9L71.4 18.5ZM51.0 19.9L52.7 21.9L55.2 22.1L54.9 19.8L52.3 18.6L51.1 19.3ZM105.0 19.6L100.5 18.8L101.1 22.2L104.2 21.8ZM46.2 25.4L49.8 25.5L49.6 21.6L47.6 21.5L45.2 24.7L45.3 25.0ZM46.9 29.8L48.1 30.0L50.6 27.9L50.9 26.4L49.8 25.5L46.2 25.4ZM57.1 26.5L55.5 25.5L54.0 26.0L54.4 29.2L56.6 30.3L57.3 29.3ZM74.7 26.3L75.1 29.2L75.5 29.5L76.9 29.3L79.1 25.9L78.9 25.5L75.7 24.9ZM4.2 28.6L1.3 31.3L1.9 32.6L1.9 32.7L3.0 33.2L6.5 32.4L6.3 29.9ZM22.2 36.8L24.9 32.6L24.8 32.5L21.4 31.8L19.1 32.9L19.5 34.7L22.2 36.8ZM46.9 42.7L46.9 41.9L45.0 39.4L42.2 39.3L42.1 42.2L44.9 44.4ZM63.1 43.1L60.0 44.2L59.7 46.9L63.3 47.1L64.1 45.8L63.6 43.3ZM41.3 50.4L40.8 50.6L41.1 54.0L42.1 54.8L44.5 53.6L45.5 50.7ZM19.6 57.2L17.6 59.1L19.2 62.4L22.3 61.0L21.8 57.9ZM50.6 56.7L49.2 57.7L49.2 61.6L51.0 62.8L53.0 61.3L53.1 61.3L53.2 57.8ZM87.8 58.3L87.8 59.6L89.6 62.8L89.9 62.9L92.3 59.6L92.2 58.6L89.4 57.5ZM87.8 63.7L86.1 63.7L85.0 64.9L85.2 67.5L85.5 67.8L87.6 67.4ZM37.8 71.6L38.8 68.4L36.7 67.1L34.8 68.7L35.2 71.4L36.2 72.0ZM46.0 78.2L46.2 76.4L45.1 75.0L42.8 75.6L42.4 78.8L45.0 79.9ZM60.3 74.2L58.2 74.1L58.3 77.4L60.8 78.4L61.9 77.4L61.9 77.0ZM91.2 79.9L93.4 77.6L93.4 77.4L91.7 74.8L88.5 74.5L88.3 75.0L90.3 79.5ZM96.4 79.7L98.7 78.2L96.4 75.0L93.4 77.4L93.4 77.6ZM116.8 76.9L117.0 77.8L118.2 78.4L118.2 75.0ZM73.2 82.9L75.7 80.7L75.9 79.8L73.4 77.9L72.9 78.1L72.1 82.6ZM91.5 81.7L93.4 83.6L96.4 81.0L96.4 79.7L93.4 77.6L91.2 79.9ZM88.9 84.8L91.4 86.7L93.5 83.9L93.4 83.6L91.5 81.7L88.6 83.4ZM46.6 90.6L48.6 88.8L48.0 85.6L46.6 84.9L45.3 85.9L45.8 89.9ZM84.3 86.3L83.6 88.0L86.5 89.5L87.4 88.6L86.9 86.7L85.6 85.6ZM105.6 91.8L105.6 88.7L103.5 88.0L102.0 90.2L102.2 92.7L102.8 92.9ZM76.9 95.2L77.2 95.5L79.8 95.1L80.6 92.0L77.5 92.2L76.6 94.0ZM93.7 97.8L90.0 95.8L89.5 96.0L89.3 96.3L88.5 99.0L91.2 101.1L93.9 99.2ZM89.0 104.2L91.1 103.1L91.2 101.1L88.5 99.0L86.2 99.9L86.7 102.1ZM93.9 99.2L91.2 101.1L91.1 103.1L92.7 104.4L96.0 102.7L95.9 100.4ZM73.6 103.1L70.8 103.8L70.2 107.0L71.1 107.5L75.1 107.4L75.5 106.5ZM81.6 113.3L84.7 113.9L85.7 113.0L85.3 111.3L83.3 109.8L81.8 110.7ZM104.2 113.6L103.2 114.2L103.3 115.1L106.7 115.1Z"/>
<path fill="#5c1111" d="M56.9 2.9L59.1 5.6L60.9 5.0L61.9 1.6L61.8 1.5L58.5 1.5ZM55.9 22.9L57.9 21.8L58.1 19.8L57.3 18.5L54.9 19.8L55.2 22.1ZM71.4 18.5L67.5 17.9L66.9 19.6L67.3 21.2L70.4 21.4L71.7 19.5ZM64.0 22.3L65.0 26.2L65.8 26.3L67.4 24.6L66.9 21.9ZM48.8 32.4L48.1 30.0L46.9 29.8L44.9 30.4L44.3 33.1L47.4 34.2ZM51.9 32.8L52.5 32.3L52.2 30.5L50.6 27.9L48.1 30.0L48.8 32.4ZM61.8 29.7L61.5 29.9L60.9 32.5L62.1 33.4L65.0 33.6L65.6 32.8L63.9 30.4ZM62.2 35.7L62.1 33.4L60.9 32.5L58.7 33.7L58.4 35.2L60.2 36.6ZM87.9 45.4L87.8 44.7L84.9 42.7L83.1 43.8L83.8 47.4L85.8 47.8ZM48.0 53.3L50.6 55.7L51.7 53.8L52.1 51.2L50.7 50.6L47.9 51.8ZM60.9 61.1L65.0 59.7L65.0 58.3L62.3 56.4L59.9 58.7L60.9 61.1ZM77.9 62.8L77.9 62.3L75.5 60.2L72.7 60.3L72.4 61.1L74.3 63.6L76.8 63.9ZM71.9 74.3L74.1 76.0L76.3 74.2L76.0 72.9L73.6 71.2L71.9 72.4ZM46.0 78.2L50.0 78.3L50.9 77.3L50.9 77.2L48.6 75.6L46.2 76.4ZM52.2 78.6L55.8 78.6L56.0 78.1L54.7 75.0L52.9 74.8L50.9 77.2L50.9 77.3ZM86.1 76.9L84.2 74.6L81.9 76.2L81.9 77.1L83.0 77.8L85.9 77.3ZM51.3 82.5L52.8 81.7L52.2 78.6L50.9 77.3L50.0 78.3L49.3 81.2ZM58.5 84.8L58.0 82.1L56.1 81.4L55.1 81.9L54.5 85.2L56.6 86.0ZM77.7 84.7L76.2 86.0L76.2 88.4L76.8 88.9L81.2 89.0L81.4 88.7L81.1 86.8ZM76.6 94.0L77.5 92.2L76.8 88.9L76.2 88.4L74.1 89.5L73.7 92.6ZM81.7 104.4L82.8 103.5L84.4 100.0L81.7 98.7L79.1 100.1L79.8 103.1ZM62.0 103.3L64.0 106.3L64.3 106.4L65.9 105.4L66.4 104.1L65.1 101.1Z"/>
<path fill="#221a1a" d="M66.2 0.9L66.1 0.8L64.9 1.7L64.8 4.2L66.9 6.3L68.3 4.1ZM71.4 4.1L71.2 2.2L70.5 1.0L66.2 0.9L68.3 4.1ZM74.4 8.3L74.1 4.6L71.6 4.3L70.5 8.2L72.3 9.7ZM75.5 15.7L77.5 14.2L77.6 13.7L75.4 11.4L74.2 11.4L74.7 15.6ZM92.2 58.6L93.9 57.5L94.4 54.5L92.5 53.5L90.1 54.9L89.4 57.5ZM98.4 65.3L100.3 64.3L100.8 62.2L99.4 61.3L98.3 61.6L96.2 64.1L96.3 64.3ZM98.7 68.3L98.4 65.3L96.3 64.3L94.8 67.9L96.9 69.4ZM101.5 68.9L103.0 67.7L102.8 66.6L100.3 64.3L98.4 65.3L98.7 68.3ZM107.2 74.5L106.2 71.2L106.0 71.0L103.0 72.5L103.1 73.7L105.9 75.5ZM110.1 74.6L109.9 74.5L107.2 74.5L105.9 75.5L105.3 77.8L107.3 79.5L109.1 78.3ZM107.3 79.5L107.5 80.8L109.3 81.9L111.5 81.1L111.5 79.0L109.1 78.3ZM118.0 88.0L116.6 89.0L117.1 92.5L118.2 92.9L118.2 88.1Z"/>
<path fill="#2c2424" d="M71.6 4.3L74.1 4.6L76.4 3.6L76.3 3.3L74.6 0.2L71.2 2.2L71.4 4.1ZM77.5 14.2L80.6 15.9L81.7 15.5L81.8 11.9L79.0 11.4L77.6 13.7ZM79.5 18.4L80.6 15.9L77.5 14.2L75.5 15.7L76.5 18.5L77.6 19.5ZM83.6 25.3L85.7 26.5L87.5 25.4L87.6 23.9L86.1 21.8L82.8 22.4ZM81.3 30.0L84.4 30.3L85.6 29.4L85.7 26.5L83.6 25.3L81.2 26.8ZM87.0 30.1L85.6 29.4L84.4 30.3L84.4 32.5L86.5 34.1L88.5 33.0ZM88.6 39.8L88.9 37.3L85.9 36.0L84.0 37.2L84.0 38.9L85.0 40.1ZM93.6 43.4L93.9 43.0L93.5 40.8L92.8 40.5L89.2 40.5L88.7 43.5ZM92.2 46.8L93.6 43.4L88.7 43.5L87.8 44.7L87.9 45.4L90.3 46.7ZM87.9 45.4L85.8 47.8L86.4 49.5L88.6 50.6L88.8 50.6L90.3 46.7ZM96.8 70.4L100.1 72.2L101.5 71.2L101.5 68.9L98.7 68.3L96.9 69.4ZM109.6 89.1L109.7 89.3L112.5 90.1L114.3 88.5L113.6 85.4L112.8 85.1L111.1 85.4Z"/>
<path fill="#38c030" d="M87.2 1.9L87.0 5.0L87.2 5.3L89.2 5.3L91.4 4.3L91.3 2.8L90.1 1.0ZM16.4 4.9L15.9 7.0L17.5 9.5L20.3 8.9L20.6 8.2L19.4 4.9L16.7 4.8ZM55.7 11.0L59.8 10.9L60.1 10.6L58.6 6.8L55.6 7.6L55.4 7.9ZM70.5 8.2L68.8 8.3L66.7 12.2L71.0 12.7L72.3 10.3L72.3 9.7ZM55.1 15.1L57.3 16.1L59.0 15.5L59.8 10.9L55.7 11.0L55.5 11.2ZM66.2 12.4L64.9 11.7L63.0 11.7L61.7 16.3L64.2 16.3L66.3 15.4ZM52.3 18.6L54.9 19.8L57.3 18.5L57.3 16.1L55.1 15.1L54.0 15.5ZM27.1 20.8L26.9 21.7L28.9 23.3L32.9 22.8L31.3 19.1L30.3 19.0ZM67.3 21.2L66.9 19.6L64.4 19.4L62.4 20.6L62.4 21.6L64.0 22.3L66.9 21.9ZM25.4 22.5L22.4 20.9L20.5 22.7L21.3 25.1L23.1 26.1L24.3 25.0ZM33.1 24.4L31.6 27.4L31.9 29.0L33.1 29.7L33.9 29.2L35.5 26.2ZM65.8 26.3L65.0 26.2L62.1 26.9L61.8 29.7L63.9 30.4L67.1 28.5ZM23.2 27.2L21.1 29.0L21.4 31.8L24.8 32.5L25.0 29.4ZM50.0 39.4L46.9 41.9L46.9 42.7L47.6 43.2L51.4 43.1L50.3 39.5ZM54.6 41.3L54.0 43.4L55.9 44.5L58.9 43.4L58.1 40.4L56.4 39.6ZM109.9 42.3L112.5 44.1L113.8 43.5L114.0 40.5L111.5 39.0L109.7 41.5ZM40.5 45.5L39.4 47.6L40.8 50.6L40.8 50.6L41.3 50.4L43.6 46.2ZM70.8 47.4L69.9 50.0L72.9 50.9L74.4 49.7L74.0 48.1L72.2 47.2ZM68.4 50.9L66.9 49.8L64.5 50.7L64.5 53.3L67.2 55.1L68.7 54.1L69.2 53.4ZM79.2 51.0L80.4 53.9L82.3 54.4L84.3 53.9L84.4 52.3L81.3 49.2ZM51.0 63.5L51.0 62.8L49.2 61.6L47.1 62.1L46.3 63.3L47.7 66.3ZM64.0 64.4L65.2 63.8L66.1 61.1L65.0 59.7L60.9 61.1L61.9 63.6ZM70.0 62.4L68.0 61.0L66.1 61.1L65.2 63.8L67.6 65.6L69.9 63.4ZM82.9 61.8L79.5 59.5L77.9 62.3L77.9 62.8L81.1 64.2L82.3 63.4ZM38.8 68.4L40.1 67.5L40.3 65.4L38.5 63.7L36.7 64.6L36.7 67.1ZM115.5 67.5L115.0 65.0L113.3 63.8L112.2 64.4L110.8 67.9L113.0 69.6ZM116.9 63.9L115.0 65.0L115.5 67.5L117.3 68.3L118.2 67.3L118.2 64.3ZM65.5 70.8L66.0 69.0L63.6 66.9L61.4 67.7L61.5 70.6L62.3 71.4L63.8 71.6ZM9.7 74.5L6.5 75.2L7.3 79.0L10.2 79.6L11.4 78.5L11.3 75.2ZM68.7 81.0L70.3 82.9L72.1 82.6L72.9 78.1L70.0 77.8L68.6 80.6ZM95.9 85.6L98.3 84.5L98.6 82.8L96.4 81.0L93.4 83.6L93.5 83.9ZM20.2 90.2L21.8 89.0L21.5 86.9L20.0 85.8L17.7 86.7L17.4 89.5ZM91.4 86.7L91.2 88.6L93.4 90.1L96.2 89.0L95.9 85.6L93.5 83.9ZM69.9 89.5L69.1 89.2L66.1 89.9L66.1 92.0L67.8 93.8L70.0 92.8ZM43.4 95.9L42.4 98.4L44.8 100.7L46.2 98.5L45.8 96.5L44.8 95.3ZM53.5 96.6L55.0 99.5L56.5 100.2L56.7 99.9L58.1 96.7L56.9 95.2ZM69.8 99.4L72.1 99.6L73.5 98.4L73.1 96.5L71.9 95.7L70.1 97.3ZM77.2 95.5L76.9 95.2L73.1 96.5L73.5 98.4L76.4 99.8L77.5 99.4ZM65.4 100.2L65.1 101.1L66.4 104.1L69.9 103.1L69.0 100.1L65.9 99.6ZM79.8 103.1L79.1 100.1L77.5 99.4L76.4 99.8L74.5 102.3L78.4 103.9ZM82.8 103.5L81.7 104.4L81.9 105.3L84.0 107.3L86.8 106.8L85.5 103.6ZM20.8 107.2L20.4 109.8L23.2 110.7L25.1 109.5L25.3 108.5L24.2 106.1ZM35.9 110.3L36.3 109.6L36.6 107.1L35.7 106.2L33.7 106.6L32.6 110.0ZM52.0 109.7L55.2 110.7L56.4 109.1L56.0 107.6L55.7 107.2L52.7 107.3ZM75.1 107.4L75.3 109.6L77.4 110.8L79.5 109.6L79.5 107.7L76.5 106.2L75.5 106.5ZM88.2 107.8L87.6 106.9L86.8 106.8L84.0 107.3L83.3 109.8L85.3 111.3L88.2 109.3ZM108.1 106.5L107.0 110.0L108.7 111.6L109.3 111.6L112.1 109.3L110.9 106.6L109.0 106.1ZM50.5 110.4L50.8 112.9L51.7 113.7L55.0 113.0L55.2 110.7L52.0 109.7ZM71.8 113.0L69.4 112.5L68.4 115.0L68.4 115.1L71.7 115.1Z"/>
<path fill="#3a0a0a" d="M55.4 7.9L55.6 7.6L54.7 5.1L51.4 5.5L51.1 7.0L51.7 7.9ZM66.3 15.4L64.2 16.3L64.4 19.4L66.9 19.6L67.5 17.9L66.8 16.0ZM76.5 18.5L73.2 20.2L74.3 22.3L75.5 22.8L77.8 21.2L77.6 19.5ZM68.5 29.6L70.4 28.7L70.8 24.9L67.4 24.6L65.8 26.3L67.1 28.5ZM69.5 36.5L65.5 37.0L65.0 37.4L64.9 37.7L67.3 41.3L69.5 39.6L69.5 36.5ZM51.5 39.3L50.3 39.5L51.4 43.1L53.0 44.0L54.0 43.4L54.6 41.3ZM71.0 40.8L70.1 43.5L71.9 44.2L74.1 42.8L73.3 41.1L72.7 40.7ZM67.0 42.5L63.6 43.3L64.1 45.8L67.5 47.1L68.3 46.4L68.5 44.0ZM46.4 54.6L46.4 57.4L49.2 57.7L50.6 56.7L50.6 55.7L48.0 53.3ZM62.3 56.4L62.1 54.9L60.6 54.1L57.9 54.6L57.4 57.6L59.9 58.7ZM73.5 55.3L71.8 53.1L69.2 53.4L68.7 54.1L72.1 57.8L72.2 57.8L73.7 56.3ZM68.0 61.0L69.2 58.3L67.0 56.2L65.0 58.3L65.0 59.7L66.1 61.1ZM72.1 57.8L69.2 58.3L68.0 61.0L70.0 62.4L72.4 61.1L72.7 60.3L72.2 57.8ZM40.3 65.4L43.2 64.7L43.7 63.8L42.5 60.7L40.7 60.1L38.6 62.6L38.5 63.7ZM53.0 67.1L52.9 66.5L51.0 63.5L47.7 66.3L47.5 67.4L48.2 68.2L51.0 68.8ZM76.8 67.2L78.0 68.1L80.1 68.3L81.3 67.0L81.1 64.2L77.9 62.8L76.8 63.9ZM45.7 72.4L46.6 72.1L48.2 68.2L47.5 67.4L44.6 67.5L43.0 69.7L43.0 70.8ZM71.9 72.4L73.6 71.2L73.1 68.5L72.1 67.8L70.3 68.2L69.3 72.1ZM66.1 89.9L69.1 89.2L67.5 85.8L65.9 85.6L64.6 87.2L64.1 88.5ZM58.9 89.3L58.8 92.0L60.8 93.1L62.5 92.4L63.1 88.8L60.5 87.9ZM65.6 96.4L64.8 96.1L61.2 96.6L61.5 99.2L65.4 100.2L65.9 99.6Z"/>
<path fill="#2424c0" d="M58.6 6.8L60.1 10.6L60.8 10.6L63.0 7.1L62.6 6.1L60.9 5.0L59.1 5.6ZM65.0 7.8L63.0 7.1L60.8 10.6L63.0 11.7L64.9 11.7ZM59.8 10.9L59.0 15.5L61.6 16.4L61.7 16.3L63.0 11.7L60.8 10.6L60.1 10.6ZM61.7 16.3L61.6 16.4L61.5 19.4L62.4 20.6L64.4 19.4L64.2 16.3ZM74.3 22.3L71.2 24.4L71.2 24.6L74.7 26.3L75.7 24.9L75.5 22.8ZM79.1 25.9L76.9 29.3L80.2 30.8L81.3 30.0L81.2 26.8ZM69.5 39.6L71.0 40.8L72.7 40.7L72.8 37.3L69.5 36.5ZM46.3 48.2L49.7 47.2L49.7 47.1L47.6 43.2L46.9 42.7L44.9 44.4L44.4 45.9ZM68.5 44.0L68.3 46.4L70.8 47.4L72.2 47.2L71.9 44.2L70.1 43.5ZM80.7 47.2L80.3 44.1L76.5 44.0L76.4 44.9L78.2 47.0ZM47.9 51.8L50.7 50.6L49.7 47.2L46.3 48.2L45.9 50.5ZM55.5 63.4L52.9 66.5L53.0 67.1L54.9 67.9L57.0 67.3L57.1 63.3ZM43.0 70.8L43.0 69.7L40.1 67.5L38.8 68.4L37.8 71.6L40.6 72.6ZM90.4 67.9L87.6 67.4L85.5 67.8L84.9 71.4L87.9 72.8L89.6 70.6ZM73.4 77.9L75.9 79.8L78.6 78.6L78.7 78.4L77.2 74.7L76.3 74.2L74.1 76.0ZM77.2 74.7L78.7 78.4L81.9 77.1L81.9 76.2L80.9 73.7ZM74.8 85.2L76.2 86.0L77.7 84.7L78.0 84.1L75.7 80.7L73.2 82.9Z"/>
<path fill="#6a5a5a" d="M66.9 6.3L66.9 6.8L68.8 8.3L70.5 8.2L71.6 4.3L71.4 4.1L68.3 4.1ZM84.4 17.9L83.8 16.4L81.7 15.5L80.6 15.9L79.5 18.4L82.7 20.3ZM88.7 43.5L89.2 40.5L88.6 39.8L85.0 40.1L84.9 42.7L87.8 44.7ZM88.8 50.6L91.9 51.1L93.2 49.1L93.0 48.2L92.2 46.8L90.3 46.7ZM92.5 53.5L94.4 54.5L96.0 54.1L96.9 50.4L93.2 49.1L91.9 51.1ZM92.3 59.6L94.5 62.0L95.9 60.1L96.1 59.0L93.9 57.5L92.2 58.6ZM95.9 60.1L98.3 61.6L99.4 61.3L98.8 57.7L98.8 57.7L96.1 59.0ZM105.1 83.9L107.2 85.4L109.6 84.3L109.3 81.9L107.5 80.8L105.3 83.0ZM111.1 85.4L112.8 85.1L112.4 81.6L111.5 81.1L109.3 81.9L109.6 84.3ZM107.3 88.1L109.6 89.1L111.1 85.4L109.6 84.3L107.2 85.4ZM114.3 88.5L116.6 89.0L118.0 88.0L117.8 84.9L116.5 83.8L113.6 85.4ZM117.8 84.9L118.0 88.0L118.2 88.1L118.2 84.8ZM113.0 92.1L116.3 92.9L117.1 92.5L116.6 89.0L114.3 88.5L112.5 90.1Z"/>
<path fill="#7c1818" d="M90.1 8.7L89.2 5.3L87.2 5.3L86.3 8.5L88.1 9.9ZM110.6 9.4L112.5 7.9L112.7 5.9L109.2 5.5L107.8 8.8ZM79.0 11.4L81.8 11.9L83.2 10.9L83.6 9.2L82.4 7.7L78.2 8.2L77.9 8.6L77.9 8.7ZM88.1 10.1L88.1 9.9L86.3 8.5L83.6 9.2L83.2 10.9L85.3 13.0ZM99.7 17.7L97.0 19.8L97.0 21.4L100.5 22.8L101.1 22.2L100.5 18.8ZM116.1 19.0L114.8 18.9L114.6 19.0L113.9 23.0L115.1 24.4L118.2 21.7L118.2 21.7ZM104.2 28.5L102.2 29.1L104.1 32.9L105.2 33.1L107.1 32.3L107.0 30.6ZM116.4 35.5L116.6 34.1L114.0 32.8L112.5 34.0L112.6 35.9L115.3 36.6ZM116.4 35.5L115.3 36.6L116.2 39.3L116.4 39.4L118.2 39.0L118.2 36.2ZM93.2 49.1L96.9 50.4L97.2 50.2L98.4 47.6L96.8 46.4L93.0 48.2ZM103.5 57.9L104.9 57.1L105.1 54.7L104.1 51.6L101.4 53.8L102.8 57.5ZM116.4 56.3L114.3 57.4L115.6 60.7L117.9 60.8L118.2 60.5L118.2 58.0ZM110.8 67.9L112.2 64.4L107.9 64.4L107.8 64.5L107.5 67.4L108.5 67.9Z"/>
<path fill="#581111" d="M116.7 5.5L114.1 4.9L112.8 5.8L112.7 5.9L112.5 7.9L114.6 9.9L117.8 8.4ZM107.3 9.0L105.4 7.7L104.0 7.8L102.8 11.1L106.3 12.3L106.7 12.1ZM93.8 13.2L91.8 11.5L89.4 12.4L89.1 14.2L91.2 15.5L93.0 14.9ZM97.0 19.8L99.7 17.7L99.8 16.8L97.3 15.4L94.8 16.7L94.8 18.2ZM117.9 14.5L114.7 15.2L114.8 18.9L116.1 19.0L118.2 17.7L118.2 14.9ZM86.1 21.8L87.6 23.9L89.1 22.1L89.0 19.4L87.3 19.0ZM89.1 22.1L87.6 23.9L87.5 25.4L90.1 26.2L91.5 25.2L91.4 23.0ZM93.2 25.4L94.1 29.9L94.2 29.9L97.1 28.5L96.8 25.7L95.6 24.4ZM116.4 26.2L117.6 29.8L117.9 30.0L118.2 29.8L118.2 25.5ZM99.3 29.7L99.0 31.8L101.4 34.7L104.1 32.9L102.2 29.1L101.5 28.8ZM101.3 35.0L104.3 37.7L105.8 37.2L105.2 33.1L104.1 32.9L101.4 34.7ZM99.4 38.8L99.1 37.3L97.7 36.4L95.1 36.2L94.1 40.2L98.5 39.5ZM107.1 40.5L107.0 37.7L105.8 37.2L104.3 37.7L103.6 38.8L105.9 41.5ZM105.3 42.7L107.9 44.6L109.9 42.3L109.7 41.5L107.1 40.5L105.9 41.5ZM116.4 39.4L117.4 42.7L118.2 42.9L118.2 39.0ZM99.1 43.6L97.4 43.0L95.7 43.7L96.8 46.4L98.4 47.6L99.4 47.3ZM109.2 46.3L108.1 45.6L105.3 47.8L105.4 50.1L106.7 50.5L109.1 49.7ZM116.0 49.8L117.8 46.8L116.0 45.7L113.4 48.7ZM108.1 56.7L111.2 59.5L112.9 57.5L111.1 54.0L109.4 54.3ZM113.2 62.7L115.6 60.7L114.3 57.4L112.9 57.5L111.2 59.5L111.1 59.9ZM110.5 72.2L113.0 70.3L113.0 69.6L110.8 67.9L108.5 67.9L109.5 71.3ZM115.0 78.9L117.0 77.8L116.8 76.9L114.7 74.4L112.2 75.6L112.6 77.8ZM112.8 85.1L113.6 85.4L116.5 83.8L116.6 83.3L114.5 81.0L112.4 81.6Z"/>
<path fill="#161688" d="M65.0 7.8L64.9 11.7L66.2 12.4L66.7 12.2L68.8 8.3L66.9 6.8ZM50.4 12.0L51.1 13.7L54.0 15.5L55.1 15.1L55.5 11.2L51.6 10.7ZM62.4 20.6L61.5 19.4L58.1 19.8L57.9 21.8L60.7 23.5L62.4 21.6ZM62.1 26.9L65.0 26.2L64.0 22.3L62.4 21.6L60.7 23.5L60.7 25.4ZM61.5 29.9L61.8 29.7L62.1 26.9L60.7 25.4L57.1 26.5L57.3 29.3ZM51.5 35.2L51.9 32.8L48.8 32.4L47.4 34.2L48.0 36.2L48.7 36.6ZM53.2 36.8L51.5 35.2L48.7 36.6L50.0 39.4L50.3 39.5L51.5 39.3ZM65.0 37.4L62.2 35.7L60.2 36.6L60.9 39.3L62.5 39.8L64.9 37.7ZM79.5 39.7L80.8 40.3L84.0 38.9L84.0 37.2L82.6 35.9L79.1 37.5ZM62.5 39.8L63.1 43.1L63.6 43.3L67.0 42.5L67.3 41.3L64.9 37.7ZM46.4 57.4L46.4 54.6L44.5 53.6L42.1 54.8L42.3 55.4L45.6 57.8ZM80.1 68.3L78.0 68.1L77.0 71.6L81.5 71.5ZM52.9 74.8L54.7 75.0L56.9 73.2L56.9 72.9L55.2 70.8L51.4 72.2ZM39.1 76.5L39.4 78.6L40.8 79.2L42.4 78.8L42.8 75.6L40.9 74.1ZM82.9 82.1L82.2 82.4L82.1 85.2L84.3 86.3L85.6 85.6L85.3 82.5ZM77.5 92.2L80.6 92.0L81.7 91.2L81.2 89.0L76.8 88.9ZM89.3 92.1L86.2 92.4L89.5 96.0L90.0 95.8L90.9 94.1Z"/>
<path fill="#2fb52a" d="M101.2 11.8L102.8 11.1L104.0 7.8L102.1 6.6L99.5 8.9ZM47.6 21.5L45.8 19.4L44.1 19.1L43.4 19.6L43.3 19.8L42.8 21.3L43.0 22.3L45.2 24.7ZM54.0 26.0L52.2 25.9L50.9 26.4L50.6 27.9L52.2 30.5L54.4 29.2ZM40.6 32.9L43.5 33.6L44.3 33.1L44.9 30.4L42.9 28.4L40.6 29.6ZM68.1 31.8L69.8 33.9L71.7 33.2L72.1 29.3L70.4 28.7L68.5 29.6ZM94.2 29.9L94.7 32.7L97.6 32.8L99.0 31.8L99.3 29.7L97.1 28.5ZM47.4 34.2L44.3 33.1L43.5 33.6L43.4 35.0L46.0 37.5L48.0 36.2ZM72.8 37.3L74.9 36.4L73.2 33.4L71.7 33.2L69.8 33.9L69.5 36.5L69.5 36.5ZM85.0 40.1L84.0 38.9L80.8 40.3L81.3 43.4L83.1 43.8L84.9 42.7ZM53.0 44.0L52.2 45.9L53.9 48.0L56.7 47.1L55.9 44.5L54.0 43.4ZM46.3 48.2L44.4 45.9L43.6 46.2L41.3 50.4L45.5 50.7L45.9 50.5ZM63.3 47.1L59.7 46.9L58.6 48.3L58.7 49.2L60.8 50.4L63.5 50.1ZM67.2 55.1L67.0 56.2L69.2 58.3L72.1 57.8L68.7 54.1ZM76.6 57.0L77.8 56.8L78.0 56.1L76.0 52.6L73.5 55.3L73.7 56.3ZM36.2 60.7L35.8 58.0L32.4 58.6L32.3 60.8L34.3 62.2ZM45.0 59.3L45.6 57.8L42.3 55.4L40.4 59.3L40.7 60.1L42.5 60.7ZM56.6 60.6L57.5 62.7L60.9 61.1L59.9 58.7L57.4 57.6L57.0 57.8ZM3.0 64.5L6.5 64.5L7.1 64.3L7.4 63.1L6.1 59.5L3.1 60.4ZM115.6 60.7L113.2 62.7L113.3 63.8L115.0 65.0L116.9 63.9L117.9 60.8ZM103.0 67.7L105.9 68.4L107.5 67.4L107.8 64.5L104.7 62.8L102.8 66.6ZM57.4 67.4L58.7 70.6L61.5 70.6L61.4 67.7L60.1 66.7ZM93.5 72.4L92.4 68.0L91.2 67.5L90.4 67.9L89.6 70.6L93.0 72.7ZM42.8 75.6L45.1 75.0L45.7 72.4L43.0 70.8L40.6 72.6L40.9 74.1ZM61.5 70.6L58.7 70.6L56.9 72.9L56.9 73.2L58.2 74.1L60.3 74.2L62.3 71.4ZM68.2 75.4L69.1 76.1L71.9 74.3L71.9 72.4L69.3 72.1L68.1 72.7ZM93.0 72.7L89.6 70.6L87.9 72.8L88.5 74.5L91.7 74.8ZM56.9 73.2L54.7 75.0L56.0 78.1L58.3 77.4L58.2 74.1ZM45.3 80.8L45.0 79.9L42.4 78.8L40.8 79.2L40.6 82.3L42.2 83.2ZM46.5 81.9L49.3 81.2L50.0 78.3L46.0 78.2L45.0 79.9L45.3 80.8ZM60.1 86.1L62.0 84.6L62.9 82.7L60.2 81.0L58.0 82.1L58.5 84.8ZM54.5 85.2L52.2 86.6L52.4 88.6L52.5 88.7L54.3 89.4L56.3 88.5L56.6 86.0ZM69.9 89.5L71.2 88.7L71.4 86.6L69.9 84.2L67.5 85.8L69.1 89.2ZM71.4 86.6L71.2 88.7L74.1 89.5L76.2 88.4L76.2 86.0L74.8 85.2ZM81.1 86.8L81.4 88.7L83.6 88.0L84.3 86.3L82.1 85.2ZM47.4 92.4L50.8 92.4L52.5 88.7L52.4 88.6L48.6 88.8L46.6 90.6L47.0 92.2ZM91.2 88.6L90.5 88.8L89.3 92.1L90.9 94.1L93.3 92.6L93.4 90.1ZM71.9 95.7L71.6 93.7L70.0 92.8L67.8 93.8L67.1 95.3L70.1 97.3ZM73.1 96.5L76.9 95.2L76.6 94.0L73.7 92.6L71.6 93.7L71.9 95.7ZM56.7 99.9L61.1 99.7L61.5 99.2L61.2 96.6L60.7 96.2L58.1 96.7ZM96.0 102.7L97.8 104.3L100.0 102.3L99.6 100.1L97.0 100.0L95.9 100.4ZM104.1 102.4L102.2 103.3L101.3 106.6L102.8 107.7L105.6 105.5L104.6 102.7ZM65.2 113.6L65.4 114.2L68.4 115.0L69.4 112.5L68.9 111.3L67.7 110.2L65.7 110.4Z"/>
<path fill="#6b1515" d="M49.6 11.8L47.7 12.4L46.3 14.8L48.9 16.7L51.1 13.7L50.4 12.0ZM72.4 15.8L71.4 18.5L71.7 19.5L73.2 20.2L76.5 18.5L75.5 15.7L74.7 15.6ZM55.9 37.0L58.4 35.2L58.7 33.7L56.5 31.5L54.1 32.6L55.7 36.8ZM71.0 40.8L69.5 39.6L67.3 41.3L67.0 42.5L68.5 44.0L70.1 43.5ZM73.3 41.1L74.1 42.8L76.5 44.0L77.6 40.8L75.6 39.2ZM76.5 44.0L76.5 44.0L80.3 44.1L81.3 43.4L80.8 40.3L79.5 39.7L77.6 40.8ZM83.8 47.4L83.1 43.8L81.3 43.4L80.3 44.1L80.7 47.2L81.7 48.4ZM66.9 49.8L67.5 47.1L64.1 45.8L63.3 47.1L63.5 50.1L64.5 50.7ZM69.9 50.0L68.4 50.9L69.2 53.4L71.8 53.1L72.9 50.9ZM76.2 50.8L74.4 49.7L72.9 50.9L71.8 53.1L73.5 55.3L76.0 52.6ZM54.5 54.4L51.7 53.8L50.6 55.7L50.6 56.7L53.2 57.8L53.9 57.6ZM85.0 54.4L84.3 53.9L82.3 54.4L81.8 58.0L83.8 58.7L86.2 57.4ZM90.1 54.9L88.1 53.3L85.0 54.4L86.2 57.4L87.8 58.3L89.4 57.5ZM53.2 57.8L53.1 61.3L56.6 60.6L57.0 57.8L53.9 57.6ZM83.6 61.3L82.9 61.8L82.3 63.4L85.0 64.9L86.1 63.7L85.4 61.7ZM85.4 61.7L86.1 63.7L87.8 63.7L89.6 62.8L87.8 59.6ZM51.0 68.8L48.2 68.2L46.6 72.1L48.6 73.0L51.3 72.2ZM87.9 72.8L84.9 71.4L84.2 71.7L84.2 74.6L86.1 76.9L88.3 75.0L88.5 74.5ZM65.0 79.1L64.7 78.4L61.9 77.4L60.8 78.4L60.2 81.0L62.9 82.7L63.7 82.6ZM75.7 80.7L78.0 84.1L80.5 82.1L78.6 78.6L75.9 79.8ZM88.6 83.4L91.5 81.7L91.2 79.9L90.3 79.5L86.9 79.8L85.7 82.2ZM52.2 86.6L51.1 85.2L48.0 85.6L48.6 88.8L52.4 88.6ZM73.7 92.6L74.1 89.5L71.2 88.7L69.9 89.5L70.0 92.8L71.6 93.7ZM86.5 89.5L85.7 92.1L86.2 92.4L89.3 92.1L90.5 88.8L87.4 88.6ZM60.7 96.2L61.2 96.6L64.8 96.1L63.4 92.9L62.5 92.4L60.8 93.1ZM84.3 92.9L81.7 91.2L80.6 92.0L79.8 95.1L81.9 96.0L84.0 94.4ZM95.0 95.9L95.0 94.2L93.3 92.6L90.9 94.1L90.0 95.8L93.7 97.8ZM61.5 99.2L61.1 99.7L61.1 103.1L62.0 103.3L65.1 101.1L65.4 100.2ZM86.7 102.1L86.2 99.9L85.7 99.7L84.4 100.0L82.8 103.5L85.5 103.6ZM74.5 102.3L73.6 103.1L73.6 103.1L75.5 106.5L76.5 106.2L78.4 103.9ZM76.5 106.2L79.5 107.7L81.9 105.3L81.7 104.4L79.8 103.1L78.4 103.9Z"/>
<path fill="#1c1ca8" d="M49.6 21.6L51.0 19.9L51.1 19.3L49.2 17.8L45.8 19.4L47.6 21.5ZM107.0 26.0L108.4 27.4L109.5 27.6L111.1 25.9L110.8 22.9L109.7 22.3L107.1 24.6ZM42.9 28.4L44.9 30.4L46.9 29.8L46.2 25.4L45.3 25.0L43.1 27.6ZM39.2 36.2L41.4 38.5L43.4 35.0L43.5 33.6L40.6 32.9L39.5 33.6ZM52.1 51.2L53.7 50.7L53.9 48.0L52.2 45.9L49.7 47.1L49.7 47.2L50.7 50.6ZM84.4 52.3L86.4 49.5L85.8 47.8L83.8 47.4L81.7 48.4L81.3 49.2ZM36.2 52.9L38.7 54.8L41.1 54.0L40.8 50.6L40.8 50.6L37.0 51.0ZM51.7 53.8L54.5 54.4L56.5 52.9L56.2 51.7L53.7 50.7L52.1 51.2ZM42.3 55.4L42.1 54.8L41.1 54.0L38.7 54.8L37.4 57.5L40.4 59.3ZM83.8 58.7L81.8 58.0L79.5 59.0L79.5 59.5L82.9 61.8L83.6 61.3ZM40.1 67.5L43.0 69.7L44.6 67.5L43.2 64.7L40.3 65.4ZM61.4 67.7L63.6 66.9L64.0 64.4L61.9 63.6L60.4 65.3L60.1 66.7ZM81.8 71.8L84.2 71.7L84.9 71.4L85.5 67.8L85.2 67.5L81.3 67.0L80.1 68.3L81.5 71.5ZM51.3 72.2L48.6 73.0L48.6 75.6L50.9 77.2L52.9 74.8L51.4 72.2ZM77.0 71.6L76.0 72.9L76.3 74.2L77.2 74.7L80.9 73.7L81.8 71.8L81.5 71.5ZM81.9 76.2L84.2 74.6L84.2 71.7L81.8 71.8L80.9 73.7ZM48.0 85.6L51.1 85.2L51.3 82.5L49.3 81.2L46.5 81.9L46.6 84.9ZM62.9 82.7L62.0 84.6L64.6 87.2L65.9 85.6L65.1 83.5L63.7 82.6ZM81.2 89.0L81.7 91.2L84.3 92.9L85.7 92.1L86.5 89.5L83.6 88.0L81.4 88.7Z"/>
<path d="M62.5 -2.5L73.3 5.7L80.9 18.3L85.6 32.8" fill="none" stroke="#0d0808" stroke-opacity="0.5" stroke-width="7" stroke-dasharray="7 1.5 5 2"/>
<path d="M62.5 -2.5L73.3 5.7L80.9 18.3L85.6 32.8L90.0 45.5L94.2 58.1L99.6 69.0L105.0 78.1L111.7 85.7L120.4 91.6" fill="none" stroke="#0d0808" stroke-opacity="0.6" stroke-width="4.4" stroke-linejoin="round" stroke-dasharray="10 1.2 7 1.8 13 1"/>
<path d="M63.3 -2.3L74.1 5.9L81.7 18.5L86.4 33.0L90.8 45.7L95.0 58.3L100.4 69.2L105.8 78.3L112.5 85.9L121.2 91.8" fill="none" stroke="#8a7a7a" stroke-opacity="0.55" stroke-width="1.1" stroke-dasharray="5 3 2 4"/>
<path d="M62.5 -2.5L73.3 5.7L80.9 18.3L85.6 32.8L90.0 45.5L94.2 58.1L99.6 69.0L105.0 78.1L111.7 85.7L120.4 91.6" fill="none" stroke="#d8c8c8" stroke-opacity="0.4" stroke-width="0.6" stroke-dasharray="6 4 3 5" transform="translate(2.6 -1.0)"/>
<path d="M55.6 -1.6L49.8 11.1L43.5 23.8L39.8 38.2L37.5 52.7L35.7 65.4L38.0 76.3L46.2 87.1L55.2 98.0L67.9 107.9" fill="none" stroke="#e0a0a0" stroke-opacity="0.7" stroke-width="0.8"/>
<path d="M77.0 108.8L87.8 102.5L96.0 94.4L98.1 83.5L95.1 72.6L90.5 58.1L86.0 43.7L80.6 29.2L75.1 18.3L67.9 7.5L58.3 -1.6" fill="none" stroke="#e8b0b0" stroke-opacity="0.5" stroke-width="0.6"/>
<path d="M0.9 32.8L17.2 56.3L33.5 47.3L51.6 3.8" fill="none" stroke="#e8c0c0" stroke-opacity="0.45" stroke-width="0.55"/>
<path d="M17.2 56.3L26.3 90.7L19.0 114.3" fill="none" stroke="#e8c0c0" stroke-opacity="0.45" stroke-width="0.55"/>
<path d="M33.5 47.3L57.0 81.7L69.7 112.5" fill="none" stroke="#e8c0c0" stroke-opacity="0.45" stroke-width="0.55"/>
<path d="M0.9 65.4L17.2 56.3" fill="none" stroke="#e8c0c0" stroke-opacity="0.45" stroke-width="0.55"/>
<path d="M26.3 90.7L57.0 81.7" fill="none" stroke="#e8c0c0" stroke-opacity="0.45" stroke-width="0.55"/>
</g>
</g></g>
<text transform="translate(156.20 667.60) scale(1.08 1)" fill="#ffffff" font-size="7.4">200 µm</text>
<rect x="161.3" y="670.4" width="16.6" height="2.9" fill="#fff"/>
<text transform="translate(148.30 665.00) rotate(-90) scale(1.07 1)" text-anchor="middle" font-size="8.6">Laminin</text>
<text transform="translate(153.30 691.70)" fill="#1b75bc" font-size="8.6" textLength="117.4" lengthAdjust="spacingAndGlyphs">Type I (slow-twitch oxidative)</text>
<text transform="translate(153.30 702.80)" fill="#2db34a" font-size="8.6" textLength="120.8" lengthAdjust="spacingAndGlyphs">Type IIa (fast-twitch oxidative)</text>
<text transform="translate(153.30 714.20)" fill="#222222" font-size="8.6" textLength="90.1" lengthAdjust="spacingAndGlyphs">Type IIx (intermediate)</text>
<text transform="translate(153.30 725.20)" fill="#e8222a" font-size="8.6" textLength="122.2" lengthAdjust="spacingAndGlyphs">Type IIb (fast-twitch glycolitic)</text>
<text transform="translate(284.60 559.20) scale(1.12 1)" font-weight="bold" fill="#000" font-size="12" stroke="#000" stroke-width="0.6">p</text>
<rect x="336.20" y="643.00" width="6.90" height="38.10" fill="#888888" stroke="#3c3c3c" stroke-width="0.5"/>
<rect x="347.00" y="649.80" width="6.80" height="31.30" fill="#d3cb00" stroke="#4a4800" stroke-width="0.5"/>
<rect x="357.80" y="651.70" width="6.80" height="29.40" fill="#64217a" stroke="#2a0838" stroke-width="0.5"/>
<rect x="375.60" y="650.40" width="6.90" height="30.70" fill="#888888" stroke="#3c3c3c" stroke-width="0.5"/>
<rect x="386.40" y="658.80" width="6.70" height="22.30" fill="#d3cb00" stroke="#4a4800" stroke-width="0.5"/>
<rect x="397.20" y="655.60" width="6.80" height="25.50" fill="#64217a" stroke="#2a0838" stroke-width="0.5"/>
<rect x="415.00" y="629.90" width="6.90" height="51.20" fill="#888888" stroke="#3c3c3c" stroke-width="0.5"/>
<rect x="425.80" y="643.80" width="6.70" height="37.30" fill="#d3cb00" stroke="#4a4800" stroke-width="0.5"/>
<rect x="436.60" y="635.90" width="6.80" height="45.20" fill="#64217a" stroke="#2a0838" stroke-width="0.5"/>
<rect x="454.30" y="602.30" width="6.90" height="78.80" fill="#888888" stroke="#3c3c3c" stroke-width="0.5"/>
<rect x="465.20" y="632.50" width="6.70" height="48.60" fill="#d3cb00" stroke="#4a4800" stroke-width="0.5"/>
<rect x="476.00" y="618.00" width="6.80" height="63.10" fill="#64217a" stroke="#2a0838" stroke-width="0.5"/>
<line x1="332.50" y1="578.05" x2="332.50" y2="681.10" stroke="#858585" stroke-width="1"/>
<line x1="328.70" y1="681.10" x2="486.20" y2="681.10" stroke="#555555" stroke-width="0.9"/>
<line x1="328.70" y1="578.40" x2="332.50" y2="578.40" stroke="#858585" stroke-width="0.7"/>
<text transform="translate(324.80 581.05) scale(0.985 1)" text-anchor="end">2,000</text>
<line x1="328.70" y1="604.00" x2="332.50" y2="604.00" stroke="#858585" stroke-width="0.7"/>
<text transform="translate(324.80 606.65) scale(0.985 1)" text-anchor="end">1,500</text>
<line x1="328.70" y1="629.60" x2="332.50" y2="629.60" stroke="#858585" stroke-width="0.7"/>
<text transform="translate(324.80 632.25) scale(0.985 1)" text-anchor="end">1,000</text>
<line x1="328.70" y1="655.20" x2="332.50" y2="655.20" stroke="#858585" stroke-width="0.7"/>
<text transform="translate(324.80 657.85) scale(0.985 1)" text-anchor="end">500</text>
<line x1="328.70" y1="681.10" x2="332.50" y2="681.10" stroke="#555555" stroke-width="0.7"/>
<text transform="translate(324.80 683.75) scale(0.985 1)" text-anchor="end">0</text>
<g fill="#fff" stroke="#2a2a2a" stroke-width="0.55">
<circle cx="337.8" cy="641.2" r="2"/>
<circle cx="341.0" cy="641.2" r="2"/>
<circle cx="339.6" cy="644.3" r="2"/>
<circle cx="339.6" cy="646.4" r="2"/>
<circle cx="350.4" cy="639.8" r="2"/>
<circle cx="350.4" cy="646.4" r="2"/>
<circle cx="348.8" cy="650.4" r="2"/>
<circle cx="351.5" cy="653.0" r="2"/>
<circle cx="348.8" cy="655.6" r="2"/>
<circle cx="360.9" cy="644.3" r="2"/>
<circle cx="360.9" cy="649.0" r="2"/>
<circle cx="359.3" cy="651.7" r="2"/>
<circle cx="362.5" cy="650.4" r="2"/>
<circle cx="360.9" cy="653.0" r="2"/>
<circle cx="377.7" cy="648.3" r="2"/>
<circle cx="380.6" cy="649.8" r="2"/>
<circle cx="379.0" cy="651.7" r="2"/>
<circle cx="389.6" cy="653.5" r="2"/>
<circle cx="387.7" cy="658.2" r="2"/>
<circle cx="391.4" cy="658.2" r="2"/>
<circle cx="389.6" cy="661.4" r="2"/>
<circle cx="400.3" cy="653.0" r="2"/>
<circle cx="398.8" cy="656.9" r="2"/>
<circle cx="402.2" cy="656.9" r="2"/>
<circle cx="400.3" cy="655.6" r="2"/>
<circle cx="416.6" cy="627.2" r="2"/>
<circle cx="419.8" cy="626.7" r="2"/>
<circle cx="416.6" cy="630.6" r="2"/>
<circle cx="419.8" cy="631.2" r="2"/>
<circle cx="418.5" cy="635.1" r="2"/>
<circle cx="429.2" cy="634.6" r="2"/>
<circle cx="427.7" cy="641.9" r="2"/>
<circle cx="430.8" cy="643.0" r="2"/>
<circle cx="429.2" cy="645.1" r="2"/>
<circle cx="429.2" cy="649.0" r="2"/>
<circle cx="439.7" cy="631.2" r="2"/>
<circle cx="438.2" cy="633.3" r="2"/>
<circle cx="441.3" cy="633.8" r="2"/>
<circle cx="439.7" cy="636.4" r="2"/>
<circle cx="439.7" cy="639.8" r="2"/>
<circle cx="457.6" cy="594.7" r="2"/>
<circle cx="456.0" cy="601.7" r="2"/>
<circle cx="459.4" cy="602.3" r="2"/>
<circle cx="457.6" cy="603.6" r="2"/>
<circle cx="468.1" cy="626.2" r="2"/>
<circle cx="469.9" cy="628.0" r="2"/>
<circle cx="468.1" cy="632.0" r="2"/>
<circle cx="466.5" cy="635.9" r="2"/>
<circle cx="469.9" cy="635.1" r="2"/>
<circle cx="477.8" cy="608.8" r="2"/>
<circle cx="481.0" cy="611.5" r="2"/>
<circle cx="479.6" cy="616.2" r="2"/>
<circle cx="479.6" cy="621.4" r="2"/>
<circle cx="479.6" cy="626.2" r="2"/>
</g>
<text transform="translate(296.20 629.30) rotate(-90)" text-anchor="middle" font-size="8.6" textLength="66.3" lengthAdjust="spacingAndGlyphs">CSA mean (µm<tspan dy="-2.8" font-size="5">2</tspan><tspan dy="2.8">)</tspan></text>
<line x1="339.60" y1="622.00" x2="360.90" y2="622.00" stroke="#4a4a4a" stroke-width="0.7"/>
<text transform="translate(350.25 619.50) scale(0.985 1)" text-anchor="middle">0.0331</text>
<line x1="339.60" y1="631.20" x2="350.20" y2="631.20" stroke="#4a4a4a" stroke-width="0.7"/>
<text transform="translate(344.90 628.70) scale(0.985 1)" text-anchor="middle">0.0299</text>
<line x1="379.00" y1="629.90" x2="400.30" y2="629.90" stroke="#4a4a4a" stroke-width="0.7"/>
<text transform="translate(389.65 627.40) scale(0.985 1)" text-anchor="middle">0.0047</text>
<line x1="379.00" y1="639.30" x2="389.60" y2="639.30" stroke="#4a4a4a" stroke-width="0.7"/>
<text transform="translate(384.30 636.80) scale(0.985 1)" text-anchor="middle">0.0003</text>
<line x1="418.50" y1="616.20" x2="429.00" y2="616.20" stroke="#4a4a4a" stroke-width="0.7"/>
<text transform="translate(423.75 613.70) scale(0.985 1)" text-anchor="middle">0.0008</text>
<line x1="429.00" y1="625.40" x2="439.70" y2="625.40" stroke="#4a4a4a" stroke-width="0.7"/>
<text transform="translate(434.35 622.90) scale(0.985 1)" text-anchor="middle">0.0319</text>
<line x1="457.60" y1="578.40" x2="479.10" y2="578.40" stroke="#4a4a4a" stroke-width="0.7"/>
<text transform="translate(468.35 575.90) scale(0.985 1)" text-anchor="middle">0.0006</text>
<line x1="457.60" y1="589.90" x2="468.60" y2="589.90" stroke="#4a4a4a" stroke-width="0.7"/>
<text transform="translate(463.10 587.40) scale(0.985 1)" text-anchor="middle">&lt;0.0001</text>
<line x1="468.60" y1="603.60" x2="479.10" y2="603.60" stroke="#4a4a4a" stroke-width="0.7"/>
<text transform="translate(473.85 601.10) scale(0.985 1)" text-anchor="middle">0.0013</text>
<line x1="350.40" y1="681.10" x2="350.40" y2="684.70" stroke="#555555" stroke-width="0.7"/>
<text transform="translate(351.20 693.00) rotate(-45) scale(1.07 1)" text-anchor="end" font-size="8.6">Type I</text>
<line x1="389.70" y1="681.10" x2="389.70" y2="684.70" stroke="#555555" stroke-width="0.7"/>
<text transform="translate(392.70 692.20) rotate(-45) scale(1.07 1)" text-anchor="end" font-size="8.6">Type IIa</text>
<line x1="429.10" y1="681.10" x2="429.10" y2="684.70" stroke="#555555" stroke-width="0.7"/>
<text transform="translate(431.10 692.20) rotate(-45) scale(1.07 1)" text-anchor="end" font-size="8.6">Type IIx</text>
<line x1="468.50" y1="681.10" x2="468.50" y2="684.70" stroke="#555555" stroke-width="0.7"/>
<text transform="translate(471.00 692.20) rotate(-45) scale(1.07 1)" text-anchor="end" font-size="8.6">Type IIb</text>
<text transform="translate(409.30 563.00) scale(1.07 1)" text-anchor="middle" font-size="8.6">Fibre type-specific</text>
<text transform="translate(409.30 573.30) scale(1.07 1)" text-anchor="middle" font-size="8.6">CSA</text>
<rect x="496.2" y="576.9" width="7.6" height="7.6" fill="#888888" stroke="#3a3a3a" stroke-width="0.4"/>
<text transform="translate(507.60 582.90) scale(0.99 1)" font-size="7.7">ctr</text>
<rect x="496.2" y="588.0" width="7.6" height="7.6" fill="#d3cb00" stroke="#3a3a3a" stroke-width="0.4"/>
<text transform="translate(507.60 594.00) scale(0.99 1)" font-size="7.7">C26 veh</text>
<rect x="496.2" y="599.2" width="7.6" height="7.6" fill="#64217a" stroke="#3a3a3a" stroke-width="0.4"/>
<text transform="translate(507.60 605.20) scale(0.99 1)" font-size="7.7">C26 Rol</text>
</svg></body></html>
